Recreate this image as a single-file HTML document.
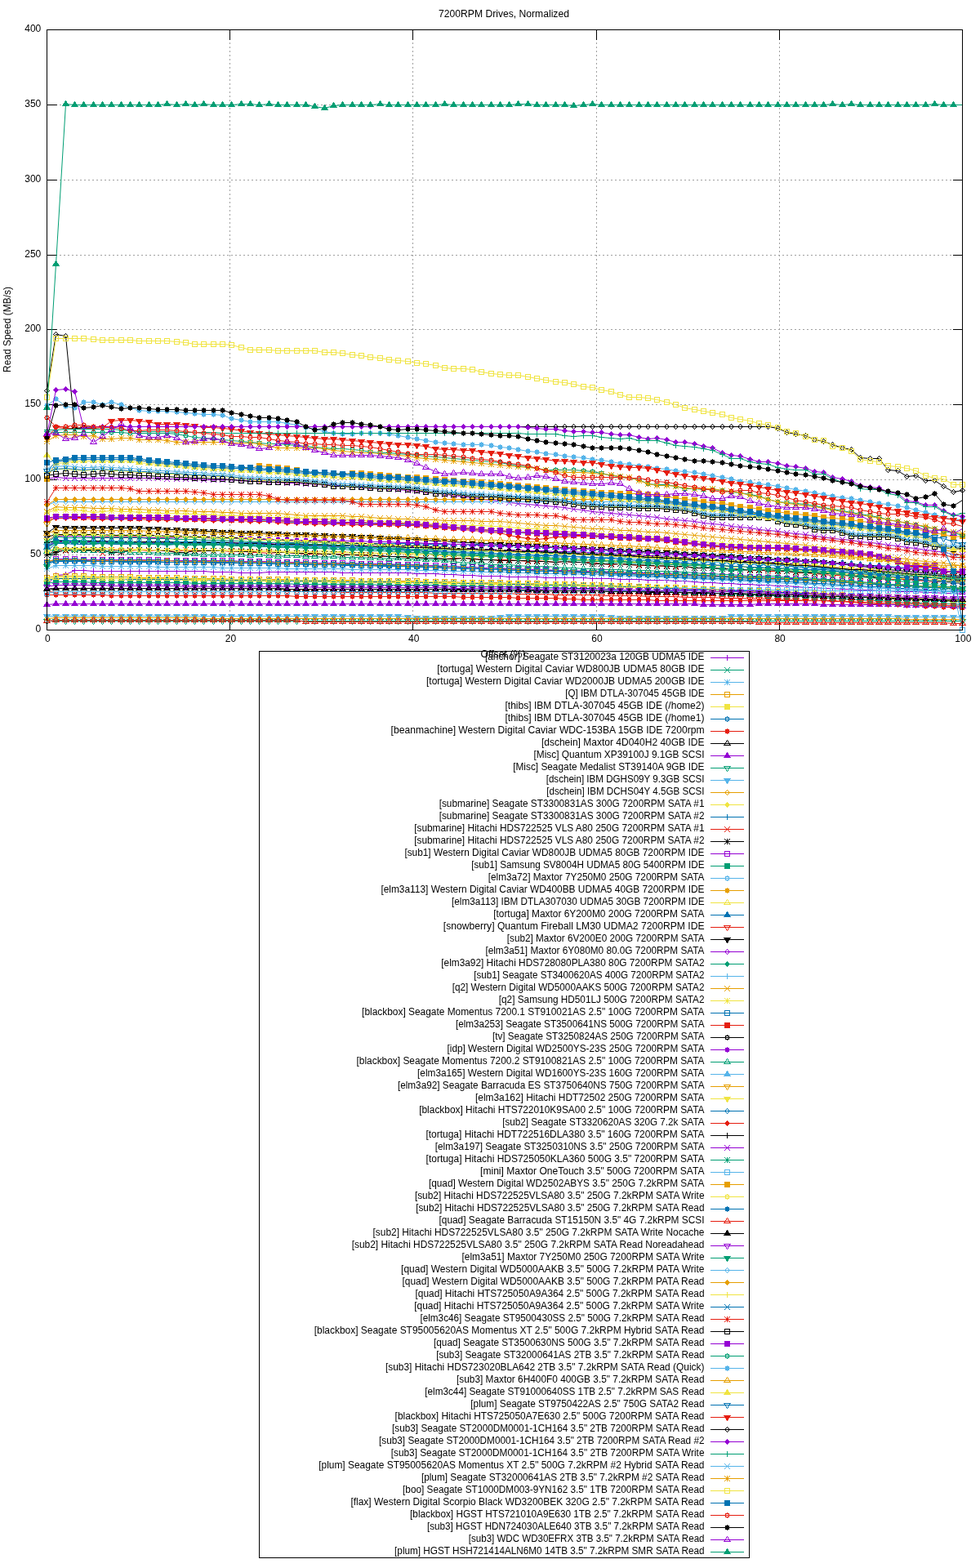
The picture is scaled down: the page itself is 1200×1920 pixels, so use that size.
<!DOCTYPE html>
<html lang="en">
<head>
<meta charset="utf-8">
<title>7200RPM Drives, Normalized</title>
<style>
html,body{margin:0;padding:0;background:#fff}
body{width:1200px;height:1920px;overflow:hidden}
svg{display:block}
text{font-family:'Liberation Sans', sans-serif;font-size:12px;fill:#000}
.g{stroke:#a0a0a0;stroke-width:1;stroke-dasharray:2 3;fill:none;shape-rendering:crispEdges}
.t{stroke:#000;stroke-width:1;fill:none;shape-rendering:crispEdges}
.s{fill:none;stroke-width:1;stroke-linejoin:round}
</style>
</head>
<body>
<svg width="1200" height="1920" viewBox="0 0 1200 1920">
<rect width="1200" height="1920" fill="#fff"/>
<defs>
<path id="p0" shape-rendering="crispEdges" d="M-0.5 -3.5h1v1h-1zM-0.5 -2.5h1v1h-1zM-0.5 -1.5h1v1h-1zM-0.5 0.5h1v1h-1zM-0.5 1.5h1v1h-1zM-0.5 2.5h1v1h-1zM-3.5 -0.5h7v1h-7z"/>
<path id="p1" shape-rendering="crispEdges" d="M-3.5 -3.5h1v1h-1zM2.5 -3.5h1v1h-1zM-2.5 -2.5h1v1h-1zM1.5 -2.5h1v1h-1zM-1.5 -1.5h1v1h-1zM0.5 -1.5h1v1h-1zM-1.5 0.5h1v1h-1zM0.5 0.5h1v1h-1zM-2.5 1.5h1v1h-1zM1.5 1.5h1v1h-1zM-3.5 2.5h1v1h-1zM2.5 2.5h1v1h-1zM-0.5 -0.5h1v1h-1z"/>
<path id="p2" shape-rendering="crispEdges" d="M-3.5 -3.5h1v1h-1zM-0.5 -3.5h1v1h-1zM2.5 -3.5h1v1h-1zM-2.5 -2.5h1v1h-1zM-0.5 -2.5h1v1h-1zM1.5 -2.5h1v1h-1zM-1.5 -1.5h1v1h-1zM-0.5 -1.5h1v1h-1zM0.5 -1.5h1v1h-1zM-1.5 0.5h1v1h-1zM-0.5 0.5h1v1h-1zM0.5 0.5h1v1h-1zM-2.5 1.5h1v1h-1zM-0.5 1.5h1v1h-1zM1.5 1.5h1v1h-1zM-3.5 2.5h1v1h-1zM-0.5 2.5h1v1h-1zM2.5 2.5h1v1h-1zM-3.5 -0.5h7v1h-7z"/>
<path id="p3" shape-rendering="crispEdges" d="M-3.5 -3.5h7v1h-7zM-3.5 2.5h7v1h-7zM-3.5 -2.5h1v1h-1zM2.5 -2.5h1v1h-1zM-3.5 -1.5h1v1h-1zM2.5 -1.5h1v1h-1zM-3.5 -0.5h1v1h-1zM2.5 -0.5h1v1h-1zM-3.5 0.5h1v1h-1zM2.5 0.5h1v1h-1zM-3.5 1.5h1v1h-1zM2.5 1.5h1v1h-1z"/>
<path id="p4" shape-rendering="crispEdges" d="M-3.5 -3.5h7v1h-7zM-3.5 -2.5h7v1h-7zM-3.5 -1.5h7v1h-7zM-3.5 -0.5h7v1h-7zM-3.5 0.5h7v1h-7zM-3.5 1.5h7v1h-7zM-3.5 2.5h7v1h-7z"/>
<path id="p5" shape-rendering="crispEdges" d="M-0.5 -3.5h1v1h-1zM-0.5 2.5h1v1h-1zM-2.5 -2.5h5v1h-5zM-2.5 1.5h5v1h-5zM-2.5 -1.5h1v1h-1zM1.5 -1.5h1v1h-1zM-2.5 0.5h1v1h-1zM1.5 0.5h1v1h-1zM-3.5 -0.5h2v1h-2zM1.5 -0.5h2v1h-2z"/>
<path id="p6" shape-rendering="crispEdges" d="M-0.5 -3.5h1v1h-1zM-0.5 2.5h1v1h-1zM-3.5 -0.5h7v1h-7zM-2.5 -2.5h5v1h-5zM-2.5 -1.5h5v1h-5zM-2.5 0.5h5v1h-5zM-2.5 1.5h5v1h-5z"/>
<path id="p7" shape-rendering="crispEdges" d="M-0.5 -4.5h1v1h-1zM-1.5 -3.5h1v1h-1zM0.5 -3.5h1v1h-1zM-1.5 -2.5h1v1h-1zM0.5 -2.5h1v1h-1zM-2.5 -1.5h1v1h-1zM1.5 -1.5h1v1h-1zM-3.5 -0.5h1v1h-1zM2.5 -0.5h1v1h-1zM-3.5 0.5h1v1h-1zM2.5 0.5h1v1h-1zM-4.5 1.5h9v1h-9z"/>
<path id="p8" shape-rendering="crispEdges" d="M-0.5 -4.5h1v1h-1zM-1.5 -3.5h3v1h-3zM-1.5 -2.5h3v1h-3zM-2.5 -1.5h5v1h-5zM-3.5 -0.5h7v1h-7zM-3.5 0.5h7v1h-7zM-4.5 1.5h9v1h-9z"/>
<path id="p9" shape-rendering="crispEdges" d="M-0.5 3.5h1v1h-1zM-1.5 2.5h1v1h-1zM0.5 2.5h1v1h-1zM-1.5 1.5h1v1h-1zM0.5 1.5h1v1h-1zM-2.5 0.5h1v1h-1zM1.5 0.5h1v1h-1zM-3.5 -0.5h1v1h-1zM2.5 -0.5h1v1h-1zM-3.5 -1.5h1v1h-1zM2.5 -1.5h1v1h-1zM-4.5 -2.5h9v1h-9z"/>
<path id="p10" shape-rendering="crispEdges" d="M-0.5 3.5h1v1h-1zM-1.5 2.5h3v1h-3zM-1.5 1.5h3v1h-3zM-2.5 0.5h5v1h-5zM-3.5 -0.5h7v1h-7zM-3.5 -1.5h7v1h-7zM-4.5 -2.5h9v1h-9z"/>
<path id="p11" shape-rendering="crispEdges" d="M-0.5 -3.5h1v1h-1zM-1.5 -2.5h1v1h-1zM0.5 -2.5h1v1h-1zM-2.5 -1.5h1v1h-1zM1.5 -1.5h1v1h-1zM-3.5 -0.5h1v1h-1zM2.5 -0.5h1v1h-1zM-2.5 0.5h1v1h-1zM1.5 0.5h1v1h-1zM-1.5 1.5h1v1h-1zM0.5 1.5h1v1h-1zM-0.5 2.5h1v1h-1z"/>
<path id="p12" shape-rendering="crispEdges" d="M-0.5 -3.5h1v1h-1zM-1.5 -2.5h3v1h-3zM-2.5 -1.5h5v1h-5zM-3.5 -0.5h7v1h-7zM-2.5 0.5h5v1h-5zM-1.5 1.5h3v1h-3zM-0.5 2.5h1v1h-1z"/>
<marker id="m1" markerUnits="userSpaceOnUse" markerWidth="12" markerHeight="12" viewBox="-6 -6 12 12" refX="0" refY="0" overflow="visible" shape-rendering="crispEdges"><use href="#p0" fill="#9400d3"/></marker>
<marker id="m2" markerUnits="userSpaceOnUse" markerWidth="12" markerHeight="12" viewBox="-6 -6 12 12" refX="0" refY="0" overflow="visible" shape-rendering="crispEdges"><use href="#p1" fill="#009e73"/></marker>
<marker id="m3" markerUnits="userSpaceOnUse" markerWidth="12" markerHeight="12" viewBox="-6 -6 12 12" refX="0" refY="0" overflow="visible" shape-rendering="crispEdges"><use href="#p2" fill="#56b4e9"/></marker>
<marker id="m4" markerUnits="userSpaceOnUse" markerWidth="12" markerHeight="12" viewBox="-6 -6 12 12" refX="0" refY="0" overflow="visible" shape-rendering="crispEdges"><use href="#p3" fill="#e69f00"/></marker>
<marker id="m5" markerUnits="userSpaceOnUse" markerWidth="12" markerHeight="12" viewBox="-6 -6 12 12" refX="0" refY="0" overflow="visible" shape-rendering="crispEdges"><use href="#p4" fill="#f0e442"/></marker>
<marker id="m6" markerUnits="userSpaceOnUse" markerWidth="12" markerHeight="12" viewBox="-6 -6 12 12" refX="0" refY="0" overflow="visible" shape-rendering="crispEdges"><use href="#p5" fill="#0072b2"/></marker>
<marker id="m7" markerUnits="userSpaceOnUse" markerWidth="12" markerHeight="12" viewBox="-6 -6 12 12" refX="0" refY="0" overflow="visible" shape-rendering="crispEdges"><use href="#p6" fill="#e51e10"/></marker>
<marker id="m8" markerUnits="userSpaceOnUse" markerWidth="12" markerHeight="12" viewBox="-6 -6 12 12" refX="0" refY="0" overflow="visible" shape-rendering="crispEdges"><use href="#p7" fill="#000000"/></marker>
<marker id="m9" markerUnits="userSpaceOnUse" markerWidth="12" markerHeight="12" viewBox="-6 -6 12 12" refX="0" refY="0" overflow="visible" shape-rendering="crispEdges"><use href="#p8" fill="#9400d3"/></marker>
<marker id="m10" markerUnits="userSpaceOnUse" markerWidth="12" markerHeight="12" viewBox="-6 -6 12 12" refX="0" refY="0" overflow="visible" shape-rendering="crispEdges"><use href="#p9" fill="#009e73"/></marker>
<marker id="m11" markerUnits="userSpaceOnUse" markerWidth="12" markerHeight="12" viewBox="-6 -6 12 12" refX="0" refY="0" overflow="visible" shape-rendering="crispEdges"><use href="#p10" fill="#56b4e9"/></marker>
<marker id="m12" markerUnits="userSpaceOnUse" markerWidth="12" markerHeight="12" viewBox="-6 -6 12 12" refX="0" refY="0" overflow="visible" shape-rendering="crispEdges"><use href="#p11" fill="#e69f00"/></marker>
<marker id="m13" markerUnits="userSpaceOnUse" markerWidth="12" markerHeight="12" viewBox="-6 -6 12 12" refX="0" refY="0" overflow="visible" shape-rendering="crispEdges"><use href="#p12" fill="#f0e442"/></marker>
<marker id="m14" markerUnits="userSpaceOnUse" markerWidth="12" markerHeight="12" viewBox="-6 -6 12 12" refX="0" refY="0" overflow="visible" shape-rendering="crispEdges"><use href="#p0" fill="#0072b2"/></marker>
<marker id="m15" markerUnits="userSpaceOnUse" markerWidth="12" markerHeight="12" viewBox="-6 -6 12 12" refX="0" refY="0" overflow="visible" shape-rendering="crispEdges"><use href="#p1" fill="#e51e10"/></marker>
<marker id="m16" markerUnits="userSpaceOnUse" markerWidth="12" markerHeight="12" viewBox="-6 -6 12 12" refX="0" refY="0" overflow="visible" shape-rendering="crispEdges"><use href="#p2" fill="#000000"/></marker>
<marker id="m17" markerUnits="userSpaceOnUse" markerWidth="12" markerHeight="12" viewBox="-6 -6 12 12" refX="0" refY="0" overflow="visible" shape-rendering="crispEdges"><use href="#p3" fill="#9400d3"/></marker>
<marker id="m18" markerUnits="userSpaceOnUse" markerWidth="12" markerHeight="12" viewBox="-6 -6 12 12" refX="0" refY="0" overflow="visible" shape-rendering="crispEdges"><use href="#p4" fill="#009e73"/></marker>
<marker id="m19" markerUnits="userSpaceOnUse" markerWidth="12" markerHeight="12" viewBox="-6 -6 12 12" refX="0" refY="0" overflow="visible" shape-rendering="crispEdges"><use href="#p5" fill="#56b4e9"/></marker>
<marker id="m20" markerUnits="userSpaceOnUse" markerWidth="12" markerHeight="12" viewBox="-6 -6 12 12" refX="0" refY="0" overflow="visible" shape-rendering="crispEdges"><use href="#p6" fill="#e69f00"/></marker>
<marker id="m21" markerUnits="userSpaceOnUse" markerWidth="12" markerHeight="12" viewBox="-6 -6 12 12" refX="0" refY="0" overflow="visible" shape-rendering="crispEdges"><use href="#p7" fill="#f0e442"/></marker>
<marker id="m22" markerUnits="userSpaceOnUse" markerWidth="12" markerHeight="12" viewBox="-6 -6 12 12" refX="0" refY="0" overflow="visible" shape-rendering="crispEdges"><use href="#p8" fill="#0072b2"/></marker>
<marker id="m23" markerUnits="userSpaceOnUse" markerWidth="12" markerHeight="12" viewBox="-6 -6 12 12" refX="0" refY="0" overflow="visible" shape-rendering="crispEdges"><use href="#p9" fill="#e51e10"/></marker>
<marker id="m24" markerUnits="userSpaceOnUse" markerWidth="12" markerHeight="12" viewBox="-6 -6 12 12" refX="0" refY="0" overflow="visible" shape-rendering="crispEdges"><use href="#p10" fill="#000000"/></marker>
<marker id="m25" markerUnits="userSpaceOnUse" markerWidth="12" markerHeight="12" viewBox="-6 -6 12 12" refX="0" refY="0" overflow="visible" shape-rendering="crispEdges"><use href="#p11" fill="#9400d3"/></marker>
<marker id="m26" markerUnits="userSpaceOnUse" markerWidth="12" markerHeight="12" viewBox="-6 -6 12 12" refX="0" refY="0" overflow="visible" shape-rendering="crispEdges"><use href="#p12" fill="#009e73"/></marker>
<marker id="m27" markerUnits="userSpaceOnUse" markerWidth="12" markerHeight="12" viewBox="-6 -6 12 12" refX="0" refY="0" overflow="visible" shape-rendering="crispEdges"><use href="#p0" fill="#56b4e9"/></marker>
<marker id="m28" markerUnits="userSpaceOnUse" markerWidth="12" markerHeight="12" viewBox="-6 -6 12 12" refX="0" refY="0" overflow="visible" shape-rendering="crispEdges"><use href="#p1" fill="#e69f00"/></marker>
<marker id="m29" markerUnits="userSpaceOnUse" markerWidth="12" markerHeight="12" viewBox="-6 -6 12 12" refX="0" refY="0" overflow="visible" shape-rendering="crispEdges"><use href="#p2" fill="#f0e442"/></marker>
<marker id="m30" markerUnits="userSpaceOnUse" markerWidth="12" markerHeight="12" viewBox="-6 -6 12 12" refX="0" refY="0" overflow="visible" shape-rendering="crispEdges"><use href="#p3" fill="#0072b2"/></marker>
<marker id="m31" markerUnits="userSpaceOnUse" markerWidth="12" markerHeight="12" viewBox="-6 -6 12 12" refX="0" refY="0" overflow="visible" shape-rendering="crispEdges"><use href="#p4" fill="#e51e10"/></marker>
<marker id="m32" markerUnits="userSpaceOnUse" markerWidth="12" markerHeight="12" viewBox="-6 -6 12 12" refX="0" refY="0" overflow="visible" shape-rendering="crispEdges"><use href="#p5" fill="#000000"/></marker>
<marker id="m33" markerUnits="userSpaceOnUse" markerWidth="12" markerHeight="12" viewBox="-6 -6 12 12" refX="0" refY="0" overflow="visible" shape-rendering="crispEdges"><use href="#p6" fill="#9400d3"/></marker>
<marker id="m34" markerUnits="userSpaceOnUse" markerWidth="12" markerHeight="12" viewBox="-6 -6 12 12" refX="0" refY="0" overflow="visible" shape-rendering="crispEdges"><use href="#p7" fill="#009e73"/></marker>
<marker id="m35" markerUnits="userSpaceOnUse" markerWidth="12" markerHeight="12" viewBox="-6 -6 12 12" refX="0" refY="0" overflow="visible" shape-rendering="crispEdges"><use href="#p8" fill="#56b4e9"/></marker>
<marker id="m36" markerUnits="userSpaceOnUse" markerWidth="12" markerHeight="12" viewBox="-6 -6 12 12" refX="0" refY="0" overflow="visible" shape-rendering="crispEdges"><use href="#p9" fill="#e69f00"/></marker>
<marker id="m37" markerUnits="userSpaceOnUse" markerWidth="12" markerHeight="12" viewBox="-6 -6 12 12" refX="0" refY="0" overflow="visible" shape-rendering="crispEdges"><use href="#p10" fill="#f0e442"/></marker>
<marker id="m38" markerUnits="userSpaceOnUse" markerWidth="12" markerHeight="12" viewBox="-6 -6 12 12" refX="0" refY="0" overflow="visible" shape-rendering="crispEdges"><use href="#p11" fill="#0072b2"/></marker>
<marker id="m39" markerUnits="userSpaceOnUse" markerWidth="12" markerHeight="12" viewBox="-6 -6 12 12" refX="0" refY="0" overflow="visible" shape-rendering="crispEdges"><use href="#p12" fill="#e51e10"/></marker>
<marker id="m40" markerUnits="userSpaceOnUse" markerWidth="12" markerHeight="12" viewBox="-6 -6 12 12" refX="0" refY="0" overflow="visible" shape-rendering="crispEdges"><use href="#p0" fill="#000000"/></marker>
<marker id="m41" markerUnits="userSpaceOnUse" markerWidth="12" markerHeight="12" viewBox="-6 -6 12 12" refX="0" refY="0" overflow="visible" shape-rendering="crispEdges"><use href="#p1" fill="#9400d3"/></marker>
<marker id="m42" markerUnits="userSpaceOnUse" markerWidth="12" markerHeight="12" viewBox="-6 -6 12 12" refX="0" refY="0" overflow="visible" shape-rendering="crispEdges"><use href="#p2" fill="#009e73"/></marker>
<marker id="m43" markerUnits="userSpaceOnUse" markerWidth="12" markerHeight="12" viewBox="-6 -6 12 12" refX="0" refY="0" overflow="visible" shape-rendering="crispEdges"><use href="#p3" fill="#56b4e9"/></marker>
<marker id="m44" markerUnits="userSpaceOnUse" markerWidth="12" markerHeight="12" viewBox="-6 -6 12 12" refX="0" refY="0" overflow="visible" shape-rendering="crispEdges"><use href="#p4" fill="#e69f00"/></marker>
<marker id="m45" markerUnits="userSpaceOnUse" markerWidth="12" markerHeight="12" viewBox="-6 -6 12 12" refX="0" refY="0" overflow="visible" shape-rendering="crispEdges"><use href="#p5" fill="#f0e442"/></marker>
<marker id="m46" markerUnits="userSpaceOnUse" markerWidth="12" markerHeight="12" viewBox="-6 -6 12 12" refX="0" refY="0" overflow="visible" shape-rendering="crispEdges"><use href="#p6" fill="#0072b2"/></marker>
<marker id="m47" markerUnits="userSpaceOnUse" markerWidth="12" markerHeight="12" viewBox="-6 -6 12 12" refX="0" refY="0" overflow="visible" shape-rendering="crispEdges"><use href="#p7" fill="#e51e10"/></marker>
<marker id="m48" markerUnits="userSpaceOnUse" markerWidth="12" markerHeight="12" viewBox="-6 -6 12 12" refX="0" refY="0" overflow="visible" shape-rendering="crispEdges"><use href="#p8" fill="#000000"/></marker>
<marker id="m49" markerUnits="userSpaceOnUse" markerWidth="12" markerHeight="12" viewBox="-6 -6 12 12" refX="0" refY="0" overflow="visible" shape-rendering="crispEdges"><use href="#p9" fill="#9400d3"/></marker>
<marker id="m50" markerUnits="userSpaceOnUse" markerWidth="12" markerHeight="12" viewBox="-6 -6 12 12" refX="0" refY="0" overflow="visible" shape-rendering="crispEdges"><use href="#p10" fill="#009e73"/></marker>
<marker id="m51" markerUnits="userSpaceOnUse" markerWidth="12" markerHeight="12" viewBox="-6 -6 12 12" refX="0" refY="0" overflow="visible" shape-rendering="crispEdges"><use href="#p11" fill="#56b4e9"/></marker>
<marker id="m52" markerUnits="userSpaceOnUse" markerWidth="12" markerHeight="12" viewBox="-6 -6 12 12" refX="0" refY="0" overflow="visible" shape-rendering="crispEdges"><use href="#p12" fill="#e69f00"/></marker>
<marker id="m53" markerUnits="userSpaceOnUse" markerWidth="12" markerHeight="12" viewBox="-6 -6 12 12" refX="0" refY="0" overflow="visible" shape-rendering="crispEdges"><use href="#p0" fill="#f0e442"/></marker>
<marker id="m54" markerUnits="userSpaceOnUse" markerWidth="12" markerHeight="12" viewBox="-6 -6 12 12" refX="0" refY="0" overflow="visible" shape-rendering="crispEdges"><use href="#p1" fill="#0072b2"/></marker>
<marker id="m55" markerUnits="userSpaceOnUse" markerWidth="12" markerHeight="12" viewBox="-6 -6 12 12" refX="0" refY="0" overflow="visible" shape-rendering="crispEdges"><use href="#p2" fill="#e51e10"/></marker>
<marker id="m56" markerUnits="userSpaceOnUse" markerWidth="12" markerHeight="12" viewBox="-6 -6 12 12" refX="0" refY="0" overflow="visible" shape-rendering="crispEdges"><use href="#p3" fill="#000000"/></marker>
<marker id="m57" markerUnits="userSpaceOnUse" markerWidth="12" markerHeight="12" viewBox="-6 -6 12 12" refX="0" refY="0" overflow="visible" shape-rendering="crispEdges"><use href="#p4" fill="#9400d3"/></marker>
<marker id="m58" markerUnits="userSpaceOnUse" markerWidth="12" markerHeight="12" viewBox="-6 -6 12 12" refX="0" refY="0" overflow="visible" shape-rendering="crispEdges"><use href="#p5" fill="#009e73"/></marker>
<marker id="m59" markerUnits="userSpaceOnUse" markerWidth="12" markerHeight="12" viewBox="-6 -6 12 12" refX="0" refY="0" overflow="visible" shape-rendering="crispEdges"><use href="#p6" fill="#56b4e9"/></marker>
<marker id="m60" markerUnits="userSpaceOnUse" markerWidth="12" markerHeight="12" viewBox="-6 -6 12 12" refX="0" refY="0" overflow="visible" shape-rendering="crispEdges"><use href="#p7" fill="#e69f00"/></marker>
<marker id="m61" markerUnits="userSpaceOnUse" markerWidth="12" markerHeight="12" viewBox="-6 -6 12 12" refX="0" refY="0" overflow="visible" shape-rendering="crispEdges"><use href="#p8" fill="#f0e442"/></marker>
<marker id="m62" markerUnits="userSpaceOnUse" markerWidth="12" markerHeight="12" viewBox="-6 -6 12 12" refX="0" refY="0" overflow="visible" shape-rendering="crispEdges"><use href="#p9" fill="#0072b2"/></marker>
<marker id="m63" markerUnits="userSpaceOnUse" markerWidth="12" markerHeight="12" viewBox="-6 -6 12 12" refX="0" refY="0" overflow="visible" shape-rendering="crispEdges"><use href="#p10" fill="#e51e10"/></marker>
<marker id="m64" markerUnits="userSpaceOnUse" markerWidth="12" markerHeight="12" viewBox="-6 -6 12 12" refX="0" refY="0" overflow="visible" shape-rendering="crispEdges"><use href="#p11" fill="#000000"/></marker>
<marker id="m65" markerUnits="userSpaceOnUse" markerWidth="12" markerHeight="12" viewBox="-6 -6 12 12" refX="0" refY="0" overflow="visible" shape-rendering="crispEdges"><use href="#p12" fill="#9400d3"/></marker>
<marker id="m66" markerUnits="userSpaceOnUse" markerWidth="12" markerHeight="12" viewBox="-6 -6 12 12" refX="0" refY="0" overflow="visible" shape-rendering="crispEdges"><use href="#p0" fill="#009e73"/></marker>
<marker id="m67" markerUnits="userSpaceOnUse" markerWidth="12" markerHeight="12" viewBox="-6 -6 12 12" refX="0" refY="0" overflow="visible" shape-rendering="crispEdges"><use href="#p1" fill="#56b4e9"/></marker>
<marker id="m68" markerUnits="userSpaceOnUse" markerWidth="12" markerHeight="12" viewBox="-6 -6 12 12" refX="0" refY="0" overflow="visible" shape-rendering="crispEdges"><use href="#p2" fill="#e69f00"/></marker>
<marker id="m69" markerUnits="userSpaceOnUse" markerWidth="12" markerHeight="12" viewBox="-6 -6 12 12" refX="0" refY="0" overflow="visible" shape-rendering="crispEdges"><use href="#p3" fill="#f0e442"/></marker>
<marker id="m70" markerUnits="userSpaceOnUse" markerWidth="12" markerHeight="12" viewBox="-6 -6 12 12" refX="0" refY="0" overflow="visible" shape-rendering="crispEdges"><use href="#p4" fill="#0072b2"/></marker>
<marker id="m71" markerUnits="userSpaceOnUse" markerWidth="12" markerHeight="12" viewBox="-6 -6 12 12" refX="0" refY="0" overflow="visible" shape-rendering="crispEdges"><use href="#p5" fill="#e51e10"/></marker>
<marker id="m72" markerUnits="userSpaceOnUse" markerWidth="12" markerHeight="12" viewBox="-6 -6 12 12" refX="0" refY="0" overflow="visible" shape-rendering="crispEdges"><use href="#p6" fill="#000000"/></marker>
<marker id="m73" markerUnits="userSpaceOnUse" markerWidth="12" markerHeight="12" viewBox="-6 -6 12 12" refX="0" refY="0" overflow="visible" shape-rendering="crispEdges"><use href="#p7" fill="#9400d3"/></marker>
<marker id="m74" markerUnits="userSpaceOnUse" markerWidth="12" markerHeight="12" viewBox="-6 -6 12 12" refX="0" refY="0" overflow="visible" shape-rendering="crispEdges"><use href="#p8" fill="#009e73"/></marker>
</defs>
<g class="g">
<path d="M57.5 679.5H1178.5"/>
<path d="M57.5 587.5H1178.5"/>
<path d="M57.5 495.5H1178.5"/>
<path d="M57.5 403.5H1178.5"/>
<path d="M57.5 312.5H1178.5"/>
<path d="M57.5 220.5H1178.5"/>
<path d="M57.5 128.5H1178.5"/>
<path d="M281.5 36.5V771.5"/>
<path d="M505.5 36.5V771.5"/>
<path d="M730.5 36.5V771.5"/>
<path d="M954.5 36.5V771.5"/>
</g>
<g class="t">
<path d="M57.5 771.5h12M1178.5 771.5h-12M57.5 679.5h12M1178.5 679.5h-12M57.5 587.5h12M1178.5 587.5h-12M57.5 495.5h12M1178.5 495.5h-12M57.5 403.5h12M1178.5 403.5h-12M57.5 312.5h12M1178.5 312.5h-12M57.5 220.5h12M1178.5 220.5h-12M57.5 128.5h12M1178.5 128.5h-12M57.5 36.5h12M1178.5 36.5h-12M57.5 771.5v-12M57.5 36.5v12M281.5 771.5v-12M281.5 36.5v12M505.5 771.5v-12M505.5 36.5v12M730.5 771.5v-12M730.5 36.5v12M954.5 771.5v-12M954.5 36.5v12M1178.5 771.5v-12M1178.5 36.5v12"/>
</g>
<g id="ylabels" text-anchor="end">
<text x="50.3" y="773.9" textLength="6.7" lengthAdjust="spacingAndGlyphs">0</text>
<text x="50.3" y="682" textLength="13.3" lengthAdjust="spacingAndGlyphs">50</text>
<text x="50.3" y="590.1" textLength="20" lengthAdjust="spacingAndGlyphs">100</text>
<text x="50.3" y="498.3" textLength="20" lengthAdjust="spacingAndGlyphs">150</text>
<text x="50.3" y="406.4" textLength="20" lengthAdjust="spacingAndGlyphs">200</text>
<text x="50.3" y="314.5" textLength="20" lengthAdjust="spacingAndGlyphs">250</text>
<text x="50.3" y="222.7" textLength="20" lengthAdjust="spacingAndGlyphs">300</text>
<text x="50.3" y="130.8" textLength="20" lengthAdjust="spacingAndGlyphs">350</text>
<text x="50.3" y="38.9" textLength="20" lengthAdjust="spacingAndGlyphs">400</text>
</g>
<g id="xlabels" text-anchor="middle">
<text x="58.3" y="785.7">0</text>
<text x="282.5" y="785.7">20</text>
<text x="506.7" y="785.7">40</text>
<text x="730.9" y="785.7">60</text>
<text x="955.1" y="785.7">80</text>
<text x="1179.3" y="785.7">100</text>
</g>
<text id="title" x="617" y="21" text-anchor="middle" textLength="159.8" lengthAdjust="spacingAndGlyphs">7200RPM Drives, Normalized</text>
<text id="ylabel" transform="translate(13.2 403.5) rotate(-90)" text-anchor="middle" textLength="104.9" lengthAdjust="spacingAndGlyphs">Read Speed (MB/s)</text>
<text id="xlabel" x="616" y="804.6" text-anchor="middle" textLength="55.1" lengthAdjust="spacingAndGlyphs">Offset (%)</text>
<g id="plots">
<g id="s1">
<text x="862.5" y="807.9" text-anchor="end" textLength="268.5" lengthAdjust="spacingAndGlyphs">[anchor] Seagate ST3120023a 120GB UDMA5 IDE</text>
<path class="s" stroke="#9400d3" d="M870 805.5H911"/><use href="#p0" x="890.5" y="805.5" fill="#9400d3"/>
<polyline class="s" stroke="#9400d3" marker-start="url(#m1)" marker-mid="url(#m1)" marker-end="url(#m1)" points="57.5,716.5 68.5,704.5 80.5,703.5 91.5,698.5 102.5,698.5 114.5,699.5 125.5,699.5 136.5,699.5 148.5,699.5 159.5,699.5 170.5,699.5 182.5,699.5 193.5,699.5 204.5,699.5 216.5,699.5 227.5,699.5 238.5,699.5 249.5,699.5 261.5,700.5 272.5,700.5 283.5,700.5 295.5,701.5 306.5,701.5 317.5,701.5 329.5,700.5 340.5,700.5 351.5,700.5 363.5,700.5 374.5,700.5 385.5,700.5 397.5,700.5 408.5,700.5 419.5,701.5 431.5,701.5 442.5,701.5 453.5,701.5 465.5,701.5 476.5,701.5 487.5,701.5 499.5,701.5 510.5,702.5 521.5,702.5 533.5,702.5 544.5,703.5 555.5,703.5 567.5,704.5 578.5,704.5 589.5,705.5 601.5,705.5 612.5,705.5 623.5,706.5 634.5,706.5 646.5,706.5 657.5,706.5 668.5,707.5 680.5,707.5 691.5,707.5 702.5,707.5 714.5,707.5 725.5,708.5 736.5,708.5 748.5,708.5 759.5,709.5 770.5,709.5 782.5,709.5 793.5,710.5 804.5,710.5 816.5,710.5 827.5,711.5 838.5,711.5 850.5,712.5 861.5,713.5 872.5,713.5 884.5,714.5 895.5,714.5 906.5,715.5 918.5,715.5 929.5,716.5 940.5,716.5 952.5,717.5 963.5,717.5 974.5,718.5 986.5,719.5 997.5,719.5 1008.5,720.5 1019.5,720.5 1031.5,721.5 1042.5,721.5 1053.5,722.5 1065.5,722.5 1076.5,723.5 1087.5,723.5 1099.5,724.5 1110.5,724.5 1121.5,724.5 1133.5,725.5 1144.5,725.5 1155.5,726.5 1167.5,726.5 1178.5,727.5"/>
</g>
<g id="s2">
<text x="862.5" y="822.9" text-anchor="end" textLength="327.2" lengthAdjust="spacingAndGlyphs">[tortuga] Western Digital Caviar WD800JB UDMA5 80GB IDE</text>
<path class="s" stroke="#009e73" d="M870 820.5H911"/><use href="#p1" x="890.5" y="820.5" fill="#009e73"/>
<polyline class="s" stroke="#009e73" marker-start="url(#m2)" marker-mid="url(#m2)" marker-end="url(#m2)" points="57.5,688.5 68.5,685.5 80.5,685.5 91.5,685.5 102.5,685.5 114.5,685.5 125.5,685.5 136.5,685.5 148.5,685.5 159.5,685.5 170.5,686.5 182.5,686.5 193.5,686.5 204.5,686.5 216.5,686.5 227.5,686.5 238.5,686.5 249.5,686.5 261.5,686.5 272.5,687.5 283.5,687.5 295.5,687.5 306.5,687.5 317.5,687.5 329.5,688.5 340.5,688.5 351.5,688.5 363.5,688.5 374.5,689.5 385.5,689.5 397.5,689.5 408.5,689.5 419.5,690.5 431.5,690.5 442.5,690.5 453.5,690.5 465.5,691.5 476.5,691.5 487.5,691.5 499.5,691.5 510.5,692.5 521.5,692.5 533.5,693.5 544.5,693.5 555.5,693.5 567.5,694.5 578.5,694.5 589.5,695.5 601.5,695.5 612.5,696.5 623.5,696.5 634.5,697.5 646.5,697.5 657.5,697.5 668.5,698.5 680.5,698.5 691.5,698.5 702.5,699.5 714.5,699.5 725.5,699.5 736.5,700.5 748.5,700.5 759.5,701.5 770.5,701.5 782.5,701.5 793.5,702.5 804.5,702.5 816.5,702.5 827.5,703.5 838.5,703.5 850.5,704.5 861.5,704.5 872.5,705.5 884.5,705.5 895.5,705.5 906.5,706.5 918.5,706.5 929.5,707.5 940.5,707.5 952.5,708.5 963.5,708.5 974.5,708.5 986.5,709.5 997.5,709.5 1008.5,710.5 1019.5,710.5 1031.5,711.5 1042.5,712.5 1053.5,713.5 1065.5,713.5 1076.5,714.5 1087.5,715.5 1099.5,715.5 1110.5,716.5 1121.5,717.5 1133.5,718.5 1144.5,718.5 1155.5,719.5 1167.5,720.5 1178.5,720.5"/>
</g>
<g id="s3">
<text x="862.5" y="837.9" text-anchor="end" textLength="340.5" lengthAdjust="spacingAndGlyphs">[tortuga] Western Digital Caviar WD2000JB UDMA5 200GB IDE</text>
<path class="s" stroke="#56b4e9" d="M870 835.5H911"/><use href="#p2" x="890.5" y="835.5" fill="#56b4e9"/>
<polyline class="s" stroke="#56b4e9" marker-start="url(#m3)" marker-mid="url(#m3)" marker-end="url(#m3)" points="57.5,696.5 68.5,692.5 80.5,692.5 91.5,692.5 102.5,692.5 114.5,692.5 125.5,693.5 136.5,693.5 148.5,693.5 159.5,693.5 170.5,693.5 182.5,693.5 193.5,694.5 204.5,694.5 216.5,694.5 227.5,694.5 238.5,694.5 249.5,694.5 261.5,694.5 272.5,695.5 283.5,695.5 295.5,695.5 306.5,695.5 317.5,695.5 329.5,695.5 340.5,695.5 351.5,696.5 363.5,696.5 374.5,696.5 385.5,696.5 397.5,696.5 408.5,696.5 419.5,696.5 431.5,697.5 442.5,697.5 453.5,697.5 465.5,697.5 476.5,697.5 487.5,697.5 499.5,697.5 510.5,698.5 521.5,698.5 533.5,698.5 544.5,698.5 555.5,699.5 567.5,699.5 578.5,699.5 589.5,700.5 601.5,700.5 612.5,700.5 623.5,700.5 634.5,701.5 646.5,701.5 657.5,701.5 668.5,702.5 680.5,702.5 691.5,702.5 702.5,702.5 714.5,703.5 725.5,703.5 736.5,703.5 748.5,704.5 759.5,704.5 770.5,705.5 782.5,705.5 793.5,706.5 804.5,706.5 816.5,707.5 827.5,707.5 838.5,708.5 850.5,708.5 861.5,709.5 872.5,709.5 884.5,710.5 895.5,710.5 906.5,711.5 918.5,711.5 929.5,712.5 940.5,713.5 952.5,713.5 963.5,714.5 974.5,714.5 986.5,715.5 997.5,715.5 1008.5,716.5 1019.5,717.5 1031.5,717.5 1042.5,718.5 1053.5,718.5 1065.5,719.5 1076.5,720.5 1087.5,720.5 1099.5,721.5 1110.5,721.5 1121.5,722.5 1133.5,723.5 1144.5,723.5 1155.5,724.5 1167.5,724.5 1178.5,725.5"/>
</g>
<g id="s4">
<text x="862.5" y="852.9" text-anchor="end" textLength="170.3" lengthAdjust="spacingAndGlyphs">[Q] IBM DTLA-307045 45GB IDE</text>
<path class="s" stroke="#e69f00" d="M870 850.5H911"/><use href="#p3" x="890.5" y="850.5" fill="#e69f00"/>
<polyline class="s" stroke="#e69f00" marker-start="url(#m4)" marker-mid="url(#m4)" marker-end="url(#m4)" points="57.5,707.5 68.5,705.5 80.5,705.5 91.5,705.5 102.5,705.5 114.5,706.5 125.5,706.5 136.5,706.5 148.5,706.5 159.5,706.5 170.5,707.5 182.5,707.5 193.5,707.5 204.5,707.5 216.5,707.5 227.5,708.5 238.5,708.5 249.5,708.5 261.5,708.5 272.5,708.5 283.5,709.5 295.5,709.5 306.5,709.5 317.5,709.5 329.5,709.5 340.5,709.5 351.5,709.5 363.5,710.5 374.5,710.5 385.5,710.5 397.5,710.5 408.5,710.5 419.5,710.5 431.5,710.5 442.5,711.5 453.5,711.5 465.5,711.5 476.5,711.5 487.5,711.5 499.5,711.5 510.5,711.5 521.5,712.5 533.5,712.5 544.5,712.5 555.5,712.5 567.5,713.5 578.5,713.5 589.5,713.5 601.5,713.5 612.5,713.5 623.5,714.5 634.5,714.5 646.5,714.5 657.5,714.5 668.5,715.5 680.5,715.5 691.5,715.5 702.5,715.5 714.5,716.5 725.5,716.5 736.5,716.5 748.5,717.5 759.5,717.5 770.5,717.5 782.5,718.5 793.5,718.5 804.5,719.5 816.5,719.5 827.5,719.5 838.5,720.5 850.5,720.5 861.5,721.5 872.5,721.5 884.5,722.5 895.5,722.5 906.5,722.5 918.5,723.5 929.5,723.5 940.5,724.5 952.5,724.5 963.5,725.5 974.5,725.5 986.5,726.5 997.5,726.5 1008.5,727.5 1019.5,728.5 1031.5,728.5 1042.5,729.5 1053.5,729.5 1065.5,730.5 1076.5,731.5 1087.5,731.5 1099.5,732.5 1110.5,732.5 1121.5,733.5 1133.5,734.5 1144.5,734.5 1155.5,735.5 1167.5,735.5 1178.5,736.5"/>
</g>
<g id="s5">
<text x="862.5" y="867.9" text-anchor="end" textLength="244" lengthAdjust="spacingAndGlyphs">[thibs] IBM DTLA-307045 45GB IDE (/home2)</text>
<path class="s" stroke="#f0e442" d="M870 865.5H911"/><use href="#p4" x="890.5" y="865.5" fill="#f0e442"/>
<polyline class="s" stroke="#f0e442" marker-start="url(#m5)" marker-mid="url(#m5)" marker-end="url(#m5)" points="57.5,709.5 68.5,707.5 80.5,707.5 91.5,707.5 102.5,707.5 114.5,707.5 125.5,708.5 136.5,708.5 148.5,708.5 159.5,708.5 170.5,709.5 182.5,709.5 193.5,709.5 204.5,709.5 216.5,709.5 227.5,710.5 238.5,710.5 249.5,710.5 261.5,710.5 272.5,710.5 283.5,711.5 295.5,711.5 306.5,711.5 317.5,711.5 329.5,711.5 340.5,711.5 351.5,711.5 363.5,711.5 374.5,712.5 385.5,712.5 397.5,712.5 408.5,712.5 419.5,712.5 431.5,712.5 442.5,712.5 453.5,713.5 465.5,713.5 476.5,713.5 487.5,713.5 499.5,713.5 510.5,713.5 521.5,713.5 533.5,714.5 544.5,714.5 555.5,714.5 567.5,714.5 578.5,714.5 589.5,715.5 601.5,715.5 612.5,715.5 623.5,715.5 634.5,715.5 646.5,716.5 657.5,716.5 668.5,716.5 680.5,716.5 691.5,716.5 702.5,717.5 714.5,717.5 725.5,717.5 736.5,717.5 748.5,718.5 759.5,718.5 770.5,719.5 782.5,719.5 793.5,719.5 804.5,720.5 816.5,720.5 827.5,721.5 838.5,721.5 850.5,721.5 861.5,722.5 872.5,722.5 884.5,723.5 895.5,723.5 906.5,723.5 918.5,724.5 929.5,724.5 940.5,725.5 952.5,725.5 963.5,726.5 974.5,726.5 986.5,727.5 997.5,727.5 1008.5,728.5 1019.5,729.5 1031.5,729.5 1042.5,730.5 1053.5,730.5 1065.5,731.5 1076.5,732.5 1087.5,732.5 1099.5,733.5 1110.5,733.5 1121.5,734.5 1133.5,735.5 1144.5,735.5 1155.5,736.5 1167.5,736.5 1178.5,737.5"/>
</g>
<g id="s6">
<text x="862.5" y="882.9" text-anchor="end" textLength="244" lengthAdjust="spacingAndGlyphs">[thibs] IBM DTLA-307045 45GB IDE (/home1)</text>
<path class="s" stroke="#0072b2" d="M870 880.5H911"/><use href="#p5" x="890.5" y="880.5" fill="#0072b2"/>
<polyline class="s" stroke="#0072b2" marker-start="url(#m6)" marker-mid="url(#m6)" marker-end="url(#m6)" points="57.5,710.5 68.5,708.5 80.5,708.5 91.5,708.5 102.5,708.5 114.5,708.5 125.5,708.5 136.5,708.5 148.5,708.5 159.5,709.5 170.5,709.5 182.5,709.5 193.5,709.5 204.5,709.5 216.5,709.5 227.5,709.5 238.5,709.5 249.5,709.5 261.5,710.5 272.5,710.5 283.5,710.5 295.5,710.5 306.5,710.5 317.5,710.5 329.5,710.5 340.5,711.5 351.5,711.5 363.5,711.5 374.5,711.5 385.5,711.5 397.5,711.5 408.5,711.5 419.5,712.5 431.5,712.5 442.5,712.5 453.5,712.5 465.5,712.5 476.5,712.5 487.5,712.5 499.5,712.5 510.5,713.5 521.5,713.5 533.5,713.5 544.5,713.5 555.5,713.5 567.5,714.5 578.5,714.5 589.5,714.5 601.5,714.5 612.5,714.5 623.5,715.5 634.5,715.5 646.5,715.5 657.5,715.5 668.5,716.5 680.5,716.5 691.5,716.5 702.5,716.5 714.5,716.5 725.5,717.5 736.5,717.5 748.5,717.5 759.5,718.5 770.5,718.5 782.5,718.5 793.5,719.5 804.5,719.5 816.5,720.5 827.5,720.5 838.5,721.5 850.5,721.5 861.5,721.5 872.5,722.5 884.5,722.5 895.5,723.5 906.5,723.5 918.5,723.5 929.5,724.5 940.5,724.5 952.5,725.5 963.5,725.5 974.5,726.5 986.5,726.5 997.5,727.5 1008.5,728.5 1019.5,728.5 1031.5,729.5 1042.5,729.5 1053.5,730.5 1065.5,731.5 1076.5,731.5 1087.5,732.5 1099.5,732.5 1110.5,733.5 1121.5,733.5 1133.5,734.5 1144.5,735.5 1155.5,735.5 1167.5,736.5 1178.5,736.5"/>
</g>
<g id="s7">
<text x="862.5" y="897.9" text-anchor="end" textLength="383.9" lengthAdjust="spacingAndGlyphs">[beanmachine] Western Digital Caviar WDC-153BA 15GB IDE 7200rpm</text>
<path class="s" stroke="#e51e10" d="M870 895.5H911"/><use href="#p6" x="890.5" y="895.5" fill="#e51e10"/>
<polyline class="s" stroke="#e51e10" marker-start="url(#m7)" marker-mid="url(#m7)" marker-end="url(#m7)" points="57.5,728.5 68.5,728.5 80.5,728.5 91.5,728.5 102.5,728.5 114.5,728.5 125.5,728.5 136.5,729.5 148.5,729.5 159.5,729.5 170.5,729.5 182.5,729.5 193.5,729.5 204.5,729.5 216.5,729.5 227.5,729.5 238.5,729.5 249.5,729.5 261.5,729.5 272.5,729.5 283.5,729.5 295.5,729.5 306.5,729.5 317.5,729.5 329.5,729.5 340.5,729.5 351.5,729.5 363.5,730.5 374.5,730.5 385.5,730.5 397.5,730.5 408.5,730.5 419.5,730.5 431.5,730.5 442.5,730.5 453.5,730.5 465.5,730.5 476.5,730.5 487.5,730.5 499.5,730.5 510.5,730.5 521.5,730.5 533.5,730.5 544.5,730.5 555.5,730.5 567.5,731.5 578.5,731.5 589.5,731.5 601.5,731.5 612.5,731.5 623.5,731.5 634.5,732.5 646.5,732.5 657.5,732.5 668.5,732.5 680.5,732.5 691.5,733.5 702.5,733.5 714.5,734.5 725.5,734.5 736.5,734.5 748.5,734.5 759.5,734.5 770.5,734.5 782.5,734.5 793.5,734.5 804.5,735.5 816.5,735.5 827.5,735.5 838.5,735.5 850.5,735.5 861.5,735.5 872.5,735.5 884.5,735.5 895.5,735.5 906.5,735.5 918.5,735.5 929.5,735.5 940.5,735.5 952.5,735.5 963.5,735.5 974.5,735.5 986.5,735.5 997.5,735.5 1008.5,735.5 1019.5,735.5 1031.5,736.5 1042.5,737.5 1053.5,738.5 1065.5,739.5 1076.5,739.5 1087.5,740.5 1099.5,740.5 1110.5,741.5 1121.5,741.5 1133.5,742.5 1144.5,742.5 1155.5,743.5 1167.5,743.5 1178.5,744.5"/>
</g>
<g id="s8">
<text x="862.5" y="912.9" text-anchor="end" textLength="199.6" lengthAdjust="spacingAndGlyphs">[dschein] Maxtor 4D040H2 40GB IDE</text>
<path class="s" stroke="#000000" d="M870 910.5H911"/><use href="#p7" x="890.5" y="910.5" fill="#000000"/>
<polyline class="s" stroke="#000000" marker-start="url(#m8)" marker-mid="url(#m8)" marker-end="url(#m8)" points="57.5,721.5 68.5,720.5 80.5,720.5 91.5,720.5 102.5,720.5 114.5,720.5 125.5,720.5 136.5,720.5 148.5,720.5 159.5,720.5 170.5,720.5 182.5,720.5 193.5,720.5 204.5,720.5 216.5,720.5 227.5,720.5 238.5,720.5 249.5,720.5 261.5,720.5 272.5,720.5 283.5,720.5 295.5,720.5 306.5,720.5 317.5,720.5 329.5,720.5 340.5,720.5 351.5,721.5 363.5,721.5 374.5,721.5 385.5,721.5 397.5,721.5 408.5,721.5 419.5,721.5 431.5,721.5 442.5,721.5 453.5,721.5 465.5,721.5 476.5,721.5 487.5,721.5 499.5,721.5 510.5,721.5 521.5,721.5 533.5,721.5 544.5,721.5 555.5,721.5 567.5,721.5 578.5,722.5 589.5,722.5 601.5,722.5 612.5,722.5 623.5,722.5 634.5,722.5 646.5,722.5 657.5,722.5 668.5,723.5 680.5,723.5 691.5,723.5 702.5,723.5 714.5,723.5 725.5,723.5 736.5,723.5 748.5,724.5 759.5,724.5 770.5,724.5 782.5,724.5 793.5,725.5 804.5,725.5 816.5,725.5 827.5,725.5 838.5,725.5 850.5,726.5 861.5,726.5 872.5,726.5 884.5,726.5 895.5,727.5 906.5,727.5 918.5,727.5 929.5,727.5 940.5,728.5 952.5,728.5 963.5,728.5 974.5,728.5 986.5,729.5 997.5,729.5 1008.5,730.5 1019.5,730.5 1031.5,730.5 1042.5,731.5 1053.5,731.5 1065.5,731.5 1076.5,732.5 1087.5,732.5 1099.5,733.5 1110.5,733.5 1121.5,733.5 1133.5,734.5 1144.5,734.5 1155.5,734.5 1167.5,735.5 1178.5,735.5"/>
</g>
<g id="s9">
<text x="862.5" y="927.9" text-anchor="end" textLength="209" lengthAdjust="spacingAndGlyphs">[Misc] Quantum XP39100J 9.1GB SCSI</text>
<path class="s" stroke="#9400d3" d="M870 925.5H911"/><use href="#p8" x="890.5" y="925.5" fill="#9400d3"/>
<polyline class="s" stroke="#9400d3" marker-start="url(#m9)" marker-mid="url(#m9)" marker-end="url(#m9)" points="57.5,740.5 68.5,739.5 80.5,739.5 91.5,739.5 102.5,739.5 114.5,739.5 125.5,739.5 136.5,739.5 148.5,739.5 159.5,739.5 170.5,739.5 182.5,739.5 193.5,739.5 204.5,739.5 216.5,739.5 227.5,739.5 238.5,739.5 249.5,739.5 261.5,739.5 272.5,739.5 283.5,739.5 295.5,739.5 306.5,739.5 317.5,739.5 329.5,739.5 340.5,739.5 351.5,739.5 363.5,739.5 374.5,739.5 385.5,739.5 397.5,739.5 408.5,739.5 419.5,739.5 431.5,739.5 442.5,739.5 453.5,739.5 465.5,739.5 476.5,739.5 487.5,739.5 499.5,739.5 510.5,739.5 521.5,739.5 533.5,739.5 544.5,739.5 555.5,739.5 567.5,739.5 578.5,739.5 589.5,739.5 601.5,739.5 612.5,739.5 623.5,739.5 634.5,739.5 646.5,739.5 657.5,739.5 668.5,739.5 680.5,739.5 691.5,739.5 702.5,739.5 714.5,739.5 725.5,739.5 736.5,739.5 748.5,739.5 759.5,739.5 770.5,739.5 782.5,739.5 793.5,739.5 804.5,739.5 816.5,739.5 827.5,739.5 838.5,739.5 850.5,739.5 861.5,740.5 872.5,740.5 884.5,740.5 895.5,740.5 906.5,740.5 918.5,740.5 929.5,739.5 940.5,739.5 952.5,739.5 963.5,739.5 974.5,739.5 986.5,739.5 997.5,739.5 1008.5,740.5 1019.5,740.5 1031.5,740.5 1042.5,740.5 1053.5,740.5 1065.5,740.5 1076.5,740.5 1087.5,740.5 1099.5,740.5 1110.5,741.5 1121.5,741.5 1133.5,741.5 1144.5,741.5 1155.5,741.5 1167.5,742.5 1178.5,742.5"/>
</g>
<g id="s10">
<text x="862.5" y="942.9" text-anchor="end" textLength="234.3" lengthAdjust="spacingAndGlyphs">[Misc] Seagate Medalist ST39140A 9GB IDE</text>
<path class="s" stroke="#009e73" d="M870 940.5H911"/><use href="#p9" x="890.5" y="940.5" fill="#009e73"/>
<polyline class="s" stroke="#009e73" marker-start="url(#m10)" marker-mid="url(#m10)" marker-end="url(#m10)" points="57.5,760.5 68.5,760.5 80.5,760.5 91.5,760.5 102.5,760.5 114.5,760.5 125.5,760.5 136.5,760.5 148.5,760.5 159.5,760.5 170.5,760.5 182.5,760.5 193.5,760.5 204.5,760.5 216.5,760.5 227.5,760.5 238.5,760.5 249.5,760.5 261.5,760.5 272.5,760.5 283.5,760.5 295.5,760.5 306.5,760.5 317.5,760.5 329.5,760.5 340.5,760.5 351.5,760.5 363.5,760.5 374.5,760.5 385.5,760.5 397.5,760.5 408.5,760.5 419.5,760.5 431.5,760.5 442.5,760.5 453.5,760.5 465.5,760.5 476.5,760.5 487.5,760.5 499.5,760.5 510.5,760.5 521.5,760.5 533.5,760.5 544.5,760.5 555.5,760.5 567.5,760.5 578.5,760.5 589.5,760.5 601.5,760.5 612.5,760.5 623.5,760.5 634.5,760.5 646.5,760.5 657.5,760.5 668.5,760.5 680.5,760.5 691.5,760.5 702.5,760.5 714.5,760.5 725.5,760.5 736.5,760.5 748.5,760.5 759.5,760.5 770.5,760.5 782.5,760.5 793.5,760.5 804.5,760.5 816.5,760.5 827.5,760.5 838.5,760.5 850.5,760.5 861.5,760.5 872.5,760.5 884.5,760.5 895.5,760.5 906.5,760.5 918.5,760.5 929.5,760.5 940.5,760.5 952.5,760.5 963.5,760.5 974.5,760.5 986.5,760.5 997.5,760.5 1008.5,760.5 1019.5,760.5 1031.5,760.5 1042.5,760.5 1053.5,760.5 1065.5,760.5 1076.5,760.5 1087.5,760.5 1099.5,760.5 1110.5,760.5 1121.5,760.5 1133.5,760.5 1144.5,760.5 1155.5,760.5 1167.5,760.5 1178.5,760.5"/>
</g>
<g id="s11">
<text x="862.5" y="957.9" text-anchor="end" textLength="193.8" lengthAdjust="spacingAndGlyphs">[dschein] IBM DGHS09Y 9.3GB SCSI</text>
<path class="s" stroke="#56b4e9" d="M870 955.5H911"/><use href="#p10" x="890.5" y="955.5" fill="#56b4e9"/>
<polyline class="s" stroke="#56b4e9" marker-start="url(#m11)" marker-mid="url(#m11)" marker-end="url(#m11)" points="57.5,754.5 68.5,754.5 80.5,754.5 91.5,754.5 102.5,754.5 114.5,754.5 125.5,754.5 136.5,754.5 148.5,754.5 159.5,754.5 170.5,754.5 182.5,754.5 193.5,754.5 204.5,754.5 216.5,754.5 227.5,754.5 238.5,754.5 249.5,754.5 261.5,754.5 272.5,754.5 283.5,754.5 295.5,754.5 306.5,754.5 317.5,754.5 329.5,754.5 340.5,754.5 351.5,754.5 363.5,754.5 374.5,754.5 385.5,754.5 397.5,754.5 408.5,754.5 419.5,754.5 431.5,754.5 442.5,754.5 453.5,754.5 465.5,754.5 476.5,754.5 487.5,754.5 499.5,755.5 510.5,756.5 521.5,756.5 533.5,756.5 544.5,756.5 555.5,756.5 567.5,756.5 578.5,756.5 589.5,756.5 601.5,756.5 612.5,755.5 623.5,754.5 634.5,754.5 646.5,754.5 657.5,754.5 668.5,754.5 680.5,754.5 691.5,754.5 702.5,754.5 714.5,754.5 725.5,754.5 736.5,754.5 748.5,755.5 759.5,756.5 770.5,756.5 782.5,756.5 793.5,756.5 804.5,756.5 816.5,756.5 827.5,756.5 838.5,756.5 850.5,756.5 861.5,756.5 872.5,756.5 884.5,756.5 895.5,754.5 906.5,754.5 918.5,754.5 929.5,754.5 940.5,754.5 952.5,754.5 963.5,754.5 974.5,754.5 986.5,754.5 997.5,754.5 1008.5,754.5 1019.5,754.5 1031.5,754.5 1042.5,754.5 1053.5,754.5 1065.5,754.5 1076.5,754.5 1087.5,754.5 1099.5,755.5 1110.5,755.5 1121.5,755.5 1133.5,755.5 1144.5,755.5 1155.5,755.5 1167.5,755.5 1178.5,755.5"/>
</g>
<g id="s12">
<text x="862.5" y="972.9" text-anchor="end" textLength="193.2" lengthAdjust="spacingAndGlyphs">[dschein] IBM DCHS04Y 4.5GB SCSI</text>
<path class="s" stroke="#e69f00" d="M870 970.5H911"/><use href="#p11" x="890.5" y="970.5" fill="#e69f00"/>
<polyline class="s" stroke="#e69f00" marker-start="url(#m12)" marker-mid="url(#m12)" marker-end="url(#m12)" points="57.5,757.5 68.5,756.5 80.5,756.5 91.5,756.5 102.5,756.5 114.5,756.5 125.5,756.5 136.5,756.5 148.5,756.5 159.5,756.5 170.5,756.5 182.5,756.5 193.5,756.5 204.5,756.5 216.5,756.5 227.5,756.5 238.5,756.5 249.5,757.5 261.5,757.5 272.5,757.5 283.5,757.5 295.5,757.5 306.5,757.5 317.5,757.5 329.5,757.5 340.5,757.5 351.5,757.5 363.5,757.5 374.5,757.5 385.5,757.5 397.5,757.5 408.5,757.5 419.5,757.5 431.5,757.5 442.5,757.5 453.5,757.5 465.5,757.5 476.5,757.5 487.5,757.5 499.5,757.5 510.5,757.5 521.5,757.5 533.5,757.5 544.5,757.5 555.5,757.5 567.5,757.5 578.5,757.5 589.5,757.5 601.5,757.5 612.5,757.5 623.5,757.5 634.5,757.5 646.5,757.5 657.5,757.5 668.5,757.5 680.5,757.5 691.5,757.5 702.5,757.5 714.5,757.5 725.5,757.5 736.5,757.5 748.5,757.5 759.5,757.5 770.5,757.5 782.5,757.5 793.5,757.5 804.5,757.5 816.5,757.5 827.5,757.5 838.5,757.5 850.5,757.5 861.5,757.5 872.5,757.5 884.5,757.5 895.5,757.5 906.5,757.5 918.5,757.5 929.5,757.5 940.5,757.5 952.5,757.5 963.5,757.5 974.5,757.5 986.5,757.5 997.5,757.5 1008.5,757.5 1019.5,757.5 1031.5,757.5 1042.5,757.5 1053.5,757.5 1065.5,757.5 1076.5,757.5 1087.5,757.5 1099.5,757.5 1110.5,758.5 1121.5,758.5 1133.5,758.5 1144.5,758.5 1155.5,758.5 1167.5,758.5 1178.5,758.5"/>
</g>
<g id="s13">
<text x="862.5" y="987.9" text-anchor="end" textLength="324.8" lengthAdjust="spacingAndGlyphs">[submarine] Seagate ST3300831AS 300G 7200RPM SATA #1</text>
<path class="s" stroke="#f0e442" d="M870 985.5H911"/><use href="#p12" x="890.5" y="985.5" fill="#f0e442"/>
<polyline class="s" stroke="#f0e442" marker-start="url(#m13)" marker-mid="url(#m13)" marker-end="url(#m13)" points="57.5,675.5 68.5,671.5 80.5,671.5 91.5,671.5 102.5,671.5 114.5,671.5 125.5,671.5 136.5,672.5 148.5,672.5 159.5,673.5 170.5,671.5 182.5,673.5 193.5,673.5 204.5,673.5 216.5,672.5 227.5,673.5 238.5,673.5 249.5,673.5 261.5,673.5 272.5,673.5 283.5,672.5 295.5,673.5 306.5,673.5 317.5,674.5 329.5,673.5 340.5,674.5 351.5,675.5 363.5,674.5 374.5,675.5 385.5,675.5 397.5,674.5 408.5,675.5 419.5,675.5 431.5,676.5 442.5,676.5 453.5,676.5 465.5,677.5 476.5,677.5 487.5,676.5 499.5,677.5 510.5,677.5 521.5,678.5 533.5,678.5 544.5,679.5 555.5,679.5 567.5,680.5 578.5,680.5 589.5,680.5 601.5,680.5 612.5,681.5 623.5,681.5 634.5,682.5 646.5,682.5 657.5,682.5 668.5,683.5 680.5,683.5 691.5,683.5 702.5,684.5 714.5,685.5 725.5,685.5 736.5,684.5 748.5,686.5 759.5,685.5 770.5,687.5 782.5,688.5 793.5,687.5 804.5,689.5 816.5,689.5 827.5,690.5 838.5,691.5 850.5,690.5 861.5,691.5 872.5,692.5 884.5,692.5 895.5,693.5 906.5,693.5 918.5,694.5 929.5,695.5 940.5,695.5 952.5,695.5 963.5,696.5 974.5,697.5 986.5,698.5 997.5,700.5 1008.5,699.5 1019.5,701.5 1031.5,702.5 1042.5,701.5 1053.5,703.5 1065.5,703.5 1076.5,705.5 1087.5,705.5 1099.5,707.5 1110.5,707.5 1121.5,708.5 1133.5,710.5 1144.5,709.5 1155.5,711.5 1167.5,711.5 1178.5,712.5"/>
</g>
<g id="s14">
<text x="862.5" y="1002.9" text-anchor="end" textLength="324.8" lengthAdjust="spacingAndGlyphs">[submarine] Seagate ST3300831AS 300G 7200RPM SATA #2</text>
<path class="s" stroke="#0072b2" d="M870 1000.5H911"/><use href="#p0" x="890.5" y="1000.5" fill="#0072b2"/>
<polyline class="s" stroke="#0072b2" marker-start="url(#m14)" marker-mid="url(#m14)" marker-end="url(#m14)" points="57.5,674.5 68.5,665.5 80.5,665.5 91.5,666.5 102.5,666.5 114.5,666.5 125.5,665.5 136.5,666.5 148.5,666.5 159.5,666.5 170.5,666.5 182.5,666.5 193.5,666.5 204.5,667.5 216.5,666.5 227.5,666.5 238.5,667.5 249.5,667.5 261.5,667.5 272.5,667.5 283.5,667.5 295.5,667.5 306.5,668.5 317.5,667.5 329.5,669.5 340.5,669.5 351.5,668.5 363.5,669.5 374.5,669.5 385.5,670.5 397.5,669.5 408.5,669.5 419.5,670.5 431.5,671.5 442.5,670.5 453.5,671.5 465.5,671.5 476.5,671.5 487.5,671.5 499.5,672.5 510.5,672.5 521.5,672.5 533.5,672.5 544.5,673.5 555.5,673.5 567.5,674.5 578.5,674.5 589.5,674.5 601.5,675.5 612.5,675.5 623.5,675.5 634.5,676.5 646.5,676.5 657.5,677.5 668.5,677.5 680.5,678.5 691.5,678.5 702.5,678.5 714.5,679.5 725.5,679.5 736.5,680.5 748.5,680.5 759.5,681.5 770.5,682.5 782.5,682.5 793.5,683.5 804.5,684.5 816.5,684.5 827.5,685.5 838.5,685.5 850.5,686.5 861.5,687.5 872.5,688.5 884.5,688.5 895.5,689.5 906.5,689.5 918.5,690.5 929.5,691.5 940.5,691.5 952.5,692.5 963.5,692.5 974.5,694.5 986.5,694.5 997.5,695.5 1008.5,696.5 1019.5,697.5 1031.5,698.5 1042.5,699.5 1053.5,699.5 1065.5,701.5 1076.5,701.5 1087.5,702.5 1099.5,703.5 1110.5,704.5 1121.5,704.5 1133.5,706.5 1144.5,706.5 1155.5,707.5 1167.5,707.5 1178.5,709.5"/>
</g>
<g id="s15">
<text x="862.5" y="1017.9" text-anchor="end" textLength="355.3" lengthAdjust="spacingAndGlyphs">[submarine] Hitachi HDS722525 VLS A80 250G 7200RPM SATA #1</text>
<path class="s" stroke="#e51e10" d="M870 1015.5H911"/><use href="#p1" x="890.5" y="1015.5" fill="#e51e10"/>
<polyline class="s" stroke="#e51e10" marker-start="url(#m15)" marker-mid="url(#m15)" marker-end="url(#m15)" points="57.5,679.5 68.5,673.5 80.5,674.5 91.5,673.5 102.5,672.5 114.5,673.5 125.5,677.5 136.5,673.5 148.5,674.5 159.5,674.5 170.5,673.5 182.5,674.5 193.5,673.5 204.5,674.5 216.5,675.5 227.5,673.5 238.5,675.5 249.5,674.5 261.5,674.5 272.5,674.5 283.5,675.5 295.5,674.5 306.5,676.5 317.5,676.5 329.5,677.5 340.5,676.5 351.5,676.5 363.5,677.5 374.5,678.5 385.5,678.5 397.5,678.5 408.5,678.5 419.5,678.5 431.5,679.5 442.5,680.5 453.5,679.5 465.5,681.5 476.5,681.5 487.5,681.5 499.5,682.5 510.5,682.5 521.5,683.5 533.5,683.5 544.5,684.5 555.5,683.5 567.5,683.5 578.5,683.5 589.5,685.5 601.5,685.5 612.5,685.5 623.5,685.5 634.5,686.5 646.5,687.5 657.5,686.5 668.5,687.5 680.5,688.5 691.5,687.5 702.5,688.5 714.5,688.5 725.5,688.5 736.5,690.5 748.5,691.5 759.5,690.5 770.5,691.5 782.5,692.5 793.5,692.5 804.5,693.5 816.5,692.5 827.5,694.5 838.5,693.5 850.5,695.5 861.5,695.5 872.5,695.5 884.5,696.5 895.5,696.5 906.5,697.5 918.5,698.5 929.5,697.5 940.5,699.5 952.5,699.5 963.5,699.5 974.5,701.5 986.5,701.5 997.5,702.5 1008.5,703.5 1019.5,704.5 1031.5,704.5 1042.5,705.5 1053.5,706.5 1065.5,706.5 1076.5,708.5 1087.5,709.5 1099.5,709.5 1110.5,709.5 1121.5,710.5 1133.5,711.5 1144.5,712.5 1155.5,712.5 1167.5,713.5 1178.5,714.5"/>
</g>
<g id="s16">
<text x="862.5" y="1032.9" text-anchor="end" textLength="355.3" lengthAdjust="spacingAndGlyphs">[submarine] Hitachi HDS722525 VLS A80 250G 7200RPM SATA #2</text>
<path class="s" stroke="#000000" d="M870 1030.5H911"/><use href="#p2" x="890.5" y="1030.5" fill="#000000"/>
<polyline class="s" stroke="#000000" marker-start="url(#m16)" marker-mid="url(#m16)" marker-end="url(#m16)" points="57.5,679.5 68.5,676.5 80.5,673.5 91.5,673.5 102.5,673.5 114.5,673.5 125.5,673.5 136.5,676.5 148.5,676.5 159.5,673.5 170.5,673.5 182.5,673.5 193.5,673.5 204.5,674.5 216.5,676.5 227.5,676.5 238.5,674.5 249.5,674.5 261.5,674.5 272.5,674.5 283.5,674.5 295.5,675.5 306.5,675.5 317.5,675.5 329.5,675.5 340.5,676.5 351.5,676.5 363.5,677.5 374.5,677.5 385.5,677.5 397.5,678.5 408.5,678.5 419.5,679.5 431.5,679.5 442.5,679.5 453.5,680.5 465.5,680.5 476.5,681.5 487.5,681.5 499.5,681.5 510.5,682.5 521.5,683.5 533.5,683.5 544.5,684.5 555.5,684.5 567.5,683.5 578.5,684.5 589.5,685.5 601.5,685.5 612.5,686.5 623.5,686.5 634.5,686.5 646.5,686.5 657.5,687.5 668.5,687.5 680.5,688.5 691.5,687.5 702.5,688.5 714.5,688.5 725.5,690.5 736.5,690.5 748.5,690.5 759.5,690.5 770.5,691.5 782.5,691.5 793.5,692.5 804.5,692.5 816.5,693.5 827.5,693.5 838.5,693.5 850.5,695.5 861.5,695.5 872.5,695.5 884.5,696.5 895.5,696.5 906.5,697.5 918.5,697.5 929.5,698.5 940.5,697.5 952.5,698.5 963.5,699.5 974.5,700.5 986.5,701.5 997.5,701.5 1008.5,702.5 1019.5,702.5 1031.5,703.5 1042.5,704.5 1053.5,705.5 1065.5,706.5 1076.5,706.5 1087.5,707.5 1099.5,707.5 1110.5,708.5 1121.5,709.5 1133.5,710.5 1144.5,710.5 1155.5,711.5 1167.5,711.5 1178.5,712.5"/>
</g>
<g id="s17">
<text x="862.5" y="1047.9" text-anchor="end" textLength="367.1" lengthAdjust="spacingAndGlyphs">[sub1] Western Digital Caviar WD800JB UDMA5 80GB 7200RPM IDE</text>
<path class="s" stroke="#9400d3" d="M870 1045.5H911"/><use href="#p3" x="890.5" y="1045.5" fill="#9400d3"/>
<polyline class="s" stroke="#9400d3" marker-start="url(#m17)" marker-mid="url(#m17)" marker-end="url(#m17)" points="57.5,688.5 68.5,684.5 80.5,684.5 91.5,684.5 102.5,685.5 114.5,685.5 125.5,685.5 136.5,685.5 148.5,685.5 159.5,685.5 170.5,685.5 182.5,685.5 193.5,685.5 204.5,686.5 216.5,686.5 227.5,686.5 238.5,686.5 249.5,686.5 261.5,686.5 272.5,686.5 283.5,686.5 295.5,687.5 306.5,687.5 317.5,687.5 329.5,687.5 340.5,688.5 351.5,688.5 363.5,688.5 374.5,688.5 385.5,689.5 397.5,689.5 408.5,689.5 419.5,689.5 431.5,689.5 442.5,690.5 453.5,690.5 465.5,690.5 476.5,690.5 487.5,691.5 499.5,691.5 510.5,691.5 521.5,692.5 533.5,692.5 544.5,693.5 555.5,693.5 567.5,694.5 578.5,694.5 589.5,695.5 601.5,695.5 612.5,695.5 623.5,696.5 634.5,696.5 646.5,697.5 657.5,697.5 668.5,697.5 680.5,698.5 691.5,698.5 702.5,698.5 714.5,699.5 725.5,699.5 736.5,699.5 748.5,700.5 759.5,700.5 770.5,701.5 782.5,701.5 793.5,701.5 804.5,702.5 816.5,702.5 827.5,702.5 838.5,703.5 850.5,703.5 861.5,704.5 872.5,704.5 884.5,705.5 895.5,705.5 906.5,705.5 918.5,706.5 929.5,706.5 940.5,707.5 952.5,707.5 963.5,708.5 974.5,708.5 986.5,709.5 997.5,709.5 1008.5,709.5 1019.5,710.5 1031.5,711.5 1042.5,712.5 1053.5,713.5 1065.5,713.5 1076.5,714.5 1087.5,715.5 1099.5,716.5 1110.5,716.5 1121.5,717.5 1133.5,718.5 1144.5,719.5 1155.5,720.5 1167.5,720.5 1178.5,724.5"/>
</g>
<g id="s18">
<text x="862.5" y="1062.9" text-anchor="end" textLength="285.3" lengthAdjust="spacingAndGlyphs">[sub1] Samsung SV8004H UDMA5 80G 5400RPM IDE</text>
<path class="s" stroke="#009e73" d="M870 1060.5H911"/><use href="#p4" x="890.5" y="1060.5" fill="#009e73"/>
<polyline class="s" stroke="#009e73" marker-start="url(#m18)" marker-mid="url(#m18)" marker-end="url(#m18)" points="57.5,714.5 68.5,712.5 80.5,712.5 91.5,712.5 102.5,712.5 114.5,713.5 125.5,713.5 136.5,713.5 148.5,713.5 159.5,713.5 170.5,713.5 182.5,713.5 193.5,713.5 204.5,713.5 216.5,713.5 227.5,713.5 238.5,714.5 249.5,714.5 261.5,714.5 272.5,714.5 283.5,714.5 295.5,714.5 306.5,714.5 317.5,714.5 329.5,714.5 340.5,714.5 351.5,714.5 363.5,715.5 374.5,715.5 385.5,715.5 397.5,715.5 408.5,715.5 419.5,715.5 431.5,715.5 442.5,715.5 453.5,715.5 465.5,716.5 476.5,716.5 487.5,716.5 499.5,716.5 510.5,716.5 521.5,716.5 533.5,716.5 544.5,717.5 555.5,717.5 567.5,717.5 578.5,717.5 589.5,718.5 601.5,718.5 612.5,718.5 623.5,718.5 634.5,719.5 646.5,719.5 657.5,719.5 668.5,719.5 680.5,719.5 691.5,720.5 702.5,720.5 714.5,720.5 725.5,720.5 736.5,721.5 748.5,721.5 759.5,722.5 770.5,722.5 782.5,722.5 793.5,723.5 804.5,723.5 816.5,724.5 827.5,724.5 838.5,725.5 850.5,725.5 861.5,725.5 872.5,726.5 884.5,726.5 895.5,727.5 906.5,727.5 918.5,728.5 929.5,728.5 940.5,729.5 952.5,729.5 963.5,730.5 974.5,730.5 986.5,730.5 997.5,731.5 1008.5,731.5 1019.5,732.5 1031.5,733.5 1042.5,733.5 1053.5,734.5 1065.5,735.5 1076.5,735.5 1087.5,736.5 1099.5,737.5 1110.5,737.5 1121.5,738.5 1133.5,738.5 1144.5,739.5 1155.5,739.5 1167.5,739.5 1178.5,740.5"/>
</g>
<g id="s19">
<text x="862.5" y="1077.9" text-anchor="end" textLength="264.8" lengthAdjust="spacingAndGlyphs">[elm3a72] Maxtor 7Y250M0 250G 7200RPM SATA</text>
<path class="s" stroke="#56b4e9" d="M870 1075.5H911"/><use href="#p5" x="890.5" y="1075.5" fill="#56b4e9"/>
<polyline class="s" stroke="#56b4e9" marker-start="url(#m19)" marker-mid="url(#m19)" marker-end="url(#m19)" points="57.5,668.5 68.5,664.5 80.5,664.5 91.5,664.5 102.5,664.5 114.5,664.5 125.5,664.5 136.5,664.5 148.5,664.5 159.5,664.5 170.5,664.5 182.5,664.5 193.5,665.5 204.5,665.5 216.5,665.5 227.5,665.5 238.5,665.5 249.5,665.5 261.5,665.5 272.5,665.5 283.5,665.5 295.5,666.5 306.5,666.5 317.5,666.5 329.5,666.5 340.5,667.5 351.5,667.5 363.5,667.5 374.5,667.5 385.5,667.5 397.5,668.5 408.5,668.5 419.5,668.5 431.5,668.5 442.5,669.5 453.5,669.5 465.5,669.5 476.5,669.5 487.5,670.5 499.5,670.5 510.5,670.5 521.5,670.5 533.5,671.5 544.5,671.5 555.5,672.5 567.5,672.5 578.5,672.5 589.5,673.5 601.5,673.5 612.5,673.5 623.5,674.5 634.5,674.5 646.5,675.5 657.5,675.5 668.5,675.5 680.5,676.5 691.5,676.5 702.5,676.5 714.5,677.5 725.5,677.5 736.5,678.5 748.5,678.5 759.5,679.5 770.5,679.5 782.5,680.5 793.5,681.5 804.5,681.5 816.5,682.5 827.5,682.5 838.5,683.5 850.5,684.5 861.5,684.5 872.5,685.5 884.5,685.5 895.5,686.5 906.5,687.5 918.5,687.5 929.5,688.5 940.5,689.5 952.5,689.5 963.5,690.5 974.5,691.5 986.5,692.5 997.5,693.5 1008.5,694.5 1019.5,695.5 1031.5,696.5 1042.5,697.5 1053.5,698.5 1065.5,699.5 1076.5,700.5 1087.5,701.5 1099.5,702.5 1110.5,703.5 1121.5,704.5 1133.5,705.5 1144.5,706.5 1155.5,707.5 1167.5,708.5 1178.5,709.5"/>
</g>
<g id="s20">
<text x="862.5" y="1092.9" text-anchor="end" textLength="396.1" lengthAdjust="spacingAndGlyphs">[elm3a113] Western Digital Caviar WD400BB UDMA5 40GB 7200RPM IDE</text>
<path class="s" stroke="#e69f00" d="M870 1090.5H911"/><use href="#p6" x="890.5" y="1090.5" fill="#e69f00"/>
<polyline class="s" stroke="#e69f00" marker-start="url(#m20)" marker-mid="url(#m20)" marker-end="url(#m20)" points="57.5,687.5 68.5,685.5 80.5,685.5 91.5,685.5 102.5,686.5 114.5,686.5 125.5,686.5 136.5,686.5 148.5,686.5 159.5,686.5 170.5,686.5 182.5,686.5 193.5,686.5 204.5,686.5 216.5,687.5 227.5,687.5 238.5,687.5 249.5,687.5 261.5,687.5 272.5,687.5 283.5,687.5 295.5,688.5 306.5,688.5 317.5,688.5 329.5,688.5 340.5,689.5 351.5,689.5 363.5,689.5 374.5,689.5 385.5,690.5 397.5,690.5 408.5,690.5 419.5,690.5 431.5,691.5 442.5,691.5 453.5,691.5 465.5,691.5 476.5,692.5 487.5,692.5 499.5,692.5 510.5,693.5 521.5,693.5 533.5,694.5 544.5,694.5 555.5,695.5 567.5,695.5 578.5,696.5 589.5,696.5 601.5,697.5 612.5,697.5 623.5,697.5 634.5,698.5 646.5,698.5 657.5,698.5 668.5,699.5 680.5,699.5 691.5,699.5 702.5,700.5 714.5,700.5 725.5,700.5 736.5,701.5 748.5,701.5 759.5,701.5 770.5,702.5 782.5,702.5 793.5,702.5 804.5,703.5 816.5,703.5 827.5,703.5 838.5,704.5 850.5,704.5 861.5,705.5 872.5,705.5 884.5,706.5 895.5,706.5 906.5,706.5 918.5,707.5 929.5,707.5 940.5,708.5 952.5,708.5 963.5,709.5 974.5,709.5 986.5,710.5 997.5,710.5 1008.5,710.5 1019.5,711.5 1031.5,712.5 1042.5,712.5 1053.5,713.5 1065.5,713.5 1076.5,714.5 1087.5,715.5 1099.5,715.5 1110.5,716.5 1121.5,717.5 1133.5,717.5 1144.5,718.5 1155.5,718.5 1167.5,719.5 1178.5,720.5"/>
</g>
<g id="s21">
<text x="862.5" y="1107.9" text-anchor="end" textLength="309.4" lengthAdjust="spacingAndGlyphs">[elm3a113] IBM DTLA307030 UDMA5 30GB 7200RPM IDE</text>
<path class="s" stroke="#f0e442" d="M870 1105.5H911"/><use href="#p7" x="890.5" y="1105.5" fill="#f0e442"/>
<polyline class="s" stroke="#f0e442" marker-start="url(#m21)" marker-mid="url(#m21)" marker-end="url(#m21)" points="57.5,709.5 68.5,707.5 80.5,707.5 91.5,707.5 102.5,707.5 114.5,707.5 125.5,708.5 136.5,708.5 148.5,708.5 159.5,708.5 170.5,708.5 182.5,708.5 193.5,708.5 204.5,708.5 216.5,708.5 227.5,708.5 238.5,709.5 249.5,709.5 261.5,709.5 272.5,709.5 283.5,709.5 295.5,709.5 306.5,709.5 317.5,709.5 329.5,710.5 340.5,710.5 351.5,710.5 363.5,710.5 374.5,710.5 385.5,710.5 397.5,710.5 408.5,711.5 419.5,711.5 431.5,711.5 442.5,711.5 453.5,711.5 465.5,711.5 476.5,711.5 487.5,712.5 499.5,712.5 510.5,712.5 521.5,712.5 533.5,712.5 544.5,713.5 555.5,713.5 567.5,713.5 578.5,713.5 589.5,713.5 601.5,714.5 612.5,714.5 623.5,714.5 634.5,714.5 646.5,714.5 657.5,715.5 668.5,715.5 680.5,715.5 691.5,715.5 702.5,715.5 714.5,716.5 725.5,716.5 736.5,716.5 748.5,716.5 759.5,717.5 770.5,717.5 782.5,718.5 793.5,718.5 804.5,718.5 816.5,719.5 827.5,719.5 838.5,720.5 850.5,720.5 861.5,720.5 872.5,721.5 884.5,721.5 895.5,722.5 906.5,722.5 918.5,722.5 929.5,723.5 940.5,723.5 952.5,724.5 963.5,724.5 974.5,725.5 986.5,725.5 997.5,726.5 1008.5,726.5 1019.5,727.5 1031.5,728.5 1042.5,728.5 1053.5,729.5 1065.5,729.5 1076.5,730.5 1087.5,730.5 1099.5,731.5 1110.5,732.5 1121.5,732.5 1133.5,733.5 1144.5,733.5 1155.5,734.5 1167.5,735.5 1178.5,735.5"/>
</g>
<g id="s22">
<text x="862.5" y="1122.9" text-anchor="end" textLength="258.3" lengthAdjust="spacingAndGlyphs">[tortuga] Maxtor 6Y200M0 200G 7200RPM SATA</text>
<path class="s" stroke="#0072b2" d="M870 1120.5H911"/><use href="#p8" x="890.5" y="1120.5" fill="#0072b2"/>
<polyline class="s" stroke="#0072b2" marker-start="url(#m22)" marker-mid="url(#m22)" marker-end="url(#m22)" points="57.5,670.5 68.5,663.5 80.5,663.5 91.5,663.5 102.5,663.5 114.5,663.5 125.5,663.5 136.5,663.5 148.5,663.5 159.5,663.5 170.5,663.5 182.5,663.5 193.5,663.5 204.5,663.5 216.5,663.5 227.5,663.5 238.5,663.5 249.5,663.5 261.5,663.5 272.5,663.5 283.5,664.5 295.5,664.5 306.5,664.5 317.5,664.5 329.5,664.5 340.5,664.5 351.5,664.5 363.5,664.5 374.5,664.5 385.5,664.5 397.5,664.5 408.5,665.5 419.5,665.5 431.5,665.5 442.5,665.5 453.5,665.5 465.5,665.5 476.5,665.5 487.5,665.5 499.5,665.5 510.5,665.5 521.5,666.5 533.5,666.5 544.5,666.5 555.5,666.5 567.5,666.5 578.5,666.5 589.5,666.5 601.5,667.5 612.5,667.5 623.5,667.5 634.5,668.5 646.5,668.5 657.5,669.5 668.5,669.5 680.5,670.5 691.5,670.5 702.5,671.5 714.5,672.5 725.5,672.5 736.5,673.5 748.5,673.5 759.5,674.5 770.5,674.5 782.5,675.5 793.5,675.5 804.5,676.5 816.5,677.5 827.5,677.5 838.5,678.5 850.5,679.5 861.5,679.5 872.5,680.5 884.5,681.5 895.5,681.5 906.5,682.5 918.5,683.5 929.5,683.5 940.5,684.5 952.5,685.5 963.5,685.5 974.5,686.5 986.5,687.5 997.5,687.5 1008.5,688.5 1019.5,689.5 1031.5,689.5 1042.5,690.5 1053.5,691.5 1065.5,692.5 1076.5,692.5 1087.5,693.5 1099.5,694.5 1110.5,695.5 1121.5,696.5 1133.5,697.5 1144.5,697.5 1155.5,699.5 1167.5,700.5 1178.5,701.5"/>
</g>
<g id="s23">
<text x="862.5" y="1137.9" text-anchor="end" textLength="319.7" lengthAdjust="spacingAndGlyphs">[snowberry] Quantum Fireball LM30 UDMA2 7200RPM IDE</text>
<path class="s" stroke="#e51e10" d="M870 1135.5H911"/><use href="#p9" x="890.5" y="1135.5" fill="#e51e10"/>
<polyline class="s" stroke="#e51e10" marker-start="url(#m23)" marker-mid="url(#m23)" marker-end="url(#m23)" points="57.5,725.5 68.5,724.5 80.5,724.5 91.5,724.5 102.5,724.5 114.5,724.5 125.5,724.5 136.5,724.5 148.5,724.5 159.5,724.5 170.5,724.5 182.5,724.5 193.5,724.5 204.5,724.5 216.5,724.5 227.5,724.5 238.5,724.5 249.5,724.5 261.5,724.5 272.5,724.5 283.5,724.5 295.5,724.5 306.5,724.5 317.5,724.5 329.5,724.5 340.5,724.5 351.5,724.5 363.5,724.5 374.5,724.5 385.5,724.5 397.5,724.5 408.5,724.5 419.5,725.5 431.5,725.5 442.5,725.5 453.5,725.5 465.5,725.5 476.5,725.5 487.5,725.5 499.5,725.5 510.5,725.5 521.5,725.5 533.5,726.5 544.5,726.5 555.5,726.5 567.5,726.5 578.5,726.5 589.5,726.5 601.5,726.5 612.5,726.5 623.5,726.5 634.5,727.5 646.5,727.5 657.5,727.5 668.5,727.5 680.5,728.5 691.5,728.5 702.5,728.5 714.5,728.5 725.5,728.5 736.5,729.5 748.5,729.5 759.5,729.5 770.5,729.5 782.5,729.5 793.5,730.5 804.5,730.5 816.5,730.5 827.5,730.5 838.5,731.5 850.5,731.5 861.5,731.5 872.5,731.5 884.5,732.5 895.5,732.5 906.5,732.5 918.5,733.5 929.5,733.5 940.5,733.5 952.5,734.5 963.5,734.5 974.5,734.5 986.5,735.5 997.5,735.5 1008.5,735.5 1019.5,736.5 1031.5,736.5 1042.5,736.5 1053.5,737.5 1065.5,737.5 1076.5,738.5 1087.5,738.5 1099.5,739.5 1110.5,739.5 1121.5,739.5 1133.5,740.5 1144.5,740.5 1155.5,741.5 1167.5,741.5 1178.5,742.5"/>
</g>
<g id="s24">
<text x="862.5" y="1152.9" text-anchor="end" textLength="241.7" lengthAdjust="spacingAndGlyphs">[sub2] Maxtor 6V200E0 200G 7200RPM SATA</text>
<path class="s" stroke="#000000" d="M870 1150.5H911"/><use href="#p10" x="890.5" y="1150.5" fill="#000000"/>
<polyline class="s" stroke="#000000" marker-start="url(#m24)" marker-mid="url(#m24)" marker-end="url(#m24)" points="57.5,652.5 68.5,645.5 80.5,646.5 91.5,646.5 102.5,646.5 114.5,646.5 125.5,646.5 136.5,646.5 148.5,646.5 159.5,646.5 170.5,646.5 182.5,647.5 193.5,647.5 204.5,648.5 216.5,648.5 227.5,649.5 238.5,649.5 249.5,650.5 261.5,650.5 272.5,651.5 283.5,651.5 295.5,652.5 306.5,652.5 317.5,652.5 329.5,653.5 340.5,653.5 351.5,654.5 363.5,654.5 374.5,654.5 385.5,655.5 397.5,655.5 408.5,656.5 419.5,656.5 431.5,656.5 442.5,657.5 453.5,657.5 465.5,658.5 476.5,659.5 487.5,659.5 499.5,660.5 510.5,660.5 521.5,661.5 533.5,662.5 544.5,662.5 555.5,663.5 567.5,664.5 578.5,664.5 589.5,665.5 601.5,665.5 612.5,666.5 623.5,667.5 634.5,667.5 646.5,668.5 657.5,668.5 668.5,669.5 680.5,670.5 691.5,670.5 702.5,671.5 714.5,671.5 725.5,672.5 736.5,672.5 748.5,673.5 759.5,674.5 770.5,674.5 782.5,675.5 793.5,675.5 804.5,676.5 816.5,676.5 827.5,677.5 838.5,678.5 850.5,678.5 861.5,679.5 872.5,680.5 884.5,680.5 895.5,681.5 906.5,682.5 918.5,683.5 929.5,683.5 940.5,684.5 952.5,685.5 963.5,685.5 974.5,686.5 986.5,687.5 997.5,687.5 1008.5,688.5 1019.5,689.5 1031.5,690.5 1042.5,692.5 1053.5,693.5 1065.5,694.5 1076.5,696.5 1087.5,697.5 1099.5,698.5 1110.5,699.5 1121.5,700.5 1133.5,701.5 1144.5,702.5 1155.5,703.5 1167.5,704.5 1178.5,705.5"/>
</g>
<g id="s25">
<text x="862.5" y="1167.9" text-anchor="end" textLength="268.1" lengthAdjust="spacingAndGlyphs">[elm3a51] Maxtor 6Y080M0 80.0G 7200RPM SATA</text>
<path class="s" stroke="#9400d3" d="M870 1165.5H911"/><use href="#p11" x="890.5" y="1165.5" fill="#9400d3"/>
<polyline class="s" stroke="#9400d3" marker-start="url(#m25)" marker-mid="url(#m25)" marker-end="url(#m25)" points="57.5,668.5 68.5,663.5 80.5,663.5 91.5,663.5 102.5,663.5 114.5,663.5 125.5,663.5 136.5,663.5 148.5,664.5 159.5,664.5 170.5,664.5 182.5,664.5 193.5,664.5 204.5,664.5 216.5,664.5 227.5,664.5 238.5,664.5 249.5,664.5 261.5,664.5 272.5,664.5 283.5,664.5 295.5,665.5 306.5,665.5 317.5,665.5 329.5,665.5 340.5,666.5 351.5,666.5 363.5,666.5 374.5,666.5 385.5,667.5 397.5,667.5 408.5,667.5 419.5,667.5 431.5,667.5 442.5,668.5 453.5,668.5 465.5,668.5 476.5,668.5 487.5,669.5 499.5,669.5 510.5,669.5 521.5,670.5 533.5,670.5 544.5,670.5 555.5,671.5 567.5,671.5 578.5,671.5 589.5,672.5 601.5,672.5 612.5,673.5 623.5,673.5 634.5,673.5 646.5,674.5 657.5,674.5 668.5,674.5 680.5,675.5 691.5,675.5 702.5,675.5 714.5,676.5 725.5,676.5 736.5,677.5 748.5,677.5 759.5,678.5 770.5,679.5 782.5,679.5 793.5,680.5 804.5,680.5 816.5,681.5 827.5,682.5 838.5,682.5 850.5,683.5 861.5,683.5 872.5,684.5 884.5,685.5 895.5,685.5 906.5,686.5 918.5,686.5 929.5,687.5 940.5,688.5 952.5,688.5 963.5,689.5 974.5,690.5 986.5,691.5 997.5,692.5 1008.5,693.5 1019.5,694.5 1031.5,695.5 1042.5,696.5 1053.5,696.5 1065.5,697.5 1076.5,698.5 1087.5,699.5 1099.5,700.5 1110.5,701.5 1121.5,702.5 1133.5,703.5 1144.5,704.5 1155.5,705.5 1167.5,706.5 1178.5,707.5"/>
</g>
<g id="s26">
<text x="862.5" y="1182.9" text-anchor="end" textLength="322.2" lengthAdjust="spacingAndGlyphs">[elm3a92] Hitachi HDS728080PLA380 80G 7200RPM SATA2</text>
<path class="s" stroke="#009e73" d="M870 1180.5H911"/><use href="#p12" x="890.5" y="1180.5" fill="#009e73"/>
<polyline class="s" stroke="#009e73" marker-start="url(#m26)" marker-mid="url(#m26)" marker-end="url(#m26)" points="57.5,670.5 68.5,664.5 80.5,664.5 91.5,664.5 102.5,664.5 114.5,664.5 125.5,665.5 136.5,665.5 148.5,665.5 159.5,665.5 170.5,665.5 182.5,665.5 193.5,665.5 204.5,665.5 216.5,666.5 227.5,666.5 238.5,666.5 249.5,666.5 261.5,666.5 272.5,666.5 283.5,666.5 295.5,667.5 306.5,667.5 317.5,667.5 329.5,667.5 340.5,668.5 351.5,668.5 363.5,668.5 374.5,669.5 385.5,669.5 397.5,669.5 408.5,669.5 419.5,670.5 431.5,670.5 442.5,670.5 453.5,670.5 465.5,671.5 476.5,671.5 487.5,671.5 499.5,672.5 510.5,672.5 521.5,672.5 533.5,673.5 544.5,673.5 555.5,673.5 567.5,674.5 578.5,674.5 589.5,675.5 601.5,675.5 612.5,675.5 623.5,676.5 634.5,676.5 646.5,676.5 657.5,677.5 668.5,677.5 680.5,677.5 691.5,678.5 702.5,678.5 714.5,679.5 725.5,679.5 736.5,679.5 748.5,680.5 759.5,681.5 770.5,681.5 782.5,682.5 793.5,682.5 804.5,683.5 816.5,683.5 827.5,684.5 838.5,684.5 850.5,685.5 861.5,686.5 872.5,686.5 884.5,687.5 895.5,687.5 906.5,688.5 918.5,688.5 929.5,689.5 940.5,689.5 952.5,690.5 963.5,691.5 974.5,692.5 986.5,693.5 997.5,694.5 1008.5,695.5 1019.5,696.5 1031.5,697.5 1042.5,698.5 1053.5,699.5 1065.5,700.5 1076.5,701.5 1087.5,702.5 1099.5,703.5 1110.5,704.5 1121.5,705.5 1133.5,706.5 1144.5,707.5 1155.5,708.5 1167.5,709.5 1178.5,710.5"/>
</g>
<g id="s27">
<text x="862.5" y="1197.9" text-anchor="end" textLength="282.3" lengthAdjust="spacingAndGlyphs">[sub1] Seagate ST3400620AS 400G 7200RPM SATA2</text>
<path class="s" stroke="#56b4e9" d="M870 1195.5H911"/><use href="#p0" x="890.5" y="1195.5" fill="#56b4e9"/>
<polyline class="s" stroke="#56b4e9" marker-start="url(#m27)" marker-mid="url(#m27)" marker-end="url(#m27)" points="57.5,639.5 68.5,633.5 80.5,633.5 91.5,633.5 102.5,633.5 114.5,633.5 125.5,634.5 136.5,634.5 148.5,634.5 159.5,634.5 170.5,634.5 182.5,634.5 193.5,635.5 204.5,635.5 216.5,635.5 227.5,635.5 238.5,635.5 249.5,635.5 261.5,636.5 272.5,636.5 283.5,636.5 295.5,636.5 306.5,636.5 317.5,637.5 329.5,637.5 340.5,637.5 351.5,639.5 363.5,639.5 374.5,639.5 385.5,639.5 397.5,640.5 408.5,640.5 419.5,640.5 431.5,640.5 442.5,641.5 453.5,641.5 465.5,641.5 476.5,641.5 487.5,642.5 499.5,642.5 510.5,642.5 521.5,643.5 533.5,644.5 544.5,645.5 555.5,646.5 567.5,647.5 578.5,648.5 589.5,649.5 601.5,650.5 612.5,651.5 623.5,651.5 634.5,652.5 646.5,653.5 657.5,653.5 668.5,654.5 680.5,654.5 691.5,655.5 702.5,655.5 714.5,656.5 725.5,656.5 736.5,657.5 748.5,657.5 759.5,658.5 770.5,659.5 782.5,659.5 793.5,660.5 804.5,661.5 816.5,662.5 827.5,663.5 838.5,664.5 850.5,666.5 861.5,667.5 872.5,668.5 884.5,669.5 895.5,670.5 906.5,671.5 918.5,671.5 929.5,671.5 940.5,671.5 952.5,671.5 963.5,672.5 974.5,672.5 986.5,673.5 997.5,674.5 1008.5,675.5 1019.5,676.5 1031.5,677.5 1042.5,678.5 1053.5,679.5 1065.5,679.5 1076.5,682.5 1087.5,685.5 1099.5,687.5 1110.5,693.5 1121.5,694.5 1133.5,693.5 1144.5,693.5 1155.5,700.5 1167.5,700.5 1178.5,700.5"/>
</g>
<g id="s28">
<text x="862.5" y="1212.9" text-anchor="end" textLength="308.8" lengthAdjust="spacingAndGlyphs">[q2] Western Digital WD5000AAKS 500G 7200RPM SATA2</text>
<path class="s" stroke="#e69f00" d="M870 1210.5H911"/><use href="#p1" x="890.5" y="1210.5" fill="#e69f00"/>
<polyline class="s" stroke="#e69f00" marker-start="url(#m28)" marker-mid="url(#m28)" marker-end="url(#m28)" points="57.5,626.5 68.5,620.5 80.5,621.5 91.5,621.5 102.5,621.5 114.5,622.5 125.5,622.5 136.5,622.5 148.5,623.5 159.5,623.5 170.5,623.5 182.5,624.5 193.5,624.5 204.5,625.5 216.5,625.5 227.5,625.5 238.5,626.5 249.5,626.5 261.5,626.5 272.5,627.5 283.5,627.5 295.5,628.5 306.5,628.5 317.5,628.5 329.5,628.5 340.5,628.5 351.5,629.5 363.5,630.5 374.5,631.5 385.5,631.5 397.5,631.5 408.5,631.5 419.5,631.5 431.5,632.5 442.5,632.5 453.5,633.5 465.5,634.5 476.5,634.5 487.5,635.5 499.5,635.5 510.5,636.5 521.5,636.5 533.5,636.5 544.5,637.5 555.5,637.5 567.5,637.5 578.5,637.5 589.5,638.5 601.5,638.5 612.5,638.5 623.5,639.5 634.5,640.5 646.5,641.5 657.5,642.5 668.5,643.5 680.5,643.5 691.5,644.5 702.5,645.5 714.5,646.5 725.5,647.5 736.5,647.5 748.5,648.5 759.5,649.5 770.5,649.5 782.5,650.5 793.5,651.5 804.5,651.5 816.5,652.5 827.5,653.5 838.5,654.5 850.5,655.5 861.5,656.5 872.5,657.5 884.5,658.5 895.5,659.5 906.5,660.5 918.5,661.5 929.5,662.5 940.5,663.5 952.5,664.5 963.5,665.5 974.5,666.5 986.5,667.5 997.5,669.5 1008.5,670.5 1019.5,671.5 1031.5,673.5 1042.5,675.5 1053.5,676.5 1065.5,678.5 1076.5,680.5 1087.5,681.5 1099.5,683.5 1110.5,684.5 1121.5,686.5 1133.5,687.5 1144.5,688.5 1155.5,689.5 1167.5,691.5 1178.5,692.5"/>
</g>
<g id="s29">
<text x="862.5" y="1227.9" text-anchor="end" textLength="251.7" lengthAdjust="spacingAndGlyphs">[q2] Samsung HD501LJ 500G 7200RPM SATA2</text>
<path class="s" stroke="#f0e442" d="M870 1225.5H911"/><use href="#p2" x="890.5" y="1225.5" fill="#f0e442"/>
<polyline class="s" stroke="#f0e442" marker-start="url(#m29)" marker-mid="url(#m29)" marker-end="url(#m29)" points="57.5,627.5 68.5,624.5 80.5,624.5 91.5,624.5 102.5,625.5 114.5,627.5 125.5,626.5 136.5,625.5 148.5,626.5 159.5,626.5 170.5,627.5 182.5,627.5 193.5,628.5 204.5,628.5 216.5,628.5 227.5,629.5 238.5,629.5 249.5,630.5 261.5,630.5 272.5,631.5 283.5,631.5 295.5,631.5 306.5,632.5 317.5,632.5 329.5,633.5 340.5,633.5 351.5,633.5 363.5,634.5 374.5,634.5 385.5,635.5 397.5,635.5 408.5,635.5 419.5,636.5 431.5,636.5 442.5,637.5 453.5,637.5 465.5,638.5 476.5,639.5 487.5,639.5 499.5,640.5 510.5,641.5 521.5,641.5 533.5,641.5 544.5,642.5 555.5,642.5 567.5,643.5 578.5,643.5 589.5,643.5 601.5,644.5 612.5,644.5 623.5,645.5 634.5,646.5 646.5,647.5 657.5,647.5 668.5,648.5 680.5,649.5 691.5,650.5 702.5,651.5 714.5,652.5 725.5,653.5 736.5,654.5 748.5,655.5 759.5,655.5 770.5,656.5 782.5,657.5 793.5,657.5 804.5,658.5 816.5,659.5 827.5,660.5 838.5,661.5 850.5,662.5 861.5,663.5 872.5,664.5 884.5,665.5 895.5,666.5 906.5,667.5 918.5,668.5 929.5,669.5 940.5,670.5 952.5,671.5 963.5,672.5 974.5,673.5 986.5,674.5 997.5,675.5 1008.5,676.5 1019.5,678.5 1031.5,679.5 1042.5,681.5 1053.5,682.5 1065.5,684.5 1076.5,685.5 1087.5,687.5 1099.5,688.5 1110.5,690.5 1121.5,691.5 1133.5,693.5 1144.5,695.5 1155.5,696.5 1167.5,698.5 1178.5,699.5"/>
</g>
<g id="s30">
<text x="862.5" y="1242.9" text-anchor="end" textLength="419.4" lengthAdjust="spacingAndGlyphs">[blackbox] Seagate Momentus 7200.1 ST910021AS 2.5" 100G 7200RPM SATA</text>
<path class="s" stroke="#0072b2" d="M870 1240.5H911"/><use href="#p3" x="890.5" y="1240.5" fill="#0072b2"/>
<polyline class="s" stroke="#0072b2" marker-start="url(#m30)" marker-mid="url(#m30)" marker-end="url(#m30)" points="57.5,689.5 68.5,686.5 80.5,686.5 91.5,686.5 102.5,686.5 114.5,687.5 125.5,687.5 136.5,687.5 148.5,687.5 159.5,687.5 170.5,687.5 182.5,687.5 193.5,687.5 204.5,688.5 216.5,688.5 227.5,688.5 238.5,688.5 249.5,688.5 261.5,688.5 272.5,688.5 283.5,688.5 295.5,689.5 306.5,689.5 317.5,689.5 329.5,689.5 340.5,690.5 351.5,690.5 363.5,690.5 374.5,690.5 385.5,691.5 397.5,691.5 408.5,691.5 419.5,691.5 431.5,691.5 442.5,692.5 453.5,692.5 465.5,692.5 476.5,692.5 487.5,693.5 499.5,693.5 510.5,693.5 521.5,694.5 533.5,694.5 544.5,695.5 555.5,695.5 567.5,695.5 578.5,696.5 589.5,696.5 601.5,697.5 612.5,697.5 623.5,698.5 634.5,698.5 646.5,698.5 657.5,699.5 668.5,699.5 680.5,699.5 691.5,700.5 702.5,700.5 714.5,700.5 725.5,701.5 736.5,701.5 748.5,702.5 759.5,702.5 770.5,702.5 782.5,703.5 793.5,703.5 804.5,703.5 816.5,704.5 827.5,704.5 838.5,704.5 850.5,705.5 861.5,705.5 872.5,706.5 884.5,706.5 895.5,707.5 906.5,707.5 918.5,708.5 929.5,708.5 940.5,709.5 952.5,709.5 963.5,709.5 974.5,710.5 986.5,710.5 997.5,711.5 1008.5,711.5 1019.5,712.5 1031.5,713.5 1042.5,713.5 1053.5,714.5 1065.5,715.5 1076.5,715.5 1087.5,716.5 1099.5,717.5 1110.5,717.5 1121.5,718.5 1133.5,719.5 1144.5,719.5 1155.5,720.5 1167.5,721.5 1178.5,721.5"/>
</g>
<g id="s31">
<text x="862.5" y="1257.9" text-anchor="end" textLength="304.6" lengthAdjust="spacingAndGlyphs">[elm3a253] Seagate ST3500641NS 500G 7200RPM SATA</text>
<path class="s" stroke="#e51e10" d="M870 1255.5H911"/><use href="#p4" x="890.5" y="1255.5" fill="#e51e10"/>
<polyline class="s" stroke="#e51e10" marker-start="url(#m31)" marker-mid="url(#m31)" marker-end="url(#m31)" points="57.5,635.5 68.5,632.5 80.5,632.5 91.5,633.5 102.5,633.5 114.5,633.5 125.5,633.5 136.5,633.5 148.5,633.5 159.5,634.5 170.5,634.5 182.5,634.5 193.5,634.5 204.5,634.5 216.5,634.5 227.5,635.5 238.5,635.5 249.5,635.5 261.5,635.5 272.5,635.5 283.5,636.5 295.5,636.5 306.5,636.5 317.5,636.5 329.5,636.5 340.5,637.5 351.5,638.5 363.5,638.5 374.5,639.5 385.5,639.5 397.5,639.5 408.5,639.5 419.5,640.5 431.5,640.5 442.5,640.5 453.5,640.5 465.5,641.5 476.5,641.5 487.5,641.5 499.5,641.5 510.5,642.5 521.5,643.5 533.5,644.5 544.5,645.5 555.5,646.5 567.5,646.5 578.5,647.5 589.5,648.5 601.5,649.5 612.5,650.5 623.5,651.5 634.5,651.5 646.5,652.5 657.5,653.5 668.5,653.5 680.5,654.5 691.5,654.5 702.5,655.5 714.5,655.5 725.5,656.5 736.5,656.5 748.5,657.5 759.5,658.5 770.5,658.5 782.5,659.5 793.5,659.5 804.5,660.5 816.5,661.5 827.5,663.5 838.5,664.5 850.5,665.5 861.5,667.5 872.5,668.5 884.5,669.5 895.5,670.5 906.5,670.5 918.5,670.5 929.5,671.5 940.5,671.5 952.5,671.5 963.5,671.5 974.5,672.5 986.5,672.5 997.5,673.5 1008.5,674.5 1019.5,675.5 1031.5,676.5 1042.5,677.5 1053.5,678.5 1065.5,679.5 1076.5,681.5 1087.5,684.5 1099.5,687.5 1110.5,693.5 1121.5,693.5 1133.5,693.5 1144.5,693.5 1155.5,700.5 1167.5,700.5 1178.5,699.5"/>
</g>
<g id="s32">
<text x="862.5" y="1272.9" text-anchor="end" textLength="259.5" lengthAdjust="spacingAndGlyphs">[tv] Seagate ST3250824AS 250G 7200RPM SATA</text>
<path class="s" stroke="#000000" d="M870 1270.5H911"/><use href="#p5" x="890.5" y="1270.5" fill="#000000"/>
<polyline class="s" stroke="#000000" marker-start="url(#m32)" marker-mid="url(#m32)" marker-end="url(#m32)" points="57.5,657.5 68.5,654.5 80.5,654.5 91.5,654.5 102.5,654.5 114.5,654.5 125.5,654.5 136.5,655.5 148.5,655.5 159.5,655.5 170.5,655.5 182.5,655.5 193.5,655.5 204.5,656.5 216.5,656.5 227.5,656.5 238.5,657.5 249.5,657.5 261.5,657.5 272.5,658.5 283.5,658.5 295.5,658.5 306.5,659.5 317.5,659.5 329.5,660.5 340.5,660.5 351.5,661.5 363.5,661.5 374.5,662.5 385.5,662.5 397.5,663.5 408.5,663.5 419.5,664.5 431.5,664.5 442.5,665.5 453.5,665.5 465.5,666.5 476.5,667.5 487.5,667.5 499.5,668.5 510.5,668.5 521.5,669.5 533.5,669.5 544.5,670.5 555.5,671.5 567.5,671.5 578.5,672.5 589.5,672.5 601.5,673.5 612.5,673.5 623.5,674.5 634.5,674.5 646.5,675.5 657.5,675.5 668.5,676.5 680.5,676.5 691.5,677.5 702.5,677.5 714.5,678.5 725.5,678.5 736.5,679.5 748.5,679.5 759.5,680.5 770.5,680.5 782.5,681.5 793.5,681.5 804.5,682.5 816.5,682.5 827.5,683.5 838.5,684.5 850.5,684.5 861.5,685.5 872.5,685.5 884.5,686.5 895.5,686.5 906.5,687.5 918.5,687.5 929.5,688.5 940.5,689.5 952.5,689.5 963.5,690.5 974.5,691.5 986.5,692.5 997.5,693.5 1008.5,694.5 1019.5,695.5 1031.5,696.5 1042.5,698.5 1053.5,699.5 1065.5,700.5 1076.5,701.5 1087.5,702.5 1099.5,703.5 1110.5,704.5 1121.5,705.5 1133.5,706.5 1144.5,707.5 1155.5,708.5 1167.5,709.5 1178.5,710.5"/>
</g>
<g id="s33">
<text x="862.5" y="1287.9" text-anchor="end" textLength="315" lengthAdjust="spacingAndGlyphs">[idp] Western Digital WD2500YS-23S 250G 7200RPM SATA</text>
<path class="s" stroke="#9400d3" d="M870 1285.5H911"/><use href="#p6" x="890.5" y="1285.5" fill="#9400d3"/>
<polyline class="s" stroke="#9400d3" marker-start="url(#m33)" marker-mid="url(#m33)" marker-end="url(#m33)" points="57.5,661.5 68.5,656.5 80.5,656.5 91.5,656.5 102.5,656.5 114.5,657.5 125.5,657.5 136.5,657.5 148.5,657.5 159.5,657.5 170.5,657.5 182.5,658.5 193.5,658.5 204.5,658.5 216.5,658.5 227.5,658.5 238.5,658.5 249.5,658.5 261.5,659.5 272.5,659.5 283.5,659.5 295.5,659.5 306.5,659.5 317.5,660.5 329.5,660.5 340.5,660.5 351.5,660.5 363.5,661.5 374.5,661.5 385.5,661.5 397.5,661.5 408.5,662.5 419.5,662.5 431.5,662.5 442.5,662.5 453.5,663.5 465.5,663.5 476.5,663.5 487.5,664.5 499.5,664.5 510.5,664.5 521.5,665.5 533.5,665.5 544.5,665.5 555.5,666.5 567.5,666.5 578.5,667.5 589.5,667.5 601.5,667.5 612.5,668.5 623.5,668.5 634.5,668.5 646.5,669.5 657.5,669.5 668.5,670.5 680.5,670.5 691.5,671.5 702.5,671.5 714.5,672.5 725.5,672.5 736.5,673.5 748.5,674.5 759.5,675.5 770.5,675.5 782.5,676.5 793.5,677.5 804.5,677.5 816.5,678.5 827.5,679.5 838.5,679.5 850.5,680.5 861.5,680.5 872.5,681.5 884.5,682.5 895.5,682.5 906.5,683.5 918.5,683.5 929.5,684.5 940.5,685.5 952.5,685.5 963.5,686.5 974.5,686.5 986.5,687.5 997.5,688.5 1008.5,688.5 1019.5,689.5 1031.5,690.5 1042.5,691.5 1053.5,692.5 1065.5,693.5 1076.5,693.5 1087.5,694.5 1099.5,695.5 1110.5,696.5 1121.5,697.5 1133.5,698.5 1144.5,699.5 1155.5,699.5 1167.5,700.5 1178.5,701.5"/>
</g>
<g id="s34">
<text x="862.5" y="1302.9" text-anchor="end" textLength="426" lengthAdjust="spacingAndGlyphs">[blackbox] Seagate Momentus 7200.2 ST9100821AS 2.5" 100G 7200RPM SATA</text>
<path class="s" stroke="#009e73" d="M870 1300.5H911"/><use href="#p7" x="890.5" y="1300.5" fill="#009e73"/>
<polyline class="s" stroke="#009e73" marker-start="url(#m34)" marker-mid="url(#m34)" marker-end="url(#m34)" points="57.5,675.5 68.5,672.5 80.5,672.5 91.5,673.5 102.5,674.5 114.5,674.5 125.5,674.5 136.5,675.5 148.5,674.5 159.5,676.5 170.5,676.5 182.5,676.5 193.5,677.5 204.5,677.5 216.5,677.5 227.5,678.5 238.5,678.5 249.5,679.5 261.5,679.5 272.5,679.5 283.5,679.5 295.5,679.5 306.5,680.5 317.5,679.5 329.5,680.5 340.5,681.5 351.5,680.5 363.5,680.5 374.5,681.5 385.5,681.5 397.5,682.5 408.5,681.5 419.5,682.5 431.5,682.5 442.5,682.5 453.5,683.5 465.5,683.5 476.5,684.5 487.5,683.5 499.5,684.5 510.5,684.5 521.5,685.5 533.5,685.5 544.5,686.5 555.5,687.5 567.5,689.5 578.5,688.5 589.5,689.5 601.5,691.5 612.5,691.5 623.5,691.5 634.5,692.5 646.5,693.5 657.5,693.5 668.5,693.5 680.5,694.5 691.5,695.5 702.5,695.5 714.5,696.5 725.5,696.5 736.5,697.5 748.5,697.5 759.5,697.5 770.5,698.5 782.5,698.5 793.5,698.5 804.5,699.5 816.5,699.5 827.5,700.5 838.5,700.5 850.5,701.5 861.5,702.5 872.5,702.5 884.5,703.5 895.5,703.5 906.5,704.5 918.5,705.5 929.5,705.5 940.5,705.5 952.5,705.5 963.5,707.5 974.5,707.5 986.5,707.5 997.5,708.5 1008.5,709.5 1019.5,709.5 1031.5,710.5 1042.5,711.5 1053.5,712.5 1065.5,713.5 1076.5,714.5 1087.5,715.5 1099.5,715.5 1110.5,716.5 1121.5,717.5 1133.5,718.5 1144.5,719.5 1155.5,719.5 1167.5,721.5 1178.5,721.5"/>
</g>
<g id="s35">
<text x="862.5" y="1317.9" text-anchor="end" textLength="351.4" lengthAdjust="spacingAndGlyphs">[elm3a165] Western Digital WD1600YS-23S 160G 7200RPM SATA</text>
<path class="s" stroke="#56b4e9" d="M870 1315.5H911"/><use href="#p8" x="890.5" y="1315.5" fill="#56b4e9"/>
<polyline class="s" stroke="#56b4e9" marker-start="url(#m35)" marker-mid="url(#m35)" marker-end="url(#m35)" points="57.5,664.5 68.5,661.5 80.5,661.5 91.5,661.5 102.5,661.5 114.5,662.5 125.5,662.5 136.5,662.5 148.5,662.5 159.5,663.5 170.5,663.5 182.5,663.5 193.5,663.5 204.5,664.5 216.5,664.5 227.5,664.5 238.5,664.5 249.5,665.5 261.5,665.5 272.5,665.5 283.5,665.5 295.5,666.5 306.5,666.5 317.5,666.5 329.5,667.5 340.5,667.5 351.5,667.5 363.5,668.5 374.5,668.5 385.5,668.5 397.5,669.5 408.5,669.5 419.5,669.5 431.5,670.5 442.5,670.5 453.5,671.5 465.5,671.5 476.5,672.5 487.5,673.5 499.5,673.5 510.5,674.5 521.5,674.5 533.5,674.5 544.5,675.5 555.5,675.5 567.5,676.5 578.5,676.5 589.5,677.5 601.5,677.5 612.5,677.5 623.5,678.5 634.5,678.5 646.5,679.5 657.5,679.5 668.5,679.5 680.5,680.5 691.5,680.5 702.5,681.5 714.5,681.5 725.5,682.5 736.5,682.5 748.5,682.5 759.5,683.5 770.5,683.5 782.5,684.5 793.5,684.5 804.5,685.5 816.5,685.5 827.5,686.5 838.5,686.5 850.5,687.5 861.5,687.5 872.5,688.5 884.5,688.5 895.5,688.5 906.5,689.5 918.5,689.5 929.5,690.5 940.5,690.5 952.5,691.5 963.5,692.5 974.5,692.5 986.5,693.5 997.5,694.5 1008.5,695.5 1019.5,696.5 1031.5,696.5 1042.5,697.5 1053.5,698.5 1065.5,699.5 1076.5,700.5 1087.5,700.5 1099.5,701.5 1110.5,702.5 1121.5,703.5 1133.5,704.5 1144.5,704.5 1155.5,705.5 1167.5,706.5 1178.5,707.5"/>
</g>
<g id="s36">
<text x="862.5" y="1332.9" text-anchor="end" textLength="375.6" lengthAdjust="spacingAndGlyphs">[elm3a92] Seagate Barracuda ES ST3750640NS 750G 7200RPM SATA</text>
<path class="s" stroke="#e69f00" d="M870 1330.5H911"/><use href="#p9" x="890.5" y="1330.5" fill="#e69f00"/>
<polyline class="s" stroke="#e69f00" marker-start="url(#m36)" marker-mid="url(#m36)" marker-end="url(#m36)" points="57.5,641.5 68.5,632.5 80.5,632.5 91.5,632.5 102.5,632.5 114.5,632.5 125.5,632.5 136.5,633.5 148.5,633.5 159.5,633.5 170.5,633.5 182.5,633.5 193.5,633.5 204.5,633.5 216.5,634.5 227.5,634.5 238.5,634.5 249.5,634.5 261.5,634.5 272.5,635.5 283.5,635.5 295.5,635.5 306.5,635.5 317.5,635.5 329.5,636.5 340.5,636.5 351.5,637.5 363.5,638.5 374.5,638.5 385.5,638.5 397.5,638.5 408.5,639.5 419.5,639.5 431.5,639.5 442.5,639.5 453.5,640.5 465.5,640.5 476.5,640.5 487.5,640.5 499.5,641.5 510.5,641.5 521.5,642.5 533.5,643.5 544.5,644.5 555.5,645.5 567.5,646.5 578.5,647.5 589.5,648.5 601.5,649.5 612.5,649.5 623.5,650.5 634.5,651.5 646.5,651.5 657.5,652.5 668.5,652.5 680.5,653.5 691.5,653.5 702.5,654.5 714.5,654.5 725.5,655.5 736.5,656.5 748.5,656.5 759.5,657.5 770.5,657.5 782.5,658.5 793.5,659.5 804.5,659.5 816.5,660.5 827.5,662.5 838.5,663.5 850.5,665.5 861.5,666.5 872.5,667.5 884.5,668.5 895.5,669.5 906.5,669.5 918.5,670.5 929.5,670.5 940.5,670.5 952.5,670.5 963.5,670.5 974.5,671.5 986.5,672.5 997.5,672.5 1008.5,673.5 1019.5,675.5 1031.5,675.5 1042.5,676.5 1053.5,677.5 1065.5,678.5 1076.5,681.5 1087.5,683.5 1099.5,686.5 1110.5,692.5 1121.5,692.5 1133.5,692.5 1144.5,692.5 1155.5,699.5 1167.5,699.5 1178.5,699.5"/>
</g>
<g id="s37">
<text x="862.5" y="1347.9" text-anchor="end" textLength="280.5" lengthAdjust="spacingAndGlyphs">[elm3a162] Hitachi HDT72502 250G 7200RPM SATA</text>
<path class="s" stroke="#f0e442" d="M870 1345.5H911"/><use href="#p10" x="890.5" y="1345.5" fill="#f0e442"/>
<polyline class="s" stroke="#f0e442" marker-start="url(#m37)" marker-mid="url(#m37)" marker-end="url(#m37)" points="57.5,661.5 68.5,655.5 80.5,655.5 91.5,655.5 102.5,655.5 114.5,655.5 125.5,656.5 136.5,656.5 148.5,656.5 159.5,656.5 170.5,656.5 182.5,656.5 193.5,657.5 204.5,657.5 216.5,657.5 227.5,658.5 238.5,658.5 249.5,658.5 261.5,659.5 272.5,659.5 283.5,659.5 295.5,660.5 306.5,660.5 317.5,661.5 329.5,661.5 340.5,662.5 351.5,662.5 363.5,663.5 374.5,663.5 385.5,664.5 397.5,664.5 408.5,665.5 419.5,665.5 431.5,666.5 442.5,666.5 453.5,667.5 465.5,668.5 476.5,668.5 487.5,669.5 499.5,670.5 510.5,670.5 521.5,671.5 533.5,671.5 544.5,672.5 555.5,673.5 567.5,673.5 578.5,674.5 589.5,674.5 601.5,675.5 612.5,675.5 623.5,676.5 634.5,676.5 646.5,677.5 657.5,677.5 668.5,678.5 680.5,678.5 691.5,679.5 702.5,679.5 714.5,679.5 725.5,680.5 736.5,680.5 748.5,681.5 759.5,681.5 770.5,682.5 782.5,682.5 793.5,683.5 804.5,683.5 816.5,684.5 827.5,684.5 838.5,685.5 850.5,685.5 861.5,686.5 872.5,686.5 884.5,687.5 895.5,688.5 906.5,688.5 918.5,689.5 929.5,689.5 940.5,690.5 952.5,690.5 963.5,691.5 974.5,691.5 986.5,692.5 997.5,692.5 1008.5,693.5 1019.5,694.5 1031.5,695.5 1042.5,696.5 1053.5,697.5 1065.5,698.5 1076.5,699.5 1087.5,701.5 1099.5,702.5 1110.5,703.5 1121.5,704.5 1133.5,705.5 1144.5,706.5 1155.5,707.5 1167.5,708.5 1178.5,709.5"/>
</g>
<g id="s38">
<text x="862.5" y="1362.9" text-anchor="end" textLength="349.3" lengthAdjust="spacingAndGlyphs">[blackbox] Hitachi HTS722010K9SA00 2.5" 100G 7200RPM SATA</text>
<path class="s" stroke="#0072b2" d="M870 1360.5H911"/><use href="#p11" x="890.5" y="1360.5" fill="#0072b2"/>
<polyline class="s" stroke="#0072b2" marker-start="url(#m38)" marker-mid="url(#m38)" marker-end="url(#m38)" points="57.5,690.5 68.5,687.5 80.5,687.5 91.5,687.5 102.5,687.5 114.5,687.5 125.5,687.5 136.5,687.5 148.5,688.5 159.5,688.5 170.5,688.5 182.5,688.5 193.5,688.5 204.5,688.5 216.5,688.5 227.5,688.5 238.5,688.5 249.5,688.5 261.5,689.5 272.5,689.5 283.5,689.5 295.5,689.5 306.5,689.5 317.5,689.5 329.5,690.5 340.5,690.5 351.5,690.5 363.5,690.5 374.5,691.5 385.5,691.5 397.5,691.5 408.5,691.5 419.5,692.5 431.5,692.5 442.5,692.5 453.5,692.5 465.5,693.5 476.5,693.5 487.5,693.5 499.5,693.5 510.5,694.5 521.5,694.5 533.5,694.5 544.5,695.5 555.5,695.5 567.5,696.5 578.5,696.5 589.5,696.5 601.5,697.5 612.5,697.5 623.5,698.5 634.5,698.5 646.5,698.5 657.5,699.5 668.5,699.5 680.5,699.5 691.5,700.5 702.5,700.5 714.5,701.5 725.5,701.5 736.5,701.5 748.5,702.5 759.5,703.5 770.5,703.5 782.5,704.5 793.5,704.5 804.5,705.5 816.5,705.5 827.5,706.5 838.5,706.5 850.5,707.5 861.5,707.5 872.5,708.5 884.5,708.5 895.5,709.5 906.5,709.5 918.5,710.5 929.5,710.5 940.5,711.5 952.5,711.5 963.5,712.5 974.5,712.5 986.5,713.5 997.5,714.5 1008.5,714.5 1019.5,715.5 1031.5,716.5 1042.5,716.5 1053.5,717.5 1065.5,718.5 1076.5,718.5 1087.5,719.5 1099.5,720.5 1110.5,720.5 1121.5,721.5 1133.5,722.5 1144.5,722.5 1155.5,723.5 1167.5,723.5 1178.5,724.5"/>
</g>
<g id="s39">
<text x="862.5" y="1377.9" text-anchor="end" textLength="247.3" lengthAdjust="spacingAndGlyphs">[sub2] Seagate ST3320620AS 320G 7.2k SATA</text>
<path class="s" stroke="#e51e10" d="M870 1375.5H911"/><use href="#p12" x="890.5" y="1375.5" fill="#e51e10"/>
<polyline class="s" stroke="#e51e10" marker-start="url(#m39)" marker-mid="url(#m39)" marker-end="url(#m39)" points="57.5,637.5 68.5,634.5 80.5,634.5 91.5,634.5 102.5,634.5 114.5,635.5 125.5,635.5 136.5,635.5 148.5,635.5 159.5,635.5 170.5,635.5 182.5,636.5 193.5,636.5 204.5,636.5 216.5,636.5 227.5,636.5 238.5,636.5 249.5,637.5 261.5,637.5 272.5,637.5 283.5,637.5 295.5,637.5 306.5,638.5 317.5,638.5 329.5,638.5 340.5,639.5 351.5,640.5 363.5,640.5 374.5,640.5 385.5,641.5 397.5,641.5 408.5,641.5 419.5,641.5 431.5,642.5 442.5,642.5 453.5,642.5 465.5,642.5 476.5,642.5 487.5,643.5 499.5,643.5 510.5,643.5 521.5,644.5 533.5,645.5 544.5,646.5 555.5,647.5 567.5,648.5 578.5,649.5 589.5,650.5 601.5,651.5 612.5,652.5 623.5,655.5 634.5,657.5 646.5,659.5 657.5,660.5 668.5,659.5 680.5,657.5 691.5,657.5 702.5,656.5 714.5,656.5 725.5,656.5 736.5,657.5 748.5,658.5 759.5,658.5 770.5,659.5 782.5,660.5 793.5,660.5 804.5,661.5 816.5,662.5 827.5,663.5 838.5,665.5 850.5,666.5 861.5,667.5 872.5,669.5 884.5,669.5 895.5,670.5 906.5,671.5 918.5,671.5 929.5,671.5 940.5,671.5 952.5,671.5 963.5,672.5 974.5,673.5 986.5,673.5 997.5,674.5 1008.5,675.5 1019.5,676.5 1031.5,677.5 1042.5,678.5 1053.5,679.5 1065.5,680.5 1076.5,682.5 1087.5,685.5 1099.5,687.5 1110.5,693.5 1121.5,694.5 1133.5,694.5 1144.5,695.5 1155.5,698.5 1167.5,700.5 1178.5,701.5"/>
</g>
<g id="s40">
<text x="862.5" y="1392.9" text-anchor="end" textLength="341.1" lengthAdjust="spacingAndGlyphs">[tortuga] Hitachi HDT722516DLA380 3.5" 160G 7200RPM SATA</text>
<path class="s" stroke="#000000" d="M870 1390.5H911"/><use href="#p0" x="890.5" y="1390.5" fill="#000000"/>
<polyline class="s" stroke="#000000" marker-start="url(#m40)" marker-mid="url(#m40)" marker-end="url(#m40)" points="57.5,664.5 68.5,662.5 80.5,662.5 91.5,662.5 102.5,662.5 114.5,662.5 125.5,662.5 136.5,663.5 148.5,663.5 159.5,663.5 170.5,663.5 182.5,663.5 193.5,663.5 204.5,663.5 216.5,664.5 227.5,664.5 238.5,664.5 249.5,664.5 261.5,664.5 272.5,664.5 283.5,664.5 295.5,665.5 306.5,665.5 317.5,665.5 329.5,666.5 340.5,666.5 351.5,666.5 363.5,666.5 374.5,667.5 385.5,667.5 397.5,667.5 408.5,668.5 419.5,668.5 431.5,668.5 442.5,668.5 453.5,669.5 465.5,669.5 476.5,669.5 487.5,669.5 499.5,670.5 510.5,670.5 521.5,670.5 533.5,671.5 544.5,671.5 555.5,672.5 567.5,672.5 578.5,672.5 589.5,673.5 601.5,673.5 612.5,674.5 623.5,674.5 634.5,675.5 646.5,675.5 657.5,675.5 668.5,676.5 680.5,676.5 691.5,677.5 702.5,677.5 714.5,678.5 725.5,678.5 736.5,679.5 748.5,679.5 759.5,680.5 770.5,680.5 782.5,681.5 793.5,682.5 804.5,682.5 816.5,683.5 827.5,683.5 838.5,684.5 850.5,685.5 861.5,685.5 872.5,686.5 884.5,686.5 895.5,687.5 906.5,688.5 918.5,688.5 929.5,689.5 940.5,689.5 952.5,690.5 963.5,691.5 974.5,692.5 986.5,692.5 997.5,693.5 1008.5,694.5 1019.5,695.5 1031.5,696.5 1042.5,697.5 1053.5,697.5 1065.5,698.5 1076.5,699.5 1087.5,700.5 1099.5,701.5 1110.5,702.5 1121.5,703.5 1133.5,703.5 1144.5,704.5 1155.5,705.5 1167.5,706.5 1178.5,707.5"/>
</g>
<g id="s41">
<text x="862.5" y="1407.9" text-anchor="end" textLength="329.7" lengthAdjust="spacingAndGlyphs">[elm3a197] Seagate ST3250310NS 3.5" 250G 7200RPM SATA</text>
<path class="s" stroke="#9400d3" d="M870 1405.5H911"/><use href="#p1" x="890.5" y="1405.5" fill="#9400d3"/>
<polyline class="s" stroke="#9400d3" marker-start="url(#m41)" marker-mid="url(#m41)" marker-end="url(#m41)" points="57.5,586.5 68.5,584.5 80.5,585.5 91.5,585.5 102.5,585.5 114.5,585.5 125.5,585.5 136.5,585.5 148.5,585.5 159.5,585.5 170.5,585.5 182.5,585.5 193.5,585.5 204.5,586.5 216.5,586.5 227.5,586.5 238.5,586.5 249.5,587.5 261.5,587.5 272.5,587.5 283.5,587.5 295.5,588.5 306.5,588.5 317.5,589.5 329.5,590.5 340.5,590.5 351.5,591.5 363.5,591.5 374.5,592.5 385.5,592.5 397.5,593.5 408.5,594.5 419.5,594.5 431.5,595.5 442.5,596.5 453.5,597.5 465.5,597.5 476.5,598.5 487.5,599.5 499.5,600.5 510.5,601.5 521.5,602.5 533.5,603.5 544.5,605.5 555.5,606.5 567.5,608.5 578.5,609.5 589.5,611.5 601.5,612.5 612.5,613.5 623.5,615.5 634.5,616.5 646.5,617.5 657.5,618.5 668.5,619.5 680.5,620.5 691.5,621.5 702.5,623.5 714.5,624.5 725.5,626.5 736.5,627.5 748.5,628.5 759.5,629.5 770.5,630.5 782.5,631.5 793.5,632.5 804.5,633.5 816.5,635.5 827.5,636.5 838.5,637.5 850.5,638.5 861.5,640.5 872.5,641.5 884.5,642.5 895.5,644.5 906.5,645.5 918.5,646.5 929.5,648.5 940.5,649.5 952.5,650.5 963.5,652.5 974.5,653.5 986.5,654.5 997.5,656.5 1008.5,657.5 1019.5,659.5 1031.5,660.5 1042.5,661.5 1053.5,663.5 1065.5,664.5 1076.5,665.5 1087.5,667.5 1099.5,668.5 1110.5,670.5 1121.5,671.5 1133.5,673.5 1144.5,674.5 1155.5,676.5 1167.5,678.5 1178.5,679.5"/>
</g>
<g id="s42">
<text x="862.5" y="1422.9" text-anchor="end" textLength="340.9" lengthAdjust="spacingAndGlyphs">[tortuga] Hitachi HDS725050KLA360 500G 3.5" 7200RPM SATA</text>
<path class="s" stroke="#009e73" d="M870 1420.5H911"/><use href="#p2" x="890.5" y="1420.5" fill="#009e73"/>
<polyline class="s" stroke="#009e73" marker-start="url(#m42)" marker-mid="url(#m42)" marker-end="url(#m42)" points="57.5,663.5 68.5,657.5 80.5,658.5 91.5,658.5 102.5,658.5 114.5,658.5 125.5,658.5 136.5,658.5 148.5,658.5 159.5,658.5 170.5,658.5 182.5,659.5 193.5,659.5 204.5,659.5 216.5,660.5 227.5,660.5 238.5,660.5 249.5,661.5 261.5,661.5 272.5,661.5 283.5,662.5 295.5,662.5 306.5,663.5 317.5,663.5 329.5,664.5 340.5,664.5 351.5,665.5 363.5,665.5 374.5,666.5 385.5,666.5 397.5,666.5 408.5,667.5 419.5,667.5 431.5,668.5 442.5,669.5 453.5,669.5 465.5,670.5 476.5,671.5 487.5,672.5 499.5,672.5 510.5,673.5 521.5,674.5 533.5,675.5 544.5,676.5 555.5,677.5 567.5,678.5 578.5,678.5 589.5,679.5 601.5,679.5 612.5,680.5 623.5,680.5 634.5,681.5 646.5,681.5 657.5,682.5 668.5,682.5 680.5,683.5 691.5,684.5 702.5,684.5 714.5,685.5 725.5,685.5 736.5,686.5 748.5,686.5 759.5,687.5 770.5,687.5 782.5,688.5 793.5,688.5 804.5,689.5 816.5,689.5 827.5,690.5 838.5,690.5 850.5,691.5 861.5,691.5 872.5,692.5 884.5,692.5 895.5,693.5 906.5,694.5 918.5,694.5 929.5,695.5 940.5,695.5 952.5,696.5 963.5,696.5 974.5,697.5 986.5,697.5 997.5,698.5 1008.5,699.5 1019.5,699.5 1031.5,700.5 1042.5,701.5 1053.5,701.5 1065.5,702.5 1076.5,703.5 1087.5,703.5 1099.5,704.5 1110.5,705.5 1121.5,705.5 1133.5,706.5 1144.5,707.5 1155.5,707.5 1167.5,708.5 1178.5,709.5"/>
</g>
<g id="s43">
<text x="862.5" y="1437.9" text-anchor="end" textLength="274.4" lengthAdjust="spacingAndGlyphs">[mini] Maxtor OneTouch 3.5" 500G 7200RPM SATA</text>
<path class="s" stroke="#56b4e9" d="M870 1435.5H911"/><use href="#p3" x="890.5" y="1435.5" fill="#56b4e9"/>
<polyline class="s" stroke="#56b4e9" marker-start="url(#m43)" marker-mid="url(#m43)" marker-end="url(#m43)" points="57.5,726.5 68.5,724.5 80.5,724.5 91.5,724.5 102.5,724.5 114.5,724.5 125.5,724.5 136.5,724.5 148.5,724.5 159.5,724.5 170.5,724.5 182.5,724.5 193.5,724.5 204.5,724.5 216.5,724.5 227.5,724.5 238.5,724.5 249.5,724.5 261.5,724.5 272.5,724.5 283.5,724.5 295.5,724.5 306.5,724.5 317.5,724.5 329.5,724.5 340.5,724.5 351.5,724.5 363.5,724.5 374.5,724.5 385.5,724.5 397.5,724.5 408.5,724.5 419.5,724.5 431.5,724.5 442.5,724.5 453.5,724.5 465.5,724.5 476.5,724.5 487.5,724.5 499.5,724.5 510.5,724.5 521.5,724.5 533.5,724.5 544.5,724.5 555.5,724.5 567.5,724.5 578.5,724.5 589.5,724.5 601.5,724.5 612.5,724.5 623.5,724.5 634.5,723.5 646.5,723.5 657.5,723.5 668.5,723.5 680.5,723.5 691.5,723.5 702.5,723.5 714.5,723.5 725.5,723.5 736.5,723.5 748.5,723.5 759.5,723.5 770.5,723.5 782.5,723.5 793.5,723.5 804.5,723.5 816.5,722.5 827.5,722.5 838.5,722.5 850.5,722.5 861.5,722.5 872.5,722.5 884.5,722.5 895.5,722.5 906.5,722.5 918.5,722.5 929.5,722.5 940.5,722.5 952.5,722.5 963.5,722.5 974.5,722.5 986.5,722.5 997.5,722.5 1008.5,723.5 1019.5,723.5 1031.5,723.5 1042.5,723.5 1053.5,723.5 1065.5,723.5 1076.5,723.5 1087.5,723.5 1099.5,723.5 1110.5,723.5 1121.5,723.5 1133.5,723.5 1144.5,723.5 1155.5,723.5 1167.5,723.5 1178.5,771.5"/>
</g>
<g id="s44">
<text x="862.5" y="1452.9" text-anchor="end" textLength="337.6" lengthAdjust="spacingAndGlyphs">[quad] Western Digital WD2502ABYS 3.5" 250G 7.2kRPM SATA</text>
<path class="s" stroke="#e69f00" d="M870 1450.5H911"/><use href="#p4" x="890.5" y="1450.5" fill="#e69f00"/>
<polyline class="s" stroke="#e69f00" marker-start="url(#m44)" marker-mid="url(#m44)" marker-end="url(#m44)" points="57.5,586.5 68.5,565.5 80.5,563.5 91.5,562.5 102.5,562.5 114.5,562.5 125.5,562.5 136.5,562.5 148.5,562.5 159.5,562.5 170.5,563.5 182.5,565.5 193.5,566.5 204.5,567.5 216.5,568.5 227.5,569.5 238.5,570.5 249.5,571.5 261.5,572.5 272.5,572.5 283.5,573.5 295.5,573.5 306.5,573.5 317.5,570.5 329.5,571.5 340.5,572.5 351.5,573.5 363.5,575.5 374.5,578.5 385.5,579.5 397.5,580.5 408.5,580.5 419.5,580.5 431.5,579.5 442.5,579.5 453.5,580.5 465.5,581.5 476.5,582.5 487.5,583.5 499.5,584.5 510.5,584.5 521.5,585.5 533.5,586.5 544.5,587.5 555.5,588.5 567.5,589.5 578.5,589.5 589.5,590.5 601.5,591.5 612.5,592.5 623.5,593.5 634.5,594.5 646.5,595.5 657.5,596.5 668.5,597.5 680.5,598.5 691.5,599.5 702.5,600.5 714.5,601.5 725.5,602.5 736.5,603.5 748.5,603.5 759.5,604.5 770.5,604.5 782.5,604.5 793.5,605.5 804.5,606.5 816.5,608.5 827.5,609.5 838.5,611.5 850.5,612.5 861.5,614.5 872.5,615.5 884.5,616.5 895.5,618.5 906.5,620.5 918.5,621.5 929.5,623.5 940.5,625.5 952.5,626.5 963.5,628.5 974.5,629.5 986.5,630.5 997.5,631.5 1008.5,633.5 1019.5,634.5 1031.5,635.5 1042.5,636.5 1053.5,638.5 1065.5,639.5 1076.5,641.5 1087.5,642.5 1099.5,644.5 1110.5,646.5 1121.5,647.5 1133.5,650.5 1144.5,652.5 1155.5,654.5 1167.5,657.5 1178.5,656.5"/>
</g>
<g id="s45">
<text x="862.5" y="1467.9" text-anchor="end" textLength="354.6" lengthAdjust="spacingAndGlyphs">[sub2] Hitachi HDS722525VLSA80 3.5" 250G 7.2kRPM SATA Write</text>
<path class="s" stroke="#f0e442" d="M870 1465.5H911"/><use href="#p5" x="890.5" y="1465.5" fill="#f0e442"/>
<polyline class="s" stroke="#f0e442" marker-start="url(#m45)" marker-mid="url(#m45)" marker-end="url(#m45)" points="57.5,675.5 68.5,671.5 80.5,672.5 91.5,672.5 102.5,672.5 114.5,672.5 125.5,672.5 136.5,672.5 148.5,672.5 159.5,673.5 170.5,673.5 182.5,673.5 193.5,673.5 204.5,673.5 216.5,673.5 227.5,673.5 238.5,673.5 249.5,673.5 261.5,673.5 272.5,674.5 283.5,674.5 295.5,674.5 306.5,674.5 317.5,675.5 329.5,675.5 340.5,675.5 351.5,676.5 363.5,676.5 374.5,675.5 385.5,676.5 397.5,677.5 408.5,676.5 419.5,676.5 431.5,677.5 442.5,678.5 453.5,678.5 465.5,677.5 476.5,677.5 487.5,677.5 499.5,678.5 510.5,679.5 521.5,678.5 533.5,679.5 544.5,680.5 555.5,680.5 567.5,681.5 578.5,681.5 589.5,681.5 601.5,681.5 612.5,681.5 623.5,681.5 634.5,683.5 646.5,682.5 657.5,682.5 668.5,684.5 680.5,684.5 691.5,684.5 702.5,684.5 714.5,685.5 725.5,685.5 736.5,687.5 748.5,686.5 759.5,688.5 770.5,688.5 782.5,688.5 793.5,689.5 804.5,690.5 816.5,689.5 827.5,690.5 838.5,691.5 850.5,692.5 861.5,692.5 872.5,692.5 884.5,693.5 895.5,694.5 906.5,694.5 918.5,694.5 929.5,695.5 940.5,696.5 952.5,696.5 963.5,697.5 974.5,698.5 986.5,699.5 997.5,700.5 1008.5,700.5 1019.5,702.5 1031.5,703.5 1042.5,703.5 1053.5,704.5 1065.5,704.5 1076.5,705.5 1087.5,706.5 1099.5,708.5 1110.5,708.5 1121.5,708.5 1133.5,710.5 1144.5,710.5 1155.5,711.5 1167.5,712.5 1178.5,713.5"/>
</g>
<g id="s46">
<text x="862.5" y="1482.9" text-anchor="end" textLength="353.3" lengthAdjust="spacingAndGlyphs">[sub2] Hitachi HDS722525VLSA80 3.5" 250G 7.2kRPM SATA Read</text>
<path class="s" stroke="#0072b2" d="M870 1480.5H911"/><use href="#p6" x="890.5" y="1480.5" fill="#0072b2"/>
<polyline class="s" stroke="#0072b2" marker-start="url(#m46)" marker-mid="url(#m46)" marker-end="url(#m46)" points="57.5,668.5 68.5,661.5 80.5,661.5 91.5,663.5 102.5,664.5 114.5,664.5 125.5,664.5 136.5,664.5 148.5,664.5 159.5,664.5 170.5,664.5 182.5,665.5 193.5,665.5 204.5,665.5 216.5,665.5 227.5,665.5 238.5,665.5 249.5,665.5 261.5,666.5 272.5,666.5 283.5,666.5 295.5,666.5 306.5,667.5 317.5,667.5 329.5,667.5 340.5,668.5 351.5,668.5 363.5,668.5 374.5,669.5 385.5,669.5 397.5,669.5 408.5,670.5 419.5,670.5 431.5,670.5 442.5,671.5 453.5,672.5 465.5,672.5 476.5,673.5 487.5,673.5 499.5,674.5 510.5,674.5 521.5,675.5 533.5,675.5 544.5,675.5 555.5,676.5 567.5,676.5 578.5,677.5 589.5,677.5 601.5,677.5 612.5,678.5 623.5,678.5 634.5,679.5 646.5,679.5 657.5,680.5 668.5,680.5 680.5,680.5 691.5,681.5 702.5,681.5 714.5,682.5 725.5,682.5 736.5,683.5 748.5,683.5 759.5,684.5 770.5,685.5 782.5,686.5 793.5,686.5 804.5,687.5 816.5,688.5 827.5,688.5 838.5,689.5 850.5,690.5 861.5,691.5 872.5,691.5 884.5,692.5 895.5,693.5 906.5,693.5 918.5,694.5 929.5,694.5 940.5,695.5 952.5,695.5 963.5,696.5 974.5,696.5 986.5,697.5 997.5,697.5 1008.5,697.5 1019.5,698.5 1031.5,700.5 1042.5,701.5 1053.5,702.5 1065.5,703.5 1076.5,704.5 1087.5,705.5 1099.5,706.5 1110.5,707.5 1121.5,708.5 1133.5,710.5 1144.5,711.5 1155.5,712.5 1167.5,713.5 1178.5,714.5"/>
</g>
<g id="s47">
<text x="862.5" y="1497.9" text-anchor="end" textLength="325" lengthAdjust="spacingAndGlyphs">[quad] Seagate Barracuda ST15150N 3.5" 4G 7.2kRPM SCSI</text>
<path class="s" stroke="#e51e10" d="M870 1495.5H911"/><use href="#p7" x="890.5" y="1495.5" fill="#e51e10"/>
<polyline class="s" stroke="#e51e10" marker-start="url(#m47)" marker-mid="url(#m47)" marker-end="url(#m47)" points="57.5,760.5 68.5,759.5 80.5,759.5 91.5,759.5 102.5,759.5 114.5,759.5 125.5,759.5 136.5,759.5 148.5,759.5 159.5,759.5 170.5,759.5 182.5,759.5 193.5,759.5 204.5,759.5 216.5,759.5 227.5,759.5 238.5,759.5 249.5,759.5 261.5,759.5 272.5,759.5 283.5,759.5 295.5,759.5 306.5,759.5 317.5,759.5 329.5,759.5 340.5,759.5 351.5,759.5 363.5,759.5 374.5,761.5 385.5,761.5 397.5,761.5 408.5,761.5 419.5,761.5 431.5,761.5 442.5,761.5 453.5,761.5 465.5,761.5 476.5,761.5 487.5,761.5 499.5,761.5 510.5,761.5 521.5,761.5 533.5,761.5 544.5,761.5 555.5,761.5 567.5,761.5 578.5,761.5 589.5,761.5 601.5,761.5 612.5,761.5 623.5,761.5 634.5,761.5 646.5,761.5 657.5,761.5 668.5,761.5 680.5,761.5 691.5,761.5 702.5,761.5 714.5,761.5 725.5,761.5 736.5,761.5 748.5,761.5 759.5,761.5 770.5,761.5 782.5,761.5 793.5,761.5 804.5,761.5 816.5,761.5 827.5,761.5 838.5,761.5 850.5,761.5 861.5,761.5 872.5,761.5 884.5,761.5 895.5,761.5 906.5,761.5 918.5,761.5 929.5,762.5 940.5,762.5 952.5,762.5 963.5,762.5 974.5,762.5 986.5,762.5 997.5,762.5 1008.5,762.5 1019.5,762.5 1031.5,762.5 1042.5,762.5 1053.5,762.5 1065.5,762.5 1076.5,762.5 1087.5,762.5 1099.5,762.5 1110.5,762.5 1121.5,762.5 1133.5,762.5 1144.5,762.5 1155.5,762.5 1167.5,763.5 1178.5,763.5"/>
</g>
<g id="s48">
<text x="862.5" y="1512.9" text-anchor="end" textLength="406" lengthAdjust="spacingAndGlyphs">[sub2] Hitachi HDS722525VLSA80 3.5" 250G 7.2kRPM SATA Write Nocache</text>
<path class="s" stroke="#000000" d="M870 1510.5H911"/><use href="#p8" x="890.5" y="1510.5" fill="#000000"/>
<polyline class="s" stroke="#000000" marker-start="url(#m48)" marker-mid="url(#m48)" marker-end="url(#m48)" points="57.5,721.5 68.5,720.5 80.5,720.5 91.5,720.5 102.5,720.5 114.5,720.5 125.5,720.5 136.5,720.5 148.5,720.5 159.5,720.5 170.5,720.5 182.5,720.5 193.5,720.5 204.5,720.5 216.5,720.5 227.5,720.5 238.5,720.5 249.5,720.5 261.5,720.5 272.5,720.5 283.5,720.5 295.5,720.5 306.5,720.5 317.5,720.5 329.5,720.5 340.5,720.5 351.5,721.5 363.5,721.5 374.5,721.5 385.5,721.5 397.5,721.5 408.5,721.5 419.5,721.5 431.5,721.5 442.5,721.5 453.5,721.5 465.5,721.5 476.5,721.5 487.5,721.5 499.5,721.5 510.5,721.5 521.5,721.5 533.5,721.5 544.5,721.5 555.5,722.5 567.5,722.5 578.5,722.5 589.5,722.5 601.5,722.5 612.5,722.5 623.5,722.5 634.5,722.5 646.5,722.5 657.5,723.5 668.5,723.5 680.5,723.5 691.5,723.5 702.5,723.5 714.5,723.5 725.5,723.5 736.5,723.5 748.5,724.5 759.5,724.5 770.5,724.5 782.5,724.5 793.5,724.5 804.5,724.5 816.5,725.5 827.5,725.5 838.5,725.5 850.5,725.5 861.5,725.5 872.5,726.5 884.5,726.5 895.5,726.5 906.5,726.5 918.5,727.5 929.5,727.5 940.5,727.5 952.5,728.5 963.5,728.5 974.5,728.5 986.5,729.5 997.5,729.5 1008.5,730.5 1019.5,730.5 1031.5,730.5 1042.5,731.5 1053.5,731.5 1065.5,731.5 1076.5,731.5 1087.5,732.5 1099.5,732.5 1110.5,732.5 1121.5,733.5 1133.5,733.5 1144.5,733.5 1155.5,734.5 1167.5,734.5 1178.5,734.5"/>
</g>
<g id="s49">
<text x="862.5" y="1527.9" text-anchor="end" textLength="431.8" lengthAdjust="spacingAndGlyphs">[sub2] Hitachi HDS722525VLSA80 3.5" 250G 7.2kRPM SATA Read Noreadahead</text>
<path class="s" stroke="#9400d3" d="M870 1525.5H911"/><use href="#p9" x="890.5" y="1525.5" fill="#9400d3"/>
<polyline class="s" stroke="#9400d3" marker-start="url(#m49)" marker-mid="url(#m49)" marker-end="url(#m49)" points="57.5,718.5 68.5,716.5 80.5,716.5 91.5,716.5 102.5,716.5 114.5,716.5 125.5,716.5 136.5,717.5 148.5,717.5 159.5,717.5 170.5,717.5 182.5,717.5 193.5,717.5 204.5,717.5 216.5,717.5 227.5,718.5 238.5,718.5 249.5,718.5 261.5,718.5 272.5,718.5 283.5,718.5 295.5,718.5 306.5,718.5 317.5,718.5 329.5,718.5 340.5,718.5 351.5,718.5 363.5,718.5 374.5,718.5 385.5,719.5 397.5,719.5 408.5,719.5 419.5,719.5 431.5,719.5 442.5,719.5 453.5,719.5 465.5,719.5 476.5,719.5 487.5,719.5 499.5,719.5 510.5,719.5 521.5,719.5 533.5,719.5 544.5,719.5 555.5,720.5 567.5,720.5 578.5,720.5 589.5,720.5 601.5,720.5 612.5,720.5 623.5,720.5 634.5,720.5 646.5,720.5 657.5,721.5 668.5,721.5 680.5,721.5 691.5,721.5 702.5,721.5 714.5,721.5 725.5,721.5 736.5,721.5 748.5,722.5 759.5,722.5 770.5,722.5 782.5,722.5 793.5,722.5 804.5,723.5 816.5,723.5 827.5,723.5 838.5,723.5 850.5,723.5 861.5,724.5 872.5,724.5 884.5,724.5 895.5,724.5 906.5,724.5 918.5,725.5 929.5,725.5 940.5,726.5 952.5,726.5 963.5,726.5 974.5,727.5 986.5,727.5 997.5,727.5 1008.5,728.5 1019.5,728.5 1031.5,728.5 1042.5,729.5 1053.5,729.5 1065.5,729.5 1076.5,730.5 1087.5,730.5 1099.5,730.5 1110.5,731.5 1121.5,731.5 1133.5,731.5 1144.5,731.5 1155.5,732.5 1167.5,732.5 1178.5,732.5"/>
</g>
<g id="s50">
<text x="862.5" y="1542.9" text-anchor="end" textLength="297" lengthAdjust="spacingAndGlyphs">[elm3a51] Maxtor 7Y250M0 250G 7200RPM SATA Write</text>
<path class="s" stroke="#009e73" d="M870 1540.5H911"/><use href="#p10" x="890.5" y="1540.5" fill="#009e73"/>
<polyline class="s" stroke="#009e73" marker-start="url(#m50)" marker-mid="url(#m50)" marker-end="url(#m50)" points="57.5,693.5 68.5,664.5 80.5,664.5 91.5,664.5 102.5,664.5 114.5,665.5 125.5,665.5 136.5,665.5 148.5,665.5 159.5,665.5 170.5,666.5 182.5,666.5 193.5,666.5 204.5,666.5 216.5,666.5 227.5,667.5 238.5,667.5 249.5,667.5 261.5,667.5 272.5,667.5 283.5,668.5 295.5,668.5 306.5,668.5 317.5,669.5 329.5,669.5 340.5,670.5 351.5,670.5 363.5,670.5 374.5,671.5 385.5,671.5 397.5,671.5 408.5,672.5 419.5,672.5 431.5,673.5 442.5,673.5 453.5,674.5 465.5,674.5 476.5,675.5 487.5,675.5 499.5,676.5 510.5,676.5 521.5,677.5 533.5,678.5 544.5,678.5 555.5,679.5 567.5,680.5 578.5,680.5 589.5,680.5 601.5,681.5 612.5,681.5 623.5,682.5 634.5,683.5 646.5,683.5 657.5,684.5 668.5,684.5 680.5,685.5 691.5,685.5 702.5,686.5 714.5,686.5 725.5,687.5 736.5,687.5 748.5,688.5 759.5,688.5 770.5,689.5 782.5,689.5 793.5,690.5 804.5,690.5 816.5,691.5 827.5,691.5 838.5,692.5 850.5,692.5 861.5,693.5 872.5,695.5 884.5,697.5 895.5,698.5 906.5,698.5 918.5,697.5 929.5,697.5 940.5,697.5 952.5,698.5 963.5,698.5 974.5,699.5 986.5,700.5 997.5,700.5 1008.5,701.5 1019.5,702.5 1031.5,703.5 1042.5,705.5 1053.5,706.5 1065.5,707.5 1076.5,708.5 1087.5,709.5 1099.5,711.5 1110.5,712.5 1121.5,713.5 1133.5,715.5 1144.5,716.5 1155.5,717.5 1167.5,719.5 1178.5,720.5"/>
</g>
<g id="s51">
<text x="862.5" y="1557.9" text-anchor="end" textLength="371.4" lengthAdjust="spacingAndGlyphs">[quad] Western Digital WD5000AAKB 3.5" 500G 7.2kRPM PATA Write</text>
<path class="s" stroke="#56b4e9" d="M870 1555.5H911"/><use href="#p11" x="890.5" y="1555.5" fill="#56b4e9"/>
<polyline class="s" stroke="#56b4e9" marker-start="url(#m51)" marker-mid="url(#m51)" marker-end="url(#m51)" points="57.5,618.5 68.5,614.5 80.5,614.5 91.5,614.5 102.5,614.5 114.5,614.5 125.5,614.5 136.5,614.5 148.5,614.5 159.5,614.5 170.5,614.5 182.5,614.5 193.5,614.5 204.5,614.5 216.5,614.5 227.5,614.5 238.5,614.5 249.5,614.5 261.5,614.5 272.5,614.5 283.5,614.5 295.5,614.5 306.5,614.5 317.5,614.5 329.5,614.5 340.5,614.5 351.5,614.5 363.5,614.5 374.5,614.5 385.5,614.5 397.5,614.5 408.5,614.5 419.5,614.5 431.5,614.5 442.5,614.5 453.5,614.5 465.5,614.5 476.5,614.5 487.5,614.5 499.5,614.5 510.5,614.5 521.5,614.5 533.5,614.5 544.5,614.5 555.5,614.5 567.5,614.5 578.5,614.5 589.5,614.5 601.5,614.5 612.5,614.5 623.5,614.5 634.5,614.5 646.5,614.5 657.5,614.5 668.5,614.5 680.5,614.5 691.5,614.5 702.5,614.5 714.5,614.5 725.5,614.5 736.5,614.5 748.5,614.5 759.5,614.5 770.5,614.5 782.5,614.5 793.5,614.5 804.5,615.5 816.5,616.5 827.5,618.5 838.5,619.5 850.5,621.5 861.5,622.5 872.5,623.5 884.5,624.5 895.5,626.5 906.5,628.5 918.5,629.5 929.5,631.5 940.5,633.5 952.5,635.5 963.5,636.5 974.5,637.5 986.5,639.5 997.5,640.5 1008.5,641.5 1019.5,642.5 1031.5,643.5 1042.5,645.5 1053.5,646.5 1065.5,648.5 1076.5,649.5 1087.5,651.5 1099.5,652.5 1110.5,654.5 1121.5,656.5 1133.5,658.5 1144.5,664.5 1155.5,675.5 1167.5,679.5 1178.5,685.5"/>
</g>
<g id="s52">
<text x="862.5" y="1572.9" text-anchor="end" textLength="370" lengthAdjust="spacingAndGlyphs">[quad] Western Digital WD5000AAKB 3.5" 500G 7.2kRPM PATA Read</text>
<path class="s" stroke="#e69f00" d="M870 1570.5H911"/><use href="#p12" x="890.5" y="1570.5" fill="#e69f00"/>
<polyline class="s" stroke="#e69f00" marker-start="url(#m52)" marker-mid="url(#m52)" marker-end="url(#m52)" points="57.5,618.5 68.5,611.5 80.5,611.5 91.5,611.5 102.5,611.5 114.5,611.5 125.5,611.5 136.5,611.5 148.5,611.5 159.5,611.5 170.5,611.5 182.5,611.5 193.5,611.5 204.5,611.5 216.5,611.5 227.5,611.5 238.5,611.5 249.5,611.5 261.5,611.5 272.5,611.5 283.5,611.5 295.5,611.5 306.5,611.5 317.5,611.5 329.5,611.5 340.5,611.5 351.5,611.5 363.5,611.5 374.5,611.5 385.5,611.5 397.5,611.5 408.5,611.5 419.5,611.5 431.5,611.5 442.5,611.5 453.5,611.5 465.5,611.5 476.5,611.5 487.5,611.5 499.5,611.5 510.5,611.5 521.5,611.5 533.5,611.5 544.5,611.5 555.5,611.5 567.5,611.5 578.5,611.5 589.5,611.5 601.5,611.5 612.5,611.5 623.5,611.5 634.5,611.5 646.5,611.5 657.5,611.5 668.5,611.5 680.5,611.5 691.5,611.5 702.5,611.5 714.5,611.5 725.5,611.5 736.5,611.5 748.5,611.5 759.5,611.5 770.5,611.5 782.5,611.5 793.5,611.5 804.5,612.5 816.5,614.5 827.5,615.5 838.5,617.5 850.5,619.5 861.5,620.5 872.5,621.5 884.5,622.5 895.5,624.5 906.5,626.5 918.5,627.5 929.5,629.5 940.5,631.5 952.5,632.5 963.5,634.5 974.5,635.5 986.5,636.5 997.5,637.5 1008.5,639.5 1019.5,640.5 1031.5,641.5 1042.5,642.5 1053.5,644.5 1065.5,645.5 1076.5,647.5 1087.5,648.5 1099.5,650.5 1110.5,652.5 1121.5,653.5 1133.5,656.5 1144.5,662.5 1155.5,673.5 1167.5,675.5 1178.5,681.5"/>
</g>
<g id="s53">
<text x="862.5" y="1587.9" text-anchor="end" textLength="354" lengthAdjust="spacingAndGlyphs">[quad] Hitachi HTS725050A9A364 2.5" 500G 7.2kRPM SATA Read</text>
<path class="s" stroke="#f0e442" d="M870 1585.5H911"/><use href="#p0" x="890.5" y="1585.5" fill="#f0e442"/>
<polyline class="s" stroke="#f0e442" marker-start="url(#m53)" marker-mid="url(#m53)" marker-end="url(#m53)" points="57.5,578.5 68.5,574.5 80.5,574.5 91.5,575.5 102.5,576.5 114.5,575.5 125.5,574.5 136.5,576.5 148.5,576.5 159.5,577.5 170.5,578.5 182.5,578.5 193.5,579.5 204.5,580.5 216.5,580.5 227.5,581.5 238.5,582.5 249.5,582.5 261.5,583.5 272.5,583.5 283.5,584.5 295.5,586.5 306.5,587.5 317.5,588.5 329.5,588.5 340.5,588.5 351.5,589.5 363.5,589.5 374.5,590.5 385.5,591.5 397.5,593.5 408.5,595.5 419.5,595.5 431.5,595.5 442.5,596.5 453.5,596.5 465.5,597.5 476.5,597.5 487.5,598.5 499.5,598.5 510.5,599.5 521.5,601.5 533.5,603.5 544.5,604.5 555.5,605.5 567.5,606.5 578.5,607.5 589.5,608.5 601.5,608.5 612.5,608.5 623.5,609.5 634.5,610.5 646.5,611.5 657.5,611.5 668.5,612.5 680.5,613.5 691.5,615.5 702.5,617.5 714.5,618.5 725.5,619.5 736.5,620.5 748.5,620.5 759.5,620.5 770.5,621.5 782.5,621.5 793.5,621.5 804.5,622.5 816.5,622.5 827.5,623.5 838.5,624.5 850.5,627.5 861.5,631.5 872.5,632.5 884.5,633.5 895.5,633.5 906.5,633.5 918.5,633.5 929.5,633.5 940.5,633.5 952.5,638.5 963.5,640.5 974.5,641.5 986.5,643.5 997.5,647.5 1008.5,648.5 1019.5,649.5 1031.5,651.5 1042.5,655.5 1053.5,656.5 1065.5,656.5 1076.5,656.5 1087.5,657.5 1099.5,658.5 1110.5,663.5 1121.5,663.5 1133.5,666.5 1144.5,668.5 1155.5,670.5 1167.5,671.5 1178.5,670.5"/>
</g>
<g id="s54">
<text x="862.5" y="1602.9" text-anchor="end" textLength="355.3" lengthAdjust="spacingAndGlyphs">[quad] Hitachi HTS725050A9A364 2.5" 500G 7.2kRPM SATA Write</text>
<path class="s" stroke="#0072b2" d="M870 1600.5H911"/><use href="#p1" x="890.5" y="1600.5" fill="#0072b2"/>
<polyline class="s" stroke="#0072b2" marker-start="url(#m54)" marker-mid="url(#m54)" marker-end="url(#m54)" points="57.5,578.5 68.5,574.5 80.5,573.5 91.5,574.5 102.5,575.5 114.5,574.5 125.5,574.5 136.5,575.5 148.5,575.5 159.5,576.5 170.5,577.5 182.5,577.5 193.5,578.5 204.5,579.5 216.5,579.5 227.5,580.5 238.5,581.5 249.5,581.5 261.5,582.5 272.5,582.5 283.5,583.5 295.5,585.5 306.5,586.5 317.5,586.5 329.5,587.5 340.5,587.5 351.5,588.5 363.5,588.5 374.5,589.5 385.5,590.5 397.5,591.5 408.5,593.5 419.5,594.5 431.5,594.5 442.5,595.5 453.5,595.5 465.5,596.5 476.5,596.5 487.5,597.5 499.5,597.5 510.5,598.5 521.5,600.5 533.5,602.5 544.5,603.5 555.5,603.5 567.5,605.5 578.5,606.5 589.5,606.5 601.5,607.5 612.5,607.5 623.5,608.5 634.5,608.5 646.5,609.5 657.5,610.5 668.5,611.5 680.5,612.5 691.5,613.5 702.5,615.5 714.5,617.5 725.5,618.5 736.5,618.5 748.5,619.5 759.5,619.5 770.5,619.5 782.5,620.5 793.5,620.5 804.5,620.5 816.5,621.5 827.5,622.5 838.5,623.5 850.5,626.5 861.5,629.5 872.5,631.5 884.5,631.5 895.5,631.5 906.5,631.5 918.5,632.5 929.5,632.5 940.5,632.5 952.5,636.5 963.5,639.5 974.5,640.5 986.5,642.5 997.5,646.5 1008.5,647.5 1019.5,647.5 1031.5,650.5 1042.5,654.5 1053.5,655.5 1065.5,655.5 1076.5,655.5 1087.5,655.5 1099.5,657.5 1110.5,661.5 1121.5,662.5 1133.5,664.5 1144.5,667.5 1155.5,669.5 1167.5,670.5 1178.5,669.5"/>
</g>
<g id="s55">
<text x="862.5" y="1617.9" text-anchor="end" textLength="348.1" lengthAdjust="spacingAndGlyphs">[elm3c46] Seagate ST9500430SS 2.5" 500G 7.2kRPM SATA Read</text>
<path class="s" stroke="#e51e10" d="M870 1615.5H911"/><use href="#p2" x="890.5" y="1615.5" fill="#e51e10"/>
<polyline class="s" stroke="#e51e10" marker-start="url(#m55)" marker-mid="url(#m55)" marker-end="url(#m55)" points="57.5,614.5 68.5,597.5 80.5,597.5 91.5,597.5 102.5,597.5 114.5,597.5 125.5,597.5 136.5,597.5 148.5,597.5 159.5,598.5 170.5,601.5 182.5,601.5 193.5,601.5 204.5,601.5 216.5,601.5 227.5,601.5 238.5,602.5 249.5,603.5 261.5,605.5 272.5,605.5 283.5,605.5 295.5,605.5 306.5,605.5 317.5,605.5 329.5,607.5 340.5,611.5 351.5,612.5 363.5,612.5 374.5,612.5 385.5,612.5 397.5,612.5 408.5,612.5 419.5,612.5 431.5,614.5 442.5,617.5 453.5,617.5 465.5,617.5 476.5,617.5 487.5,617.5 499.5,617.5 510.5,618.5 521.5,620.5 533.5,624.5 544.5,626.5 555.5,626.5 567.5,626.5 578.5,626.5 589.5,626.5 601.5,626.5 612.5,628.5 623.5,629.5 634.5,630.5 646.5,630.5 657.5,630.5 668.5,631.5 680.5,631.5 691.5,633.5 702.5,636.5 714.5,636.5 725.5,636.5 736.5,636.5 748.5,636.5 759.5,638.5 770.5,639.5 782.5,639.5 793.5,640.5 804.5,641.5 816.5,641.5 827.5,642.5 838.5,643.5 850.5,644.5 861.5,646.5 872.5,647.5 884.5,648.5 895.5,649.5 906.5,650.5 918.5,651.5 929.5,652.5 940.5,653.5 952.5,654.5 963.5,655.5 974.5,657.5 986.5,658.5 997.5,659.5 1008.5,660.5 1019.5,661.5 1031.5,663.5 1042.5,664.5 1053.5,666.5 1065.5,667.5 1076.5,669.5 1087.5,671.5 1099.5,672.5 1110.5,674.5 1121.5,676.5 1133.5,677.5 1144.5,678.5 1155.5,679.5 1167.5,682.5 1178.5,682.5"/>
</g>
<g id="s56">
<text x="862.5" y="1632.9" text-anchor="end" textLength="477.8" lengthAdjust="spacingAndGlyphs">[blackbox] Seagate ST95005620AS Momentus XT 2.5" 500G 7.2kRPM Hybrid SATA Read</text>
<path class="s" stroke="#000000" d="M870 1630.5H911"/><use href="#p3" x="890.5" y="1630.5" fill="#000000"/>
<polyline class="s" stroke="#000000" marker-start="url(#m56)" marker-mid="url(#m56)" marker-end="url(#m56)" points="57.5,582.5 68.5,580.5 80.5,579.5 91.5,580.5 102.5,581.5 114.5,580.5 125.5,579.5 136.5,580.5 148.5,581.5 159.5,581.5 170.5,582.5 182.5,582.5 193.5,583.5 204.5,583.5 216.5,584.5 227.5,584.5 238.5,585.5 249.5,585.5 261.5,586.5 272.5,586.5 283.5,587.5 295.5,588.5 306.5,589.5 317.5,589.5 329.5,590.5 340.5,590.5 351.5,590.5 363.5,590.5 374.5,591.5 385.5,592.5 397.5,593.5 408.5,595.5 419.5,595.5 431.5,596.5 442.5,596.5 453.5,597.5 465.5,598.5 476.5,598.5 487.5,598.5 499.5,599.5 510.5,600.5 521.5,602.5 533.5,604.5 544.5,604.5 555.5,605.5 567.5,606.5 578.5,608.5 589.5,608.5 601.5,608.5 612.5,609.5 623.5,610.5 634.5,610.5 646.5,611.5 657.5,612.5 668.5,613.5 680.5,614.5 691.5,615.5 702.5,617.5 714.5,619.5 725.5,620.5 736.5,620.5 748.5,621.5 759.5,621.5 770.5,621.5 782.5,622.5 793.5,622.5 804.5,622.5 816.5,623.5 827.5,624.5 838.5,625.5 850.5,628.5 861.5,631.5 872.5,633.5 884.5,633.5 895.5,633.5 906.5,633.5 918.5,633.5 929.5,633.5 940.5,634.5 952.5,638.5 963.5,641.5 974.5,642.5 986.5,644.5 997.5,648.5 1008.5,649.5 1019.5,649.5 1031.5,652.5 1042.5,656.5 1053.5,656.5 1065.5,657.5 1076.5,657.5 1087.5,657.5 1099.5,659.5 1110.5,663.5 1121.5,664.5 1133.5,666.5 1144.5,669.5 1155.5,670.5 1167.5,672.5 1178.5,671.5"/>
</g>
<g id="s57">
<text x="862.5" y="1647.9" text-anchor="end" textLength="331.5" lengthAdjust="spacingAndGlyphs">[quad] Seagate ST3500630NS 500G 3.5" 7.2kRPM SATA Read</text>
<path class="s" stroke="#9400d3" d="M870 1645.5H911"/><use href="#p4" x="890.5" y="1645.5" fill="#9400d3"/>
<polyline class="s" stroke="#9400d3" marker-start="url(#m57)" marker-mid="url(#m57)" marker-end="url(#m57)" points="57.5,634.5 68.5,632.5 80.5,632.5 91.5,632.5 102.5,632.5 114.5,632.5 125.5,632.5 136.5,633.5 148.5,633.5 159.5,633.5 170.5,633.5 182.5,633.5 193.5,633.5 204.5,633.5 216.5,634.5 227.5,634.5 238.5,634.5 249.5,634.5 261.5,634.5 272.5,635.5 283.5,635.5 295.5,635.5 306.5,635.5 317.5,635.5 329.5,636.5 340.5,636.5 351.5,637.5 363.5,638.5 374.5,638.5 385.5,638.5 397.5,638.5 408.5,639.5 419.5,639.5 431.5,639.5 442.5,639.5 453.5,640.5 465.5,640.5 476.5,640.5 487.5,640.5 499.5,641.5 510.5,641.5 521.5,642.5 533.5,643.5 544.5,644.5 555.5,645.5 567.5,646.5 578.5,647.5 589.5,648.5 601.5,649.5 612.5,649.5 623.5,650.5 634.5,651.5 646.5,651.5 657.5,652.5 668.5,652.5 680.5,653.5 691.5,653.5 702.5,654.5 714.5,654.5 725.5,655.5 736.5,656.5 748.5,656.5 759.5,657.5 770.5,657.5 782.5,658.5 793.5,659.5 804.5,659.5 816.5,660.5 827.5,662.5 838.5,663.5 850.5,665.5 861.5,666.5 872.5,667.5 884.5,668.5 895.5,669.5 906.5,669.5 918.5,670.5 929.5,670.5 940.5,670.5 952.5,670.5 963.5,670.5 974.5,671.5 986.5,672.5 997.5,672.5 1008.5,673.5 1019.5,675.5 1031.5,675.5 1042.5,676.5 1053.5,677.5 1065.5,678.5 1076.5,681.5 1087.5,683.5 1099.5,686.5 1110.5,692.5 1121.5,692.5 1133.5,692.5 1144.5,692.5 1155.5,699.5 1167.5,699.5 1178.5,699.5"/>
</g>
<g id="s58">
<text x="862.5" y="1662.9" text-anchor="end" textLength="328.3" lengthAdjust="spacingAndGlyphs">[sub3] Seagate ST32000641AS 2TB 3.5" 7.2kRPM SATA Read</text>
<path class="s" stroke="#009e73" d="M870 1660.5H911"/><use href="#p5" x="890.5" y="1660.5" fill="#009e73"/>
<polyline class="s" stroke="#009e73" marker-start="url(#m58)" marker-mid="url(#m58)" marker-end="url(#m58)" points="57.5,528.5 68.5,529.5 80.5,529.5 91.5,529.5 102.5,529.5 114.5,529.5 125.5,529.5 136.5,529.5 148.5,529.5 159.5,530.5 170.5,530.5 182.5,530.5 193.5,530.5 204.5,530.5 216.5,531.5 227.5,533.5 238.5,535.5 249.5,536.5 261.5,537.5 272.5,538.5 283.5,539.5 295.5,540.5 306.5,541.5 317.5,542.5 329.5,543.5 340.5,543.5 351.5,544.5 363.5,545.5 374.5,546.5 385.5,547.5 397.5,548.5 408.5,549.5 419.5,549.5 431.5,550.5 442.5,551.5 453.5,553.5 465.5,554.5 476.5,554.5 487.5,555.5 499.5,556.5 510.5,557.5 521.5,558.5 533.5,559.5 544.5,560.5 555.5,561.5 567.5,562.5 578.5,563.5 589.5,564.5 601.5,565.5 612.5,566.5 623.5,568.5 634.5,570.5 646.5,571.5 657.5,573.5 668.5,575.5 680.5,575.5 691.5,575.5 702.5,575.5 714.5,576.5 725.5,577.5 736.5,579.5 748.5,582.5 759.5,583.5 770.5,585.5 782.5,587.5 793.5,592.5 804.5,593.5 816.5,593.5 827.5,595.5 838.5,598.5 850.5,598.5 861.5,599.5 872.5,599.5 884.5,600.5 895.5,602.5 906.5,603.5 918.5,605.5 929.5,607.5 940.5,611.5 952.5,614.5 963.5,615.5 974.5,616.5 986.5,617.5 997.5,619.5 1008.5,621.5 1019.5,623.5 1031.5,625.5 1042.5,627.5 1053.5,629.5 1065.5,631.5 1076.5,633.5 1087.5,636.5 1099.5,638.5 1110.5,640.5 1121.5,642.5 1133.5,645.5 1144.5,647.5 1155.5,650.5 1167.5,652.5 1178.5,655.5"/>
</g>
<g id="s59">
<text x="862.5" y="1677.9" text-anchor="end" textLength="390.6" lengthAdjust="spacingAndGlyphs">[sub3] Hitachi HDS723020BLA642 2TB 3.5" 7.2kRPM SATA Read (Quick)</text>
<path class="s" stroke="#56b4e9" d="M870 1675.5H911"/><use href="#p6" x="890.5" y="1675.5" fill="#56b4e9"/>
<polyline class="s" stroke="#56b4e9" marker-start="url(#m59)" marker-mid="url(#m59)" marker-end="url(#m59)" points="57.5,496.5 68.5,488.5 80.5,497.5 91.5,499.5 102.5,492.5 114.5,492.5 125.5,495.5 136.5,492.5 148.5,495.5 159.5,499.5 170.5,502.5 182.5,503.5 193.5,503.5 204.5,503.5 216.5,504.5 227.5,505.5 238.5,506.5 249.5,507.5 261.5,507.5 272.5,508.5 283.5,512.5 295.5,514.5 306.5,516.5 317.5,516.5 329.5,516.5 340.5,516.5 351.5,518.5 363.5,520.5 374.5,523.5 385.5,525.5 397.5,528.5 408.5,530.5 419.5,531.5 431.5,531.5 442.5,530.5 453.5,530.5 465.5,530.5 476.5,531.5 487.5,533.5 499.5,535.5 510.5,537.5 521.5,539.5 533.5,541.5 544.5,542.5 555.5,543.5 567.5,544.5 578.5,544.5 589.5,544.5 601.5,545.5 612.5,547.5 623.5,548.5 634.5,550.5 646.5,552.5 657.5,553.5 668.5,555.5 680.5,556.5 691.5,558.5 702.5,559.5 714.5,560.5 725.5,562.5 736.5,563.5 748.5,565.5 759.5,567.5 770.5,568.5 782.5,570.5 793.5,571.5 804.5,573.5 816.5,574.5 827.5,576.5 838.5,577.5 850.5,578.5 861.5,580.5 872.5,582.5 884.5,584.5 895.5,586.5 906.5,589.5 918.5,590.5 929.5,592.5 940.5,593.5 952.5,595.5 963.5,597.5 974.5,599.5 986.5,601.5 997.5,603.5 1008.5,605.5 1019.5,607.5 1031.5,609.5 1042.5,610.5 1053.5,612.5 1065.5,614.5 1076.5,616.5 1087.5,617.5 1099.5,619.5 1110.5,621.5 1121.5,624.5 1133.5,627.5 1144.5,630.5 1155.5,633.5 1167.5,636.5 1178.5,636.5"/>
</g>
<g id="s60">
<text x="862.5" y="1692.9" text-anchor="end" textLength="303.5" lengthAdjust="spacingAndGlyphs">[sub3] Maxtor 6H400F0 400GB 3.5" 7.2kRPM SATA Read</text>
<path class="s" stroke="#e69f00" d="M870 1690.5H911"/><use href="#p7" x="890.5" y="1690.5" fill="#e69f00"/>
<polyline class="s" stroke="#e69f00" marker-start="url(#m60)" marker-mid="url(#m60)" marker-end="url(#m60)" points="57.5,653.5 68.5,649.5 80.5,649.5 91.5,649.5 102.5,649.5 114.5,649.5 125.5,649.5 136.5,649.5 148.5,649.5 159.5,649.5 170.5,649.5 182.5,650.5 193.5,650.5 204.5,650.5 216.5,650.5 227.5,651.5 238.5,651.5 249.5,651.5 261.5,652.5 272.5,652.5 283.5,652.5 295.5,653.5 306.5,653.5 317.5,653.5 329.5,654.5 340.5,654.5 351.5,654.5 363.5,655.5 374.5,655.5 385.5,655.5 397.5,656.5 408.5,656.5 419.5,656.5 431.5,657.5 442.5,657.5 453.5,657.5 465.5,658.5 476.5,658.5 487.5,658.5 499.5,658.5 510.5,659.5 521.5,659.5 533.5,659.5 544.5,660.5 555.5,660.5 567.5,660.5 578.5,660.5 589.5,661.5 601.5,661.5 612.5,661.5 623.5,662.5 634.5,662.5 646.5,663.5 657.5,663.5 668.5,664.5 680.5,664.5 691.5,665.5 702.5,665.5 714.5,666.5 725.5,666.5 736.5,667.5 748.5,667.5 759.5,668.5 770.5,668.5 782.5,669.5 793.5,669.5 804.5,670.5 816.5,671.5 827.5,671.5 838.5,672.5 850.5,672.5 861.5,673.5 872.5,673.5 884.5,674.5 895.5,674.5 906.5,675.5 918.5,675.5 929.5,676.5 940.5,676.5 952.5,677.5 963.5,677.5 974.5,678.5 986.5,678.5 997.5,679.5 1008.5,679.5 1019.5,680.5 1031.5,681.5 1042.5,682.5 1053.5,683.5 1065.5,684.5 1076.5,685.5 1087.5,685.5 1099.5,686.5 1110.5,688.5 1121.5,689.5 1133.5,690.5 1144.5,691.5 1155.5,692.5 1167.5,692.5 1178.5,692.5"/>
</g>
<g id="s61">
<text x="862.5" y="1707.9" text-anchor="end" textLength="342.2" lengthAdjust="spacingAndGlyphs">[elm3c44] Seagate ST91000640SS 1TB 2.5" 7.2kRPM SAS Read</text>
<path class="s" stroke="#f0e442" d="M870 1705.5H911"/><use href="#p8" x="890.5" y="1705.5" fill="#f0e442"/>
<polyline class="s" stroke="#f0e442" marker-start="url(#m61)" marker-mid="url(#m61)" marker-end="url(#m61)" points="57.5,557.5 68.5,567.5 80.5,566.5 91.5,564.5 102.5,564.5 114.5,564.5 125.5,564.5 136.5,564.5 148.5,564.5 159.5,564.5 170.5,566.5 182.5,567.5 193.5,568.5 204.5,569.5 216.5,570.5 227.5,571.5 238.5,572.5 249.5,573.5 261.5,574.5 272.5,574.5 283.5,575.5 295.5,576.5 306.5,576.5 317.5,577.5 329.5,578.5 340.5,578.5 351.5,579.5 363.5,580.5 374.5,581.5 385.5,582.5 397.5,582.5 408.5,583.5 419.5,584.5 431.5,584.5 442.5,585.5 453.5,586.5 465.5,587.5 476.5,588.5 487.5,588.5 499.5,589.5 510.5,590.5 521.5,591.5 533.5,592.5 544.5,593.5 555.5,593.5 567.5,594.5 578.5,595.5 589.5,596.5 601.5,597.5 612.5,598.5 623.5,599.5 634.5,600.5 646.5,601.5 657.5,602.5 668.5,603.5 680.5,604.5 691.5,605.5 702.5,606.5 714.5,607.5 725.5,608.5 736.5,609.5 748.5,610.5 759.5,611.5 770.5,612.5 782.5,613.5 793.5,614.5 804.5,615.5 816.5,617.5 827.5,618.5 838.5,620.5 850.5,621.5 861.5,623.5 872.5,624.5 884.5,625.5 895.5,627.5 906.5,629.5 918.5,630.5 929.5,632.5 940.5,634.5 952.5,635.5 963.5,637.5 974.5,638.5 986.5,639.5 997.5,640.5 1008.5,642.5 1019.5,643.5 1031.5,644.5 1042.5,645.5 1053.5,647.5 1065.5,648.5 1076.5,650.5 1087.5,651.5 1099.5,653.5 1110.5,655.5 1121.5,656.5 1133.5,659.5 1144.5,665.5 1155.5,669.5 1167.5,672.5 1178.5,673.5"/>
</g>
<g id="s62">
<text x="862.5" y="1722.9" text-anchor="end" textLength="286.2" lengthAdjust="spacingAndGlyphs">[plum] Seagate ST9750422AS 2.5" 750G SATA2 Read</text>
<path class="s" stroke="#0072b2" d="M870 1720.5H911"/><use href="#p9" x="890.5" y="1720.5" fill="#0072b2"/>
<polyline class="s" stroke="#0072b2" marker-start="url(#m62)" marker-mid="url(#m62)" marker-end="url(#m62)" points="57.5,576.5 68.5,565.5 80.5,563.5 91.5,562.5 102.5,562.5 114.5,562.5 125.5,562.5 136.5,562.5 148.5,562.5 159.5,562.5 170.5,563.5 182.5,565.5 193.5,566.5 204.5,567.5 216.5,568.5 227.5,569.5 238.5,570.5 249.5,571.5 261.5,572.5 272.5,572.5 283.5,573.5 295.5,573.5 306.5,574.5 317.5,575.5 329.5,575.5 340.5,576.5 351.5,577.5 363.5,578.5 374.5,579.5 385.5,579.5 397.5,580.5 408.5,581.5 419.5,581.5 431.5,582.5 442.5,583.5 453.5,584.5 465.5,585.5 476.5,585.5 487.5,586.5 499.5,587.5 510.5,588.5 521.5,589.5 533.5,590.5 544.5,590.5 555.5,591.5 567.5,592.5 578.5,593.5 589.5,594.5 601.5,595.5 612.5,595.5 623.5,596.5 634.5,597.5 646.5,598.5 657.5,599.5 668.5,600.5 680.5,602.5 691.5,603.5 702.5,604.5 714.5,605.5 725.5,606.5 736.5,607.5 748.5,608.5 759.5,609.5 770.5,610.5 782.5,611.5 793.5,612.5 804.5,613.5 816.5,615.5 827.5,616.5 838.5,618.5 850.5,619.5 861.5,620.5 872.5,621.5 884.5,623.5 895.5,625.5 906.5,626.5 918.5,628.5 929.5,630.5 940.5,631.5 952.5,633.5 963.5,635.5 974.5,636.5 986.5,637.5 997.5,638.5 1008.5,639.5 1019.5,641.5 1031.5,642.5 1042.5,643.5 1053.5,645.5 1065.5,646.5 1076.5,648.5 1087.5,649.5 1099.5,651.5 1110.5,652.5 1121.5,654.5 1133.5,655.5 1144.5,657.5 1155.5,659.5 1167.5,663.5 1178.5,666.5"/>
</g>
<g id="s63">
<text x="862.5" y="1737.9" text-anchor="end" textLength="378.9" lengthAdjust="spacingAndGlyphs">[blackbox] Hitachi HTS725050A7E630 2.5" 500G 7200RPM SATA Read</text>
<path class="s" stroke="#e51e10" d="M870 1735.5H911"/><use href="#p10" x="890.5" y="1735.5" fill="#e51e10"/>
<polyline class="s" stroke="#e51e10" marker-start="url(#m63)" marker-mid="url(#m63)" marker-end="url(#m63)" points="57.5,536.5 68.5,523.5 80.5,524.5 91.5,524.5 102.5,524.5 114.5,524.5 125.5,523.5 136.5,515.5 148.5,514.5 159.5,514.5 170.5,515.5 182.5,516.5 193.5,519.5 204.5,519.5 216.5,519.5 227.5,520.5 238.5,521.5 249.5,523.5 261.5,523.5 272.5,524.5 283.5,525.5 295.5,527.5 306.5,529.5 317.5,530.5 329.5,531.5 340.5,532.5 351.5,533.5 363.5,534.5 374.5,535.5 385.5,536.5 397.5,537.5 408.5,537.5 419.5,538.5 431.5,539.5 442.5,540.5 453.5,541.5 465.5,542.5 476.5,543.5 487.5,544.5 499.5,544.5 510.5,545.5 521.5,546.5 533.5,549.5 544.5,550.5 555.5,550.5 567.5,551.5 578.5,551.5 589.5,553.5 601.5,554.5 612.5,555.5 623.5,557.5 634.5,558.5 646.5,560.5 657.5,561.5 668.5,562.5 680.5,564.5 691.5,564.5 702.5,565.5 714.5,566.5 725.5,566.5 736.5,568.5 748.5,570.5 759.5,571.5 770.5,572.5 782.5,572.5 793.5,573.5 804.5,575.5 816.5,578.5 827.5,580.5 838.5,582.5 850.5,584.5 861.5,585.5 872.5,587.5 884.5,589.5 895.5,591.5 906.5,592.5 918.5,594.5 929.5,596.5 940.5,598.5 952.5,600.5 963.5,602.5 974.5,603.5 986.5,605.5 997.5,607.5 1008.5,609.5 1019.5,611.5 1031.5,613.5 1042.5,615.5 1053.5,616.5 1065.5,618.5 1076.5,620.5 1087.5,623.5 1099.5,625.5 1110.5,627.5 1121.5,629.5 1133.5,631.5 1144.5,633.5 1155.5,634.5 1167.5,636.5 1178.5,638.5"/>
</g>
<g id="s64">
<text x="862.5" y="1752.9" text-anchor="end" textLength="382.4" lengthAdjust="spacingAndGlyphs">[sub3] Seagate ST2000DM0001-1CH164 3.5" 2TB 7200RPM SATA Read</text>
<path class="s" stroke="#000000" d="M870 1750.5H911"/><use href="#p11" x="890.5" y="1750.5" fill="#000000"/>
<polyline class="s" stroke="#000000" marker-start="url(#m64)" marker-mid="url(#m64)" marker-end="url(#m64)" points="57.5,478.5 68.5,409.5 80.5,411.5 91.5,524.5 102.5,523.5 114.5,522.5 125.5,522.5 136.5,522.5 148.5,522.5 159.5,522.5 170.5,522.5 182.5,522.5 193.5,522.5 204.5,522.5 216.5,522.5 227.5,522.5 238.5,522.5 249.5,522.5 261.5,522.5 272.5,522.5 283.5,522.5 295.5,522.5 306.5,522.5 317.5,522.5 329.5,522.5 340.5,522.5 351.5,522.5 363.5,522.5 374.5,522.5 385.5,522.5 397.5,522.5 408.5,522.5 419.5,522.5 431.5,522.5 442.5,522.5 453.5,522.5 465.5,522.5 476.5,522.5 487.5,522.5 499.5,522.5 510.5,522.5 521.5,522.5 533.5,522.5 544.5,522.5 555.5,522.5 567.5,522.5 578.5,522.5 589.5,522.5 601.5,522.5 612.5,522.5 623.5,522.5 634.5,522.5 646.5,522.5 657.5,522.5 668.5,522.5 680.5,522.5 691.5,522.5 702.5,522.5 714.5,522.5 725.5,522.5 736.5,522.5 748.5,522.5 759.5,522.5 770.5,522.5 782.5,522.5 793.5,522.5 804.5,522.5 816.5,522.5 827.5,522.5 838.5,522.5 850.5,522.5 861.5,522.5 872.5,522.5 884.5,522.5 895.5,522.5 906.5,522.5 918.5,522.5 929.5,522.5 940.5,522.5 952.5,524.5 963.5,529.5 974.5,531.5 986.5,533.5 997.5,538.5 1008.5,540.5 1019.5,544.5 1031.5,548.5 1042.5,550.5 1053.5,560.5 1065.5,561.5 1076.5,561.5 1087.5,575.5 1099.5,576.5 1110.5,583.5 1121.5,582.5 1133.5,588.5 1144.5,588.5 1155.5,595.5 1167.5,602.5 1178.5,600.5"/>
</g>
<g id="s65">
<text x="862.5" y="1767.9" text-anchor="end" textLength="398.4" lengthAdjust="spacingAndGlyphs">[sub3] Seagate ST2000DM0001-1CH164 3.5" 2TB 7200RPM SATA Read #2</text>
<path class="s" stroke="#9400d3" d="M870 1765.5H911"/><use href="#p12" x="890.5" y="1765.5" fill="#9400d3"/>
<polyline class="s" stroke="#9400d3" marker-start="url(#m65)" marker-mid="url(#m65)" marker-end="url(#m65)" points="57.5,531.5 68.5,477.5 80.5,476.5 91.5,479.5 102.5,524.5 114.5,522.5 125.5,522.5 136.5,522.5 148.5,522.5 159.5,522.5 170.5,522.5 182.5,522.5 193.5,522.5 204.5,522.5 216.5,522.5 227.5,522.5 238.5,522.5 249.5,522.5 261.5,522.5 272.5,522.5 283.5,522.5 295.5,522.5 306.5,522.5 317.5,522.5 329.5,522.5 340.5,522.5 351.5,522.5 363.5,522.5 374.5,522.5 385.5,522.5 397.5,522.5 408.5,522.5 419.5,522.5 431.5,522.5 442.5,522.5 453.5,522.5 465.5,522.5 476.5,522.5 487.5,522.5 499.5,522.5 510.5,522.5 521.5,522.5 533.5,522.5 544.5,522.5 555.5,522.5 567.5,522.5 578.5,522.5 589.5,522.5 601.5,522.5 612.5,522.5 623.5,522.5 634.5,522.5 646.5,523.5 657.5,524.5 668.5,525.5 680.5,525.5 691.5,527.5 702.5,528.5 714.5,528.5 725.5,529.5 736.5,529.5 748.5,531.5 759.5,532.5 770.5,532.5 782.5,535.5 793.5,537.5 804.5,536.5 816.5,538.5 827.5,541.5 838.5,541.5 850.5,543.5 861.5,546.5 872.5,548.5 884.5,554.5 895.5,557.5 906.5,558.5 918.5,562.5 929.5,565.5 940.5,565.5 952.5,567.5 963.5,570.5 974.5,571.5 986.5,573.5 997.5,577.5 1008.5,578.5 1019.5,584.5 1031.5,586.5 1042.5,589.5 1053.5,594.5 1065.5,596.5 1076.5,597.5 1087.5,602.5 1099.5,604.5 1110.5,613.5 1121.5,614.5 1133.5,618.5 1144.5,618.5 1155.5,625.5 1167.5,630.5 1178.5,632.5"/>
</g>
<g id="s66">
<text x="862.5" y="1782.9" text-anchor="end" textLength="383.8" lengthAdjust="spacingAndGlyphs">[sub3] Seagate ST2000DM0001-1CH164 3.5" 2TB 7200RPM SATA Write</text>
<path class="s" stroke="#009e73" d="M870 1780.5H911"/><use href="#p0" x="890.5" y="1780.5" fill="#009e73"/>
<polyline class="s" stroke="#009e73" marker-start="url(#m66)" marker-mid="url(#m66)" marker-end="url(#m66)" points="57.5,526.5 68.5,526.5 80.5,525.5 91.5,525.5 102.5,525.5 114.5,525.5 125.5,525.5 136.5,525.5 148.5,526.5 159.5,527.5 170.5,528.5 182.5,528.5 193.5,528.5 204.5,528.5 216.5,529.5 227.5,529.5 238.5,529.5 249.5,529.5 261.5,529.5 272.5,530.5 283.5,530.5 295.5,530.5 306.5,530.5 317.5,530.5 329.5,530.5 340.5,530.5 351.5,530.5 363.5,530.5 374.5,530.5 385.5,530.5 397.5,530.5 408.5,530.5 419.5,530.5 431.5,530.5 442.5,530.5 453.5,530.5 465.5,530.5 476.5,530.5 487.5,530.5 499.5,530.5 510.5,530.5 521.5,530.5 533.5,530.5 544.5,530.5 555.5,530.5 567.5,530.5 578.5,530.5 589.5,530.5 601.5,530.5 612.5,530.5 623.5,530.5 634.5,530.5 646.5,531.5 657.5,531.5 668.5,531.5 680.5,531.5 691.5,533.5 702.5,534.5 714.5,533.5 725.5,533.5 736.5,535.5 748.5,536.5 759.5,537.5 770.5,536.5 782.5,539.5 793.5,539.5 804.5,539.5 816.5,542.5 827.5,545.5 838.5,546.5 850.5,547.5 861.5,549.5 872.5,551.5 884.5,556.5 895.5,561.5 906.5,561.5 918.5,565.5 929.5,567.5 940.5,568.5 952.5,572.5 963.5,574.5 974.5,575.5 986.5,575.5 997.5,580.5 1008.5,580.5 1019.5,586.5 1031.5,590.5 1042.5,591.5 1053.5,598.5 1065.5,599.5 1076.5,599.5 1087.5,604.5 1099.5,606.5 1110.5,615.5 1121.5,615.5 1133.5,620.5 1144.5,620.5 1155.5,626.5 1167.5,631.5 1178.5,628.5"/>
</g>
<g id="s67">
<text x="862.5" y="1797.9" text-anchor="end" textLength="472.3" lengthAdjust="spacingAndGlyphs">[plum] Seagate ST95005620AS Momentus XT 2.5" 500G 7.2kRPM #2 Hybrid SATA Read</text>
<path class="s" stroke="#56b4e9" d="M870 1795.5H911"/><use href="#p1" x="890.5" y="1795.5" fill="#56b4e9"/>
<polyline class="s" stroke="#56b4e9" marker-start="url(#m67)" marker-mid="url(#m67)" marker-end="url(#m67)" points="57.5,574.5 68.5,571.5 80.5,570.5 91.5,571.5 102.5,572.5 114.5,572.5 125.5,571.5 136.5,572.5 148.5,573.5 159.5,573.5 170.5,574.5 182.5,575.5 193.5,576.5 204.5,576.5 216.5,577.5 227.5,578.5 238.5,578.5 249.5,579.5 261.5,580.5 272.5,580.5 283.5,581.5 295.5,583.5 306.5,584.5 317.5,584.5 329.5,585.5 340.5,585.5 351.5,586.5 363.5,586.5 374.5,587.5 385.5,588.5 397.5,589.5 408.5,591.5 419.5,592.5 431.5,592.5 442.5,593.5 453.5,593.5 465.5,594.5 476.5,594.5 487.5,595.5 499.5,595.5 510.5,596.5 521.5,598.5 533.5,600.5 544.5,601.5 555.5,602.5 567.5,603.5 578.5,604.5 589.5,604.5 601.5,605.5 612.5,605.5 623.5,606.5 634.5,607.5 646.5,607.5 657.5,608.5 668.5,609.5 680.5,610.5 691.5,612.5 702.5,614.5 714.5,615.5 725.5,616.5 736.5,617.5 748.5,617.5 759.5,617.5 770.5,618.5 782.5,618.5 793.5,618.5 804.5,618.5 816.5,619.5 827.5,620.5 838.5,621.5 850.5,624.5 861.5,627.5 872.5,629.5 884.5,629.5 895.5,629.5 906.5,630.5 918.5,630.5 929.5,630.5 940.5,630.5 952.5,635.5 963.5,637.5 974.5,638.5 986.5,640.5 997.5,644.5 1008.5,645.5 1019.5,645.5 1031.5,648.5 1042.5,652.5 1053.5,653.5 1065.5,653.5 1076.5,653.5 1087.5,653.5 1099.5,655.5 1110.5,660.5 1121.5,660.5 1133.5,662.5 1144.5,665.5 1155.5,667.5 1167.5,668.5 1178.5,667.5"/>
</g>
<g id="s68">
<text x="862.5" y="1812.9" text-anchor="end" textLength="346.6" lengthAdjust="spacingAndGlyphs">[plum] Seagate ST32000641AS 2TB 3.5" 7.2kRPM #2 SATA Read</text>
<path class="s" stroke="#e69f00" d="M870 1810.5H911"/><use href="#p2" x="890.5" y="1810.5" fill="#e69f00"/>
<polyline class="s" stroke="#e69f00" marker-start="url(#m68)" marker-mid="url(#m68)" marker-end="url(#m68)" points="57.5,540.5 68.5,533.5 80.5,532.5 91.5,532.5 102.5,534.5 114.5,533.5 125.5,537.5 136.5,537.5 148.5,536.5 159.5,536.5 170.5,538.5 182.5,538.5 193.5,538.5 204.5,539.5 216.5,541.5 227.5,541.5 238.5,541.5 249.5,541.5 261.5,541.5 272.5,541.5 283.5,542.5 295.5,542.5 306.5,542.5 317.5,543.5 329.5,546.5 340.5,548.5 351.5,548.5 363.5,548.5 374.5,548.5 385.5,548.5 397.5,549.5 408.5,551.5 419.5,552.5 431.5,553.5 442.5,554.5 453.5,554.5 465.5,555.5 476.5,556.5 487.5,557.5 499.5,558.5 510.5,560.5 521.5,561.5 533.5,562.5 544.5,563.5 555.5,564.5 567.5,565.5 578.5,566.5 589.5,567.5 601.5,568.5 612.5,569.5 623.5,570.5 634.5,571.5 646.5,572.5 657.5,573.5 668.5,575.5 680.5,577.5 691.5,578.5 702.5,578.5 714.5,578.5 725.5,579.5 736.5,580.5 748.5,581.5 759.5,583.5 770.5,584.5 782.5,588.5 793.5,592.5 804.5,594.5 816.5,594.5 827.5,595.5 838.5,597.5 850.5,598.5 861.5,598.5 872.5,598.5 884.5,600.5 895.5,601.5 906.5,603.5 918.5,606.5 929.5,608.5 940.5,611.5 952.5,614.5 963.5,616.5 974.5,617.5 986.5,619.5 997.5,620.5 1008.5,622.5 1019.5,624.5 1031.5,626.5 1042.5,628.5 1053.5,630.5 1065.5,632.5 1076.5,634.5 1087.5,636.5 1099.5,638.5 1110.5,640.5 1121.5,642.5 1133.5,644.5 1144.5,647.5 1155.5,649.5 1167.5,651.5 1178.5,653.5"/>
</g>
<g id="s69">
<text x="862.5" y="1827.9" text-anchor="end" textLength="369.4" lengthAdjust="spacingAndGlyphs">[boo] Seagate ST1000DM003-9YN162 3.5" 1TB 7200RPM SATA Read</text>
<path class="s" stroke="#f0e442" d="M870 1825.5H911"/><use href="#p3" x="890.5" y="1825.5" fill="#f0e442"/>
<polyline class="s" stroke="#f0e442" marker-start="url(#m69)" marker-mid="url(#m69)" marker-end="url(#m69)" points="57.5,486.5 68.5,414.5 80.5,414.5 91.5,414.5 102.5,414.5 114.5,415.5 125.5,416.5 136.5,416.5 148.5,416.5 159.5,416.5 170.5,417.5 182.5,417.5 193.5,417.5 204.5,417.5 216.5,418.5 227.5,419.5 238.5,421.5 249.5,421.5 261.5,421.5 272.5,421.5 283.5,422.5 295.5,425.5 306.5,428.5 317.5,428.5 329.5,428.5 340.5,429.5 351.5,429.5 363.5,429.5 374.5,429.5 385.5,429.5 397.5,431.5 408.5,431.5 419.5,432.5 431.5,434.5 442.5,435.5 453.5,437.5 465.5,438.5 476.5,440.5 487.5,441.5 499.5,442.5 510.5,444.5 521.5,445.5 533.5,447.5 544.5,450.5 555.5,451.5 567.5,451.5 578.5,452.5 589.5,455.5 601.5,457.5 612.5,458.5 623.5,459.5 634.5,459.5 646.5,461.5 657.5,463.5 668.5,465.5 680.5,467.5 691.5,468.5 702.5,470.5 714.5,473.5 725.5,474.5 736.5,477.5 748.5,479.5 759.5,483.5 770.5,486.5 782.5,486.5 793.5,487.5 804.5,489.5 816.5,492.5 827.5,495.5 838.5,499.5 850.5,501.5 861.5,503.5 872.5,505.5 884.5,507.5 895.5,511.5 906.5,513.5 918.5,515.5 929.5,518.5 940.5,520.5 952.5,523.5 963.5,528.5 974.5,530.5 986.5,534.5 997.5,538.5 1008.5,539.5 1019.5,546.5 1031.5,548.5 1042.5,552.5 1053.5,562.5 1065.5,564.5 1076.5,565.5 1087.5,570.5 1099.5,571.5 1110.5,573.5 1121.5,576.5 1133.5,582.5 1144.5,585.5 1155.5,586.5 1167.5,593.5 1178.5,593.5"/>
</g>
<g id="s70">
<text x="862.5" y="1842.9" text-anchor="end" textLength="433.1" lengthAdjust="spacingAndGlyphs">[flax] Western Digital Scorpio Black WD3200BEK 320G 2.5" 7.2kRPM SATA Read</text>
<path class="s" stroke="#0072b2" d="M870 1840.5H911"/><use href="#p4" x="890.5" y="1840.5" fill="#0072b2"/>
<polyline class="s" stroke="#0072b2" marker-start="url(#m70)" marker-mid="url(#m70)" points="57.5,566.5 68.5,563.5 80.5,562.5 91.5,560.5 102.5,560.5 114.5,560.5 125.5,560.5 136.5,560.5 148.5,560.5 159.5,560.5 170.5,561.5 182.5,563.5 193.5,564.5 204.5,565.5 216.5,566.5 227.5,567.5 238.5,568.5 249.5,569.5 261.5,570.5 272.5,570.5 283.5,571.5 295.5,572.5 306.5,572.5 317.5,573.5 329.5,574.5 340.5,574.5 351.5,575.5 363.5,576.5 374.5,577.5 385.5,578.5 397.5,578.5 408.5,579.5 419.5,580.5 431.5,580.5 442.5,581.5 453.5,582.5 465.5,583.5 476.5,584.5 487.5,584.5 499.5,585.5 510.5,586.5 521.5,587.5 533.5,588.5 544.5,589.5 555.5,589.5 567.5,590.5 578.5,591.5 589.5,592.5 601.5,593.5 612.5,594.5 623.5,595.5 634.5,596.5 646.5,597.5 657.5,598.5 668.5,599.5 680.5,600.5 691.5,601.5 702.5,602.5 714.5,603.5 725.5,604.5 736.5,605.5 748.5,606.5 759.5,607.5 770.5,608.5 782.5,609.5 793.5,610.5 804.5,611.5 816.5,613.5 827.5,614.5 838.5,616.5 850.5,617.5 861.5,619.5 872.5,620.5 884.5,621.5 895.5,623.5 906.5,625.5 918.5,626.5 929.5,628.5 940.5,630.5 952.5,631.5 963.5,633.5 974.5,634.5 986.5,635.5 997.5,636.5 1008.5,638.5 1019.5,639.5 1031.5,640.5 1042.5,641.5 1053.5,643.5 1065.5,644.5 1076.5,646.5 1087.5,647.5 1099.5,649.5 1110.5,651.5 1121.5,652.5 1133.5,655.5 1144.5,660.5 1155.5,672.5 1167.5,699.5 1178.5,762.5"/>
</g>
<g id="s71">
<text x="862.5" y="1857.9" text-anchor="end" textLength="360.4" lengthAdjust="spacingAndGlyphs">[blackbox] HGST HTS721010A9E630 1TB 2.5" 7.2kRPM SATA Read</text>
<path class="s" stroke="#e51e10" d="M870 1855.5H911"/><use href="#p5" x="890.5" y="1855.5" fill="#e51e10"/>
<polyline class="s" stroke="#e51e10" marker-start="url(#m71)" marker-mid="url(#m71)" points="57.5,511.5 68.5,522.5 80.5,522.5 91.5,520.5 102.5,520.5 114.5,522.5 125.5,523.5 136.5,523.5 148.5,524.5 159.5,527.5 170.5,527.5 182.5,526.5 193.5,526.5 204.5,526.5 216.5,527.5 227.5,528.5 238.5,529.5 249.5,530.5 261.5,531.5 272.5,532.5 283.5,534.5 295.5,534.5 306.5,535.5 317.5,535.5 329.5,537.5 340.5,539.5 351.5,540.5 363.5,541.5 374.5,543.5 385.5,543.5 397.5,544.5 408.5,544.5 419.5,545.5 431.5,545.5 442.5,546.5 453.5,547.5 465.5,549.5 476.5,551.5 487.5,553.5 499.5,555.5 510.5,556.5 521.5,556.5 533.5,556.5 544.5,557.5 555.5,558.5 567.5,559.5 578.5,561.5 589.5,562.5 601.5,563.5 612.5,565.5 623.5,567.5 634.5,568.5 646.5,570.5 657.5,573.5 668.5,576.5 680.5,578.5 691.5,582.5 702.5,584.5 714.5,584.5 725.5,584.5 736.5,584.5 748.5,584.5 759.5,584.5 770.5,585.5 782.5,585.5 793.5,587.5 804.5,589.5 816.5,590.5 827.5,592.5 838.5,594.5 850.5,596.5 861.5,598.5 872.5,600.5 884.5,602.5 895.5,601.5 906.5,600.5 918.5,600.5 929.5,603.5 940.5,604.5 952.5,606.5 963.5,609.5 974.5,612.5 986.5,614.5 997.5,616.5 1008.5,618.5 1019.5,619.5 1031.5,620.5 1042.5,621.5 1053.5,624.5 1065.5,626.5 1076.5,628.5 1087.5,629.5 1099.5,629.5 1110.5,630.5 1121.5,632.5 1133.5,633.5 1144.5,636.5 1155.5,640.5 1167.5,641.5 1178.5,644.5"/>
</g>
<g id="s72">
<text x="862.5" y="1872.9" text-anchor="end" textLength="339.6" lengthAdjust="spacingAndGlyphs">[sub3] HGST HDN724030ALE640 3TB 3.5" 7.2kRPM SATA Read</text>
<path class="s" stroke="#000000" d="M870 1870.5H911"/><use href="#p6" x="890.5" y="1870.5" fill="#000000"/>
<polyline class="s" stroke="#000000" marker-start="url(#m72)" marker-mid="url(#m72)" points="57.5,535.5 68.5,496.5 80.5,495.5 91.5,495.5 102.5,499.5 114.5,498.5 125.5,496.5 136.5,498.5 148.5,500.5 159.5,499.5 170.5,499.5 182.5,500.5 193.5,501.5 204.5,501.5 216.5,501.5 227.5,502.5 238.5,502.5 249.5,502.5 261.5,502.5 272.5,502.5 283.5,505.5 295.5,507.5 306.5,509.5 317.5,511.5 329.5,511.5 340.5,512.5 351.5,514.5 363.5,516.5 374.5,522.5 385.5,526.5 397.5,524.5 408.5,519.5 419.5,517.5 431.5,517.5 442.5,519.5 453.5,520.5 465.5,522.5 476.5,525.5 487.5,526.5 499.5,525.5 510.5,525.5 521.5,526.5 533.5,527.5 544.5,528.5 555.5,529.5 567.5,530.5 578.5,530.5 589.5,531.5 601.5,532.5 612.5,533.5 623.5,533.5 634.5,534.5 646.5,537.5 657.5,539.5 668.5,541.5 680.5,542.5 691.5,543.5 702.5,544.5 714.5,546.5 725.5,548.5 736.5,548.5 748.5,548.5 759.5,548.5 770.5,549.5 782.5,551.5 793.5,553.5 804.5,556.5 816.5,558.5 827.5,560.5 838.5,562.5 850.5,564.5 861.5,564.5 872.5,565.5 884.5,566.5 895.5,568.5 906.5,570.5 918.5,571.5 929.5,572.5 940.5,574.5 952.5,576.5 963.5,578.5 974.5,580.5 986.5,581.5 997.5,583.5 1008.5,585.5 1019.5,588.5 1031.5,590.5 1042.5,592.5 1053.5,595.5 1065.5,597.5 1076.5,599.5 1087.5,601.5 1099.5,603.5 1110.5,605.5 1121.5,610.5 1133.5,608.5 1144.5,604.5 1155.5,617.5 1167.5,619.5 1178.5,612.5"/>
</g>
<g id="s73">
<text x="862.5" y="1887.9" text-anchor="end" textLength="288.7" lengthAdjust="spacingAndGlyphs">[sub3] WDC WD30EFRX 3TB 3.5" 7.2kRPM SATA Read</text>
<path class="s" stroke="#9400d3" d="M870 1885.5H911"/><use href="#p7" x="890.5" y="1885.5" fill="#9400d3"/>
<polyline class="s" stroke="#9400d3" marker-start="url(#m73)" marker-mid="url(#m73)" points="57.5,531.5 68.5,530.5 80.5,537.5 91.5,536.5 102.5,531.5 114.5,541.5 125.5,534.5 136.5,526.5 148.5,519.5 159.5,524.5 170.5,533.5 182.5,535.5 193.5,535.5 204.5,533.5 216.5,536.5 227.5,541.5 238.5,540.5 249.5,537.5 261.5,536.5 272.5,539.5 283.5,543.5 295.5,544.5 306.5,546.5 317.5,549.5 329.5,548.5 340.5,543.5 351.5,541.5 363.5,544.5 374.5,548.5 385.5,551.5 397.5,554.5 408.5,557.5 419.5,557.5 431.5,557.5 442.5,557.5 453.5,557.5 465.5,558.5 476.5,559.5 487.5,560.5 499.5,563.5 510.5,567.5 521.5,572.5 533.5,577.5 544.5,580.5 555.5,579.5 567.5,578.5 578.5,579.5 589.5,580.5 601.5,580.5 612.5,580.5 623.5,583.5 634.5,585.5 646.5,584.5 657.5,582.5 668.5,583.5 680.5,586.5 691.5,589.5 702.5,590.5 714.5,591.5 725.5,592.5 736.5,592.5 748.5,591.5 759.5,592.5 770.5,598.5 782.5,603.5 793.5,605.5 804.5,605.5 816.5,605.5 827.5,604.5 838.5,604.5 850.5,605.5 861.5,607.5 872.5,610.5 884.5,610.5 895.5,607.5 906.5,608.5 918.5,613.5 929.5,616.5 940.5,618.5 952.5,620.5 963.5,621.5 974.5,621.5 986.5,621.5 997.5,623.5 1008.5,625.5 1019.5,628.5 1031.5,629.5 1042.5,630.5 1053.5,631.5 1065.5,637.5 1076.5,639.5 1087.5,640.5 1099.5,642.5 1110.5,643.5 1121.5,644.5 1133.5,649.5 1144.5,650.5 1155.5,647.5 1167.5,653.5 1178.5,647.5"/>
</g>
<g id="s74">
<text x="862.5" y="1902.9" text-anchor="end" textLength="379.4" lengthAdjust="spacingAndGlyphs">[plum] HGST HSH721414ALN6M0 14TB 3.5" 7.2kRPM SMR SATA Read</text>
<path class="s" stroke="#009e73" d="M870 1900.5H911"/><use href="#p8" x="890.5" y="1900.5" fill="#009e73"/>
<polyline class="s" stroke="#009e73" marker-start="url(#m74)" marker-mid="url(#m74)" points="57.5,499.5 68.5,323.5 80.5,127.5 91.5,128.5 102.5,128.5 114.5,128.5 125.5,128.5 136.5,128.5 148.5,128.5 159.5,128.5 170.5,128.5 182.5,128.5 193.5,128.5 204.5,127.5 216.5,128.5 227.5,127.5 238.5,128.5 249.5,127.5 261.5,128.5 272.5,128.5 283.5,128.5 295.5,127.5 306.5,127.5 317.5,128.5 329.5,127.5 340.5,128.5 351.5,128.5 363.5,128.5 374.5,128.5 385.5,130.5 397.5,132.5 408.5,129.5 419.5,128.5 431.5,128.5 442.5,128.5 453.5,128.5 465.5,127.5 476.5,128.5 487.5,128.5 499.5,128.5 510.5,128.5 521.5,128.5 533.5,128.5 544.5,127.5 555.5,128.5 567.5,128.5 578.5,128.5 589.5,128.5 601.5,128.5 612.5,128.5 623.5,128.5 634.5,127.5 646.5,127.5 657.5,128.5 668.5,128.5 680.5,128.5 691.5,128.5 702.5,129.5 714.5,128.5 725.5,127.5 736.5,128.5 748.5,128.5 759.5,128.5 770.5,128.5 782.5,128.5 793.5,128.5 804.5,128.5 816.5,128.5 827.5,128.5 838.5,128.5 850.5,128.5 861.5,128.5 872.5,128.5 884.5,128.5 895.5,128.5 906.5,128.5 918.5,128.5 929.5,128.5 940.5,128.5 952.5,128.5 963.5,128.5 974.5,128.5 986.5,128.5 997.5,128.5 1008.5,128.5 1019.5,127.5 1031.5,128.5 1042.5,127.5 1053.5,128.5 1065.5,128.5 1076.5,128.5 1087.5,128.5 1099.5,128.5 1110.5,128.5 1121.5,128.5 1133.5,128.5 1144.5,127.5 1155.5,128.5 1167.5,128.5 1178.5,128.5"/>
</g>
</g>
<rect class="t" x="57.5" y="36.5" width="1121" height="735"/>
<rect class="t" x="317.5" y="797.5" width="600" height="1110"/>
</svg>
</body>
</html>
